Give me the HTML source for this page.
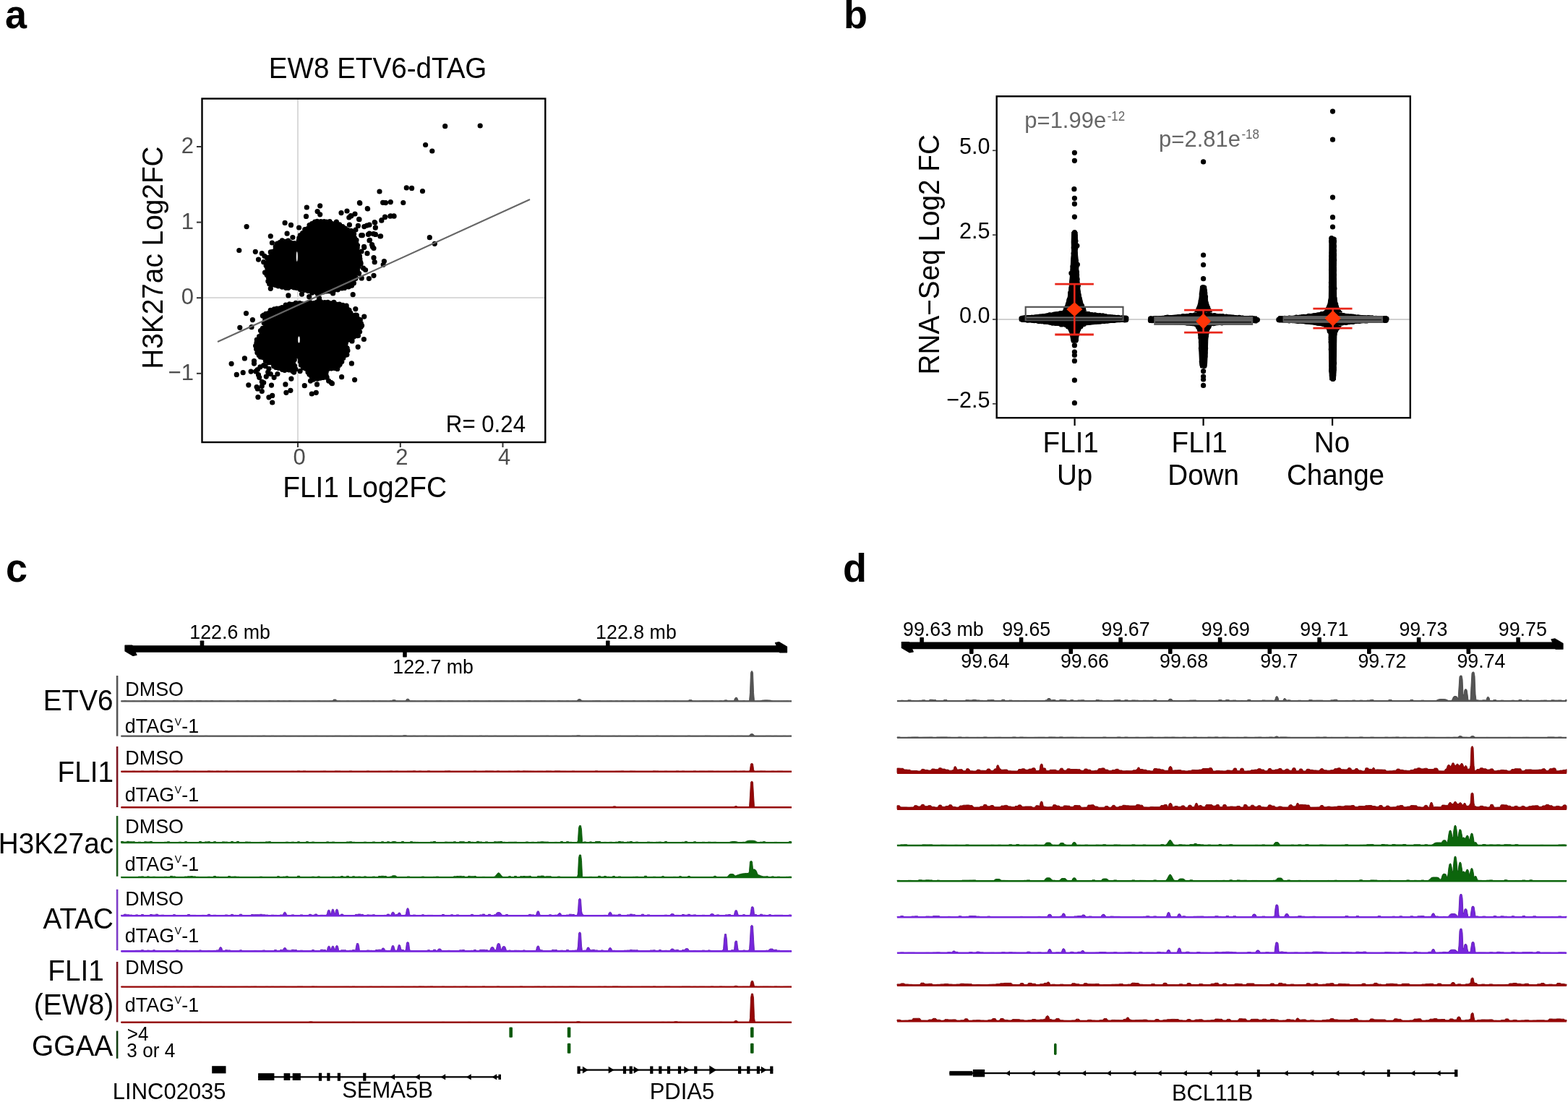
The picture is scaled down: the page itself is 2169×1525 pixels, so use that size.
<!DOCTYPE html>
<html><head><meta charset="utf-8"><title>Figure</title>
<style>
html,body{margin:0;padding:0;background:#fff;}
svg{display:block;font-family:'Liberation Sans', Arial, Helvetica, sans-serif;}
</style></head>
<body>
<svg width="2169" height="1525" viewBox="0 0 2169 1525">
<rect x="0" y="0" width="2169" height="1525" fill="#fff"/>
<text transform="translate(7,39) scale(1,1.04)" font-size="54" fill="#000" text-anchor="start" font-weight="bold" >a</text>
<text transform="translate(522.6,108) scale(1,1.04)" font-size="38.6" fill="#000" text-anchor="middle" >EW8 ETV6-dTAG</text>
<line x1="412" y1="137.5" x2="412" y2="611" stroke="#dadada" stroke-width="2" />
<line x1="280.5" y1="412.1" x2="753.3" y2="412.1" stroke="#dadada" stroke-width="2" />
<polygon points="369.5,371.1 370.7,390.3 377.9,392.7 393.5,397.5 407.9,396.3 419.9,401.1 437.9,404.7 455.8,402.3 473.8,397.5 487,393.9 489.4,387.9 491.8,379.5 494.2,373.5 497.8,363.9 495.4,351.9 494.2,342.3 491.8,330.3 489.4,323.2 479.8,318.4 472.6,314.8 465.4,310.6 453.4,308.2 443.9,305.8 435.5,308.2 427.1,313.6 418.7,322 413.9,329.1 412.7,337.5 410.3,339.9 405.5,336.3 395.9,333.9 388.7,333.9 383.9,338.7 381.5,344.7 376.7,351.9 371.9,359.1 369.5,363.9" fill="#000" stroke="#000" stroke-width="3" stroke-linejoin="round"/>
<path d="M366.2,371.1a3.6,3.6 0 1,0 7.2,0a3.6,3.6 0 1,0 -7.2,0M366.1,375.7a3.6,3.6 0 1,0 7.2,0a3.6,3.6 0 1,0 -7.2,0M365.6,380.5a3.6,3.6 0 1,0 7.2,0a3.6,3.6 0 1,0 -7.2,0M367.7,383.7a3.6,3.6 0 1,0 7.2,0a3.6,3.6 0 1,0 -7.2,0M367.3,389.2a3.6,3.6 0 1,0 7.2,0a3.6,3.6 0 1,0 -7.2,0M369.1,393a3.6,3.6 0 1,0 7.2,0a3.6,3.6 0 1,0 -7.2,0M373.4,394a3.6,3.6 0 1,0 7.2,0a3.6,3.6 0 1,0 -7.2,0M377.9,394.7a3.6,3.6 0 1,0 7.2,0a3.6,3.6 0 1,0 -7.2,0M381.3,395.8a3.6,3.6 0 1,0 7.2,0a3.6,3.6 0 1,0 -7.2,0M386.6,397.1a3.6,3.6 0 1,0 7.2,0a3.6,3.6 0 1,0 -7.2,0M391.9,398.3a3.6,3.6 0 1,0 7.2,0a3.6,3.6 0 1,0 -7.2,0M395.2,398.3a3.6,3.6 0 1,0 7.2,0a3.6,3.6 0 1,0 -7.2,0M399.8,396.6a3.6,3.6 0 1,0 7.2,0a3.6,3.6 0 1,0 -7.2,0M403.2,398a3.6,3.6 0 1,0 7.2,0a3.6,3.6 0 1,0 -7.2,0M406.8,398.5a3.6,3.6 0 1,0 7.2,0a3.6,3.6 0 1,0 -7.2,0M411.9,400.6a3.6,3.6 0 1,0 7.2,0a3.6,3.6 0 1,0 -7.2,0M417.6,401.5a3.6,3.6 0 1,0 7.2,0a3.6,3.6 0 1,0 -7.2,0M422.8,402.7a3.6,3.6 0 1,0 7.2,0a3.6,3.6 0 1,0 -7.2,0M428.1,405.1a3.6,3.6 0 1,0 7.2,0a3.6,3.6 0 1,0 -7.2,0M431.9,403.6a3.6,3.6 0 1,0 7.2,0a3.6,3.6 0 1,0 -7.2,0M435.7,406.4a3.6,3.6 0 1,0 7.2,0a3.6,3.6 0 1,0 -7.2,0M439.9,404.8a3.6,3.6 0 1,0 7.2,0a3.6,3.6 0 1,0 -7.2,0M443.8,403.9a3.6,3.6 0 1,0 7.2,0a3.6,3.6 0 1,0 -7.2,0M447.8,402.9a3.6,3.6 0 1,0 7.2,0a3.6,3.6 0 1,0 -7.2,0M452.7,402.9a3.6,3.6 0 1,0 7.2,0a3.6,3.6 0 1,0 -7.2,0M458.2,401.8a3.6,3.6 0 1,0 7.2,0a3.6,3.6 0 1,0 -7.2,0M463.8,400.8a3.6,3.6 0 1,0 7.2,0a3.6,3.6 0 1,0 -7.2,0M469.3,398.8a3.6,3.6 0 1,0 7.2,0a3.6,3.6 0 1,0 -7.2,0M472.9,398.4a3.6,3.6 0 1,0 7.2,0a3.6,3.6 0 1,0 -7.2,0M478.5,397a3.6,3.6 0 1,0 7.2,0a3.6,3.6 0 1,0 -7.2,0M482.9,395.2a3.6,3.6 0 1,0 7.2,0a3.6,3.6 0 1,0 -7.2,0M485.8,391.8a3.6,3.6 0 1,0 7.2,0a3.6,3.6 0 1,0 -7.2,0M486,386.8a3.6,3.6 0 1,0 7.2,0a3.6,3.6 0 1,0 -7.2,0M488.5,384.1a3.6,3.6 0 1,0 7.2,0a3.6,3.6 0 1,0 -7.2,0M488.1,377.8a3.6,3.6 0 1,0 7.2,0a3.6,3.6 0 1,0 -7.2,0M490.9,373.3a3.6,3.6 0 1,0 7.2,0a3.6,3.6 0 1,0 -7.2,0M491.9,369.8a3.6,3.6 0 1,0 7.2,0a3.6,3.6 0 1,0 -7.2,0M495.3,365.5a3.6,3.6 0 1,0 7.2,0a3.6,3.6 0 1,0 -7.2,0M494.6,361.6a3.6,3.6 0 1,0 7.2,0a3.6,3.6 0 1,0 -7.2,0M494.3,358.4a3.6,3.6 0 1,0 7.2,0a3.6,3.6 0 1,0 -7.2,0M493.9,354.3a3.6,3.6 0 1,0 7.2,0a3.6,3.6 0 1,0 -7.2,0M491.9,348.8a3.6,3.6 0 1,0 7.2,0a3.6,3.6 0 1,0 -7.2,0M490.6,343.1a3.6,3.6 0 1,0 7.2,0a3.6,3.6 0 1,0 -7.2,0M490.9,339.6a3.6,3.6 0 1,0 7.2,0a3.6,3.6 0 1,0 -7.2,0M489.1,336.7a3.6,3.6 0 1,0 7.2,0a3.6,3.6 0 1,0 -7.2,0M489.4,332.3a3.6,3.6 0 1,0 7.2,0a3.6,3.6 0 1,0 -7.2,0M486.9,329.3a3.6,3.6 0 1,0 7.2,0a3.6,3.6 0 1,0 -7.2,0M486,323.8a3.6,3.6 0 1,0 7.2,0a3.6,3.6 0 1,0 -7.2,0M482,319.4a3.6,3.6 0 1,0 7.2,0a3.6,3.6 0 1,0 -7.2,0M477.7,318.7a3.6,3.6 0 1,0 7.2,0a3.6,3.6 0 1,0 -7.2,0M473.9,316.2a3.6,3.6 0 1,0 7.2,0a3.6,3.6 0 1,0 -7.2,0M469.5,314.3a3.6,3.6 0 1,0 7.2,0a3.6,3.6 0 1,0 -7.2,0M466,310.9a3.6,3.6 0 1,0 7.2,0a3.6,3.6 0 1,0 -7.2,0M461.1,310.1a3.6,3.6 0 1,0 7.2,0a3.6,3.6 0 1,0 -7.2,0M456,309.7a3.6,3.6 0 1,0 7.2,0a3.6,3.6 0 1,0 -7.2,0M452.5,306.7a3.6,3.6 0 1,0 7.2,0a3.6,3.6 0 1,0 -7.2,0M447.9,307a3.6,3.6 0 1,0 7.2,0a3.6,3.6 0 1,0 -7.2,0M444.7,306.6a3.6,3.6 0 1,0 7.2,0a3.6,3.6 0 1,0 -7.2,0M440.3,306.7a3.6,3.6 0 1,0 7.2,0a3.6,3.6 0 1,0 -7.2,0M435.2,306.3a3.6,3.6 0 1,0 7.2,0a3.6,3.6 0 1,0 -7.2,0M432,307.2a3.6,3.6 0 1,0 7.2,0a3.6,3.6 0 1,0 -7.2,0M427.9,309.5a3.6,3.6 0 1,0 7.2,0a3.6,3.6 0 1,0 -7.2,0M424.4,311.6a3.6,3.6 0 1,0 7.2,0a3.6,3.6 0 1,0 -7.2,0M421.8,316.5a3.6,3.6 0 1,0 7.2,0a3.6,3.6 0 1,0 -7.2,0M418.1,317.5a3.6,3.6 0 1,0 7.2,0a3.6,3.6 0 1,0 -7.2,0M415,322.5a3.6,3.6 0 1,0 7.2,0a3.6,3.6 0 1,0 -7.2,0M411.7,325.6a3.6,3.6 0 1,0 7.2,0a3.6,3.6 0 1,0 -7.2,0M410.2,329.4a3.6,3.6 0 1,0 7.2,0a3.6,3.6 0 1,0 -7.2,0M409.6,333.3a3.6,3.6 0 1,0 7.2,0a3.6,3.6 0 1,0 -7.2,0M408.8,338a3.6,3.6 0 1,0 7.2,0a3.6,3.6 0 1,0 -7.2,0M406.4,338.1a3.6,3.6 0 1,0 7.2,0a3.6,3.6 0 1,0 -7.2,0M403.5,336.7a3.6,3.6 0 1,0 7.2,0a3.6,3.6 0 1,0 -7.2,0M398.3,335.5a3.6,3.6 0 1,0 7.2,0a3.6,3.6 0 1,0 -7.2,0M395,333.2a3.6,3.6 0 1,0 7.2,0a3.6,3.6 0 1,0 -7.2,0M391,334.4a3.6,3.6 0 1,0 7.2,0a3.6,3.6 0 1,0 -7.2,0M386.7,332.8a3.6,3.6 0 1,0 7.2,0a3.6,3.6 0 1,0 -7.2,0M383.8,335.3a3.6,3.6 0 1,0 7.2,0a3.6,3.6 0 1,0 -7.2,0M379.9,337.1a3.6,3.6 0 1,0 7.2,0a3.6,3.6 0 1,0 -7.2,0M377.6,341.4a3.6,3.6 0 1,0 7.2,0a3.6,3.6 0 1,0 -7.2,0M377.6,345.2a3.6,3.6 0 1,0 7.2,0a3.6,3.6 0 1,0 -7.2,0M373.5,348.4a3.6,3.6 0 1,0 7.2,0a3.6,3.6 0 1,0 -7.2,0M372.7,353.2a3.6,3.6 0 1,0 7.2,0a3.6,3.6 0 1,0 -7.2,0M370,355.5a3.6,3.6 0 1,0 7.2,0a3.6,3.6 0 1,0 -7.2,0M367.3,358.1a3.6,3.6 0 1,0 7.2,0a3.6,3.6 0 1,0 -7.2,0M366.4,363.9a3.6,3.6 0 1,0 7.2,0a3.6,3.6 0 1,0 -7.2,0M364.5,367.6a3.6,3.6 0 1,0 7.2,0a3.6,3.6 0 1,0 -7.2,0" fill="#000"/>
<polygon points="364.7,436 374.3,431.2 389.9,425.2 407.9,420.4 417.5,421.6 431.9,420.4 443.9,419.2 455.8,419.2 467.8,420.4 477.4,424 483.4,431.2 487,436 494.2,438.4 501.4,450.3 496.6,456.3 494.2,464.7 487,468.3 479.8,470.7 476.2,476.7 481,483.9 479.8,491.1 471.4,495.9 470.2,505.5 465.4,510.3 454.6,510.3 449.8,515.1 448.6,522.3 441.5,524.7 431.9,523.5 427.1,517.5 423.5,511.5 417.5,503.1 416.3,494.7 411.5,491.1 405.5,497.1 405.5,504.3 407.9,512.7 401.9,512.7 393.5,510.3 383.9,507.9 376.7,503.1 369.5,499.5 364.7,495.9 357.5,488.7 355.1,477.9 357.5,468.3 362.3,459.9 367.1,450.3 365.9,443.2" fill="#000" stroke="#000" stroke-width="3" stroke-linejoin="round"/>
<path d="M361.3,436.2a3.6,3.6 0 1,0 7.2,0a3.6,3.6 0 1,0 -7.2,0M364.1,434.3a3.6,3.6 0 1,0 7.2,0a3.6,3.6 0 1,0 -7.2,0M367.7,433.5a3.6,3.6 0 1,0 7.2,0a3.6,3.6 0 1,0 -7.2,0M370.6,429.3a3.6,3.6 0 1,0 7.2,0a3.6,3.6 0 1,0 -7.2,0M375.7,427.9a3.6,3.6 0 1,0 7.2,0a3.6,3.6 0 1,0 -7.2,0M379.4,427.2a3.6,3.6 0 1,0 7.2,0a3.6,3.6 0 1,0 -7.2,0M383.5,426.8a3.6,3.6 0 1,0 7.2,0a3.6,3.6 0 1,0 -7.2,0M386.6,425.5a3.6,3.6 0 1,0 7.2,0a3.6,3.6 0 1,0 -7.2,0M391.6,422.2a3.6,3.6 0 1,0 7.2,0a3.6,3.6 0 1,0 -7.2,0M396.8,420.9a3.6,3.6 0 1,0 7.2,0a3.6,3.6 0 1,0 -7.2,0M400.7,421.4a3.6,3.6 0 1,0 7.2,0a3.6,3.6 0 1,0 -7.2,0M405.5,419.3a3.6,3.6 0 1,0 7.2,0a3.6,3.6 0 1,0 -7.2,0M411,419.6a3.6,3.6 0 1,0 7.2,0a3.6,3.6 0 1,0 -7.2,0M414.1,420.7a3.6,3.6 0 1,0 7.2,0a3.6,3.6 0 1,0 -7.2,0M419.1,420.6a3.6,3.6 0 1,0 7.2,0a3.6,3.6 0 1,0 -7.2,0M422.7,420.4a3.6,3.6 0 1,0 7.2,0a3.6,3.6 0 1,0 -7.2,0M425.9,418.8a3.6,3.6 0 1,0 7.2,0a3.6,3.6 0 1,0 -7.2,0M431.5,419.4a3.6,3.6 0 1,0 7.2,0a3.6,3.6 0 1,0 -7.2,0M435.3,417.9a3.6,3.6 0 1,0 7.2,0a3.6,3.6 0 1,0 -7.2,0M440,417.5a3.6,3.6 0 1,0 7.2,0a3.6,3.6 0 1,0 -7.2,0M445.6,418.7a3.6,3.6 0 1,0 7.2,0a3.6,3.6 0 1,0 -7.2,0M449.9,418.4a3.6,3.6 0 1,0 7.2,0a3.6,3.6 0 1,0 -7.2,0M454.1,419.9a3.6,3.6 0 1,0 7.2,0a3.6,3.6 0 1,0 -7.2,0M458.3,418.3a3.6,3.6 0 1,0 7.2,0a3.6,3.6 0 1,0 -7.2,0M461.3,421a3.6,3.6 0 1,0 7.2,0a3.6,3.6 0 1,0 -7.2,0M466,421.2a3.6,3.6 0 1,0 7.2,0a3.6,3.6 0 1,0 -7.2,0M470.5,422.3a3.6,3.6 0 1,0 7.2,0a3.6,3.6 0 1,0 -7.2,0M475.6,423a3.6,3.6 0 1,0 7.2,0a3.6,3.6 0 1,0 -7.2,0M476.6,427a3.6,3.6 0 1,0 7.2,0a3.6,3.6 0 1,0 -7.2,0M479.5,429.4a3.6,3.6 0 1,0 7.2,0a3.6,3.6 0 1,0 -7.2,0M481.3,433a3.6,3.6 0 1,0 7.2,0a3.6,3.6 0 1,0 -7.2,0M484.8,436.5a3.6,3.6 0 1,0 7.2,0a3.6,3.6 0 1,0 -7.2,0M489.8,436.3a3.6,3.6 0 1,0 7.2,0a3.6,3.6 0 1,0 -7.2,0M490.9,440.5a3.6,3.6 0 1,0 7.2,0a3.6,3.6 0 1,0 -7.2,0M494.7,442.6a3.6,3.6 0 1,0 7.2,0a3.6,3.6 0 1,0 -7.2,0M495.8,447.6a3.6,3.6 0 1,0 7.2,0a3.6,3.6 0 1,0 -7.2,0M497,450.6a3.6,3.6 0 1,0 7.2,0a3.6,3.6 0 1,0 -7.2,0M494,453.7a3.6,3.6 0 1,0 7.2,0a3.6,3.6 0 1,0 -7.2,0M494,459.1a3.6,3.6 0 1,0 7.2,0a3.6,3.6 0 1,0 -7.2,0M491.9,464.5a3.6,3.6 0 1,0 7.2,0a3.6,3.6 0 1,0 -7.2,0M485.6,466.2a3.6,3.6 0 1,0 7.2,0a3.6,3.6 0 1,0 -7.2,0M483,470.5a3.6,3.6 0 1,0 7.2,0a3.6,3.6 0 1,0 -7.2,0M477.5,470.5a3.6,3.6 0 1,0 7.2,0a3.6,3.6 0 1,0 -7.2,0M474.7,474.9a3.6,3.6 0 1,0 7.2,0a3.6,3.6 0 1,0 -7.2,0M474,479.1a3.6,3.6 0 1,0 7.2,0a3.6,3.6 0 1,0 -7.2,0M476.4,481.9a3.6,3.6 0 1,0 7.2,0a3.6,3.6 0 1,0 -7.2,0M477.3,485.2a3.6,3.6 0 1,0 7.2,0a3.6,3.6 0 1,0 -7.2,0M476.3,490.8a3.6,3.6 0 1,0 7.2,0a3.6,3.6 0 1,0 -7.2,0M473.3,491.8a3.6,3.6 0 1,0 7.2,0a3.6,3.6 0 1,0 -7.2,0M471.2,495.5a3.6,3.6 0 1,0 7.2,0a3.6,3.6 0 1,0 -7.2,0M467.6,496.9a3.6,3.6 0 1,0 7.2,0a3.6,3.6 0 1,0 -7.2,0M469.2,500.5a3.6,3.6 0 1,0 7.2,0a3.6,3.6 0 1,0 -7.2,0M466.4,504.5a3.6,3.6 0 1,0 7.2,0a3.6,3.6 0 1,0 -7.2,0M464.4,506.6a3.6,3.6 0 1,0 7.2,0a3.6,3.6 0 1,0 -7.2,0M463.1,510.4a3.6,3.6 0 1,0 7.2,0a3.6,3.6 0 1,0 -7.2,0M459.1,509.4a3.6,3.6 0 1,0 7.2,0a3.6,3.6 0 1,0 -7.2,0M454.6,510a3.6,3.6 0 1,0 7.2,0a3.6,3.6 0 1,0 -7.2,0M449,511.4a3.6,3.6 0 1,0 7.2,0a3.6,3.6 0 1,0 -7.2,0M447.5,515.3a3.6,3.6 0 1,0 7.2,0a3.6,3.6 0 1,0 -7.2,0M447.5,519.6a3.6,3.6 0 1,0 7.2,0a3.6,3.6 0 1,0 -7.2,0M443.6,522.5a3.6,3.6 0 1,0 7.2,0a3.6,3.6 0 1,0 -7.2,0M439.4,523.2a3.6,3.6 0 1,0 7.2,0a3.6,3.6 0 1,0 -7.2,0M435.5,524.1a3.6,3.6 0 1,0 7.2,0a3.6,3.6 0 1,0 -7.2,0M429.8,525.2a3.6,3.6 0 1,0 7.2,0a3.6,3.6 0 1,0 -7.2,0M427.2,520.7a3.6,3.6 0 1,0 7.2,0a3.6,3.6 0 1,0 -7.2,0M424.3,518.1a3.6,3.6 0 1,0 7.2,0a3.6,3.6 0 1,0 -7.2,0M422.4,515a3.6,3.6 0 1,0 7.2,0a3.6,3.6 0 1,0 -7.2,0M419.7,510.2a3.6,3.6 0 1,0 7.2,0a3.6,3.6 0 1,0 -7.2,0M415.8,508.9a3.6,3.6 0 1,0 7.2,0a3.6,3.6 0 1,0 -7.2,0M413,505.2a3.6,3.6 0 1,0 7.2,0a3.6,3.6 0 1,0 -7.2,0M411.8,500.3a3.6,3.6 0 1,0 7.2,0a3.6,3.6 0 1,0 -7.2,0M411.4,495.4a3.6,3.6 0 1,0 7.2,0a3.6,3.6 0 1,0 -7.2,0M408.7,492.3a3.6,3.6 0 1,0 7.2,0a3.6,3.6 0 1,0 -7.2,0M406.2,492.3a3.6,3.6 0 1,0 7.2,0a3.6,3.6 0 1,0 -7.2,0M403.7,497.7a3.6,3.6 0 1,0 7.2,0a3.6,3.6 0 1,0 -7.2,0M401.9,501.9a3.6,3.6 0 1,0 7.2,0a3.6,3.6 0 1,0 -7.2,0M403.9,506.3a3.6,3.6 0 1,0 7.2,0a3.6,3.6 0 1,0 -7.2,0M405.3,511a3.6,3.6 0 1,0 7.2,0a3.6,3.6 0 1,0 -7.2,0M401.1,513.6a3.6,3.6 0 1,0 7.2,0a3.6,3.6 0 1,0 -7.2,0M396.2,511.9a3.6,3.6 0 1,0 7.2,0a3.6,3.6 0 1,0 -7.2,0M390.2,512.3a3.6,3.6 0 1,0 7.2,0a3.6,3.6 0 1,0 -7.2,0M387,511.5a3.6,3.6 0 1,0 7.2,0a3.6,3.6 0 1,0 -7.2,0M381.7,509.3a3.6,3.6 0 1,0 7.2,0a3.6,3.6 0 1,0 -7.2,0M378,508.4a3.6,3.6 0 1,0 7.2,0a3.6,3.6 0 1,0 -7.2,0M375,506.6a3.6,3.6 0 1,0 7.2,0a3.6,3.6 0 1,0 -7.2,0M372.2,501.7a3.6,3.6 0 1,0 7.2,0a3.6,3.6 0 1,0 -7.2,0M368.2,501.7a3.6,3.6 0 1,0 7.2,0a3.6,3.6 0 1,0 -7.2,0M363.8,499.5a3.6,3.6 0 1,0 7.2,0a3.6,3.6 0 1,0 -7.2,0M360.4,494.7a3.6,3.6 0 1,0 7.2,0a3.6,3.6 0 1,0 -7.2,0M356.7,494a3.6,3.6 0 1,0 7.2,0a3.6,3.6 0 1,0 -7.2,0M354.6,491.6a3.6,3.6 0 1,0 7.2,0a3.6,3.6 0 1,0 -7.2,0M352.3,488.1a3.6,3.6 0 1,0 7.2,0a3.6,3.6 0 1,0 -7.2,0M351,483a3.6,3.6 0 1,0 7.2,0a3.6,3.6 0 1,0 -7.2,0M350,478.5a3.6,3.6 0 1,0 7.2,0a3.6,3.6 0 1,0 -7.2,0M351.4,474.3a3.6,3.6 0 1,0 7.2,0a3.6,3.6 0 1,0 -7.2,0M351.7,470.2a3.6,3.6 0 1,0 7.2,0a3.6,3.6 0 1,0 -7.2,0M355,465.6a3.6,3.6 0 1,0 7.2,0a3.6,3.6 0 1,0 -7.2,0M358.4,462.3a3.6,3.6 0 1,0 7.2,0a3.6,3.6 0 1,0 -7.2,0M358.5,458.6a3.6,3.6 0 1,0 7.2,0a3.6,3.6 0 1,0 -7.2,0M359.8,454.3a3.6,3.6 0 1,0 7.2,0a3.6,3.6 0 1,0 -7.2,0M363.9,451a3.6,3.6 0 1,0 7.2,0a3.6,3.6 0 1,0 -7.2,0M361.6,446.9a3.6,3.6 0 1,0 7.2,0a3.6,3.6 0 1,0 -7.2,0M363.1,442a3.6,3.6 0 1,0 7.2,0a3.6,3.6 0 1,0 -7.2,0M359.8,437.1a3.6,3.6 0 1,0 7.2,0a3.6,3.6 0 1,0 -7.2,0" fill="#000"/>
<path d="M337.5,313.6a3.6,3.6 0 1,0 7.2,0a3.6,3.6 0 1,0 -7.2,0M327.2,346.5a3.6,3.6 0 1,0 7.2,0a3.6,3.6 0 1,0 -7.2,0M349.7,348.3a3.6,3.6 0 1,0 7.2,0a3.6,3.6 0 1,0 -7.2,0M370.7,326.8a3.6,3.6 0 1,0 7.2,0a3.6,3.6 0 1,0 -7.2,0M372.8,336a3.6,3.6 0 1,0 7.2,0a3.6,3.6 0 1,0 -7.2,0M390.5,308.4a3.6,3.6 0 1,0 7.2,0a3.6,3.6 0 1,0 -7.2,0M398.9,311.4a3.6,3.6 0 1,0 7.2,0a3.6,3.6 0 1,0 -7.2,0M410,315a3.6,3.6 0 1,0 7.2,0a3.6,3.6 0 1,0 -7.2,0M420.7,287a3.6,3.6 0 1,0 7.2,0a3.6,3.6 0 1,0 -7.2,0M439.1,284.8a3.6,3.6 0 1,0 7.2,0a3.6,3.6 0 1,0 -7.2,0M419.9,299.4a3.6,3.6 0 1,0 7.2,0a3.6,3.6 0 1,0 -7.2,0M435.5,292.6a3.6,3.6 0 1,0 7.2,0a3.6,3.6 0 1,0 -7.2,0M439.1,296.8a3.6,3.6 0 1,0 7.2,0a3.6,3.6 0 1,0 -7.2,0M468.4,294.6a3.6,3.6 0 1,0 7.2,0a3.6,3.6 0 1,0 -7.2,0M481.6,298.6a3.6,3.6 0 1,0 7.2,0a3.6,3.6 0 1,0 -7.2,0M479.2,301a3.6,3.6 0 1,0 7.2,0a3.6,3.6 0 1,0 -7.2,0M493,303.4a3.6,3.6 0 1,0 7.2,0a3.6,3.6 0 1,0 -7.2,0M505,289a3.6,3.6 0 1,0 7.2,0a3.6,3.6 0 1,0 -7.2,0M494.2,281.2a3.6,3.6 0 1,0 7.2,0a3.6,3.6 0 1,0 -7.2,0M393.5,323.2a3.6,3.6 0 1,0 7.2,0a3.6,3.6 0 1,0 -7.2,0M401.3,328.5a3.6,3.6 0 1,0 7.2,0a3.6,3.6 0 1,0 -7.2,0M358.7,350.7a3.6,3.6 0 1,0 7.2,0a3.6,3.6 0 1,0 -7.2,0M362.3,354.3a3.6,3.6 0 1,0 7.2,0a3.6,3.6 0 1,0 -7.2,0M353.9,359.1a3.6,3.6 0 1,0 7.2,0a3.6,3.6 0 1,0 -7.2,0M361.1,362.7a3.6,3.6 0 1,0 7.2,0a3.6,3.6 0 1,0 -7.2,0M370.7,348.9a3.6,3.6 0 1,0 7.2,0a3.6,3.6 0 1,0 -7.2,0M362.9,377.1a3.6,3.6 0 1,0 7.2,0a3.6,3.6 0 1,0 -7.2,0M370.7,399.3a3.6,3.6 0 1,0 7.2,0a3.6,3.6 0 1,0 -7.2,0M395.3,408.9a3.6,3.6 0 1,0 7.2,0a3.6,3.6 0 1,0 -7.2,0M413.9,407.1a3.6,3.6 0 1,0 7.2,0a3.6,3.6 0 1,0 -7.2,0M424.1,410.7a3.6,3.6 0 1,0 7.2,0a3.6,3.6 0 1,0 -7.2,0M437.9,412.5a3.6,3.6 0 1,0 7.2,0a3.6,3.6 0 1,0 -7.2,0M457,405.9a3.6,3.6 0 1,0 7.2,0a3.6,3.6 0 1,0 -7.2,0M484.6,407.7a3.6,3.6 0 1,0 7.2,0a3.6,3.6 0 1,0 -7.2,0M496.6,384.9a3.6,3.6 0 1,0 7.2,0a3.6,3.6 0 1,0 -7.2,0M506.8,385.5a3.6,3.6 0 1,0 7.2,0a3.6,3.6 0 1,0 -7.2,0M513.4,381.3a3.6,3.6 0 1,0 7.2,0a3.6,3.6 0 1,0 -7.2,0M527.8,361.5a3.6,3.6 0 1,0 7.2,0a3.6,3.6 0 1,0 -7.2,0M526.6,366.3a3.6,3.6 0 1,0 7.2,0a3.6,3.6 0 1,0 -7.2,0M514.6,362.7a3.6,3.6 0 1,0 7.2,0a3.6,3.6 0 1,0 -7.2,0M513.4,356.7a3.6,3.6 0 1,0 7.2,0a3.6,3.6 0 1,0 -7.2,0M504.4,350.7a3.6,3.6 0 1,0 7.2,0a3.6,3.6 0 1,0 -7.2,0M502,373.5a3.6,3.6 0 1,0 7.2,0a3.6,3.6 0 1,0 -7.2,0M495.4,363.9a3.6,3.6 0 1,0 7.2,0a3.6,3.6 0 1,0 -7.2,0M500.2,342.3a3.6,3.6 0 1,0 7.2,0a3.6,3.6 0 1,0 -7.2,0M513.4,343.5a3.6,3.6 0 1,0 7.2,0a3.6,3.6 0 1,0 -7.2,0M511,338.7a3.6,3.6 0 1,0 7.2,0a3.6,3.6 0 1,0 -7.2,0M507.4,332.7a3.6,3.6 0 1,0 7.2,0a3.6,3.6 0 1,0 -7.2,0M523,326.8a3.6,3.6 0 1,0 7.2,0a3.6,3.6 0 1,0 -7.2,0M515.8,324.4a3.6,3.6 0 1,0 7.2,0a3.6,3.6 0 1,0 -7.2,0M507.4,323.2a3.6,3.6 0 1,0 7.2,0a3.6,3.6 0 1,0 -7.2,0M497.8,325.6a3.6,3.6 0 1,0 7.2,0a3.6,3.6 0 1,0 -7.2,0M524.2,305.2a3.6,3.6 0 1,0 7.2,0a3.6,3.6 0 1,0 -7.2,0M529,300.4a3.6,3.6 0 1,0 7.2,0a3.6,3.6 0 1,0 -7.2,0M536.2,299.2a3.6,3.6 0 1,0 7.2,0a3.6,3.6 0 1,0 -7.2,0M541.5,299.2a3.6,3.6 0 1,0 7.2,0a3.6,3.6 0 1,0 -7.2,0M514.6,307.6a3.6,3.6 0 1,0 7.2,0a3.6,3.6 0 1,0 -7.2,0M515.8,314.8a3.6,3.6 0 1,0 7.2,0a3.6,3.6 0 1,0 -7.2,0M507.4,311.2a3.6,3.6 0 1,0 7.2,0a3.6,3.6 0 1,0 -7.2,0M500.2,313.6a3.6,3.6 0 1,0 7.2,0a3.6,3.6 0 1,0 -7.2,0M491.8,312.4a3.6,3.6 0 1,0 7.2,0a3.6,3.6 0 1,0 -7.2,0M479.8,311.2a3.6,3.6 0 1,0 7.2,0a3.6,3.6 0 1,0 -7.2,0M461.8,307a3.6,3.6 0 1,0 7.2,0a3.6,3.6 0 1,0 -7.2,0M470.2,313.6a3.6,3.6 0 1,0 7.2,0a3.6,3.6 0 1,0 -7.2,0M476.2,395.1a3.6,3.6 0 1,0 7.2,0a3.6,3.6 0 1,0 -7.2,0M481,391.5a3.6,3.6 0 1,0 7.2,0a3.6,3.6 0 1,0 -7.2,0M368.3,363.9a3.6,3.6 0 1,0 7.2,0a3.6,3.6 0 1,0 -7.2,0M373.1,371.1a3.6,3.6 0 1,0 7.2,0a3.6,3.6 0 1,0 -7.2,0M365.9,356.7a3.6,3.6 0 1,0 7.2,0a3.6,3.6 0 1,0 -7.2,0M488.2,385.5a3.6,3.6 0 1,0 7.2,0a3.6,3.6 0 1,0 -7.2,0M493,378.3a3.6,3.6 0 1,0 7.2,0a3.6,3.6 0 1,0 -7.2,0M499,371.1a3.6,3.6 0 1,0 7.2,0a3.6,3.6 0 1,0 -7.2,0M336.9,433.6a3.6,3.6 0 1,0 7.2,0a3.6,3.6 0 1,0 -7.2,0M345.8,442.6a3.6,3.6 0 1,0 7.2,0a3.6,3.6 0 1,0 -7.2,0M328.2,453.3a3.6,3.6 0 1,0 7.2,0a3.6,3.6 0 1,0 -7.2,0M344.4,452.7a3.6,3.6 0 1,0 7.2,0a3.6,3.6 0 1,0 -7.2,0M356.9,457.5a3.6,3.6 0 1,0 7.2,0a3.6,3.6 0 1,0 -7.2,0M355.7,467.1a3.6,3.6 0 1,0 7.2,0a3.6,3.6 0 1,0 -7.2,0M351.5,476.7a3.6,3.6 0 1,0 7.2,0a3.6,3.6 0 1,0 -7.2,0M355.1,488.7a3.6,3.6 0 1,0 7.2,0a3.6,3.6 0 1,0 -7.2,0M334.8,495.9a3.6,3.6 0 1,0 7.2,0a3.6,3.6 0 1,0 -7.2,0M347.9,499.5a3.6,3.6 0 1,0 7.2,0a3.6,3.6 0 1,0 -7.2,0M347.9,503.1a3.6,3.6 0 1,0 7.2,0a3.6,3.6 0 1,0 -7.2,0M316.5,503.3a3.6,3.6 0 1,0 7.2,0a3.6,3.6 0 1,0 -7.2,0M323.7,518.4a3.6,3.6 0 1,0 7.2,0a3.6,3.6 0 1,0 -7.2,0M332.6,515.7a3.6,3.6 0 1,0 7.2,0a3.6,3.6 0 1,0 -7.2,0M343.5,514.1a3.6,3.6 0 1,0 7.2,0a3.6,3.6 0 1,0 -7.2,0M352.7,511.5a3.6,3.6 0 1,0 7.2,0a3.6,3.6 0 1,0 -7.2,0M363.5,506.7a3.6,3.6 0 1,0 7.2,0a3.6,3.6 0 1,0 -7.2,0M368.3,510.3a3.6,3.6 0 1,0 7.2,0a3.6,3.6 0 1,0 -7.2,0M355.1,522.3a3.6,3.6 0 1,0 7.2,0a3.6,3.6 0 1,0 -7.2,0M361.1,529.5a3.6,3.6 0 1,0 7.2,0a3.6,3.6 0 1,0 -7.2,0M358.7,528.3a3.6,3.6 0 1,0 7.2,0a3.6,3.6 0 1,0 -7.2,0M364.7,521.1a3.6,3.6 0 1,0 7.2,0a3.6,3.6 0 1,0 -7.2,0M370.7,517.5a3.6,3.6 0 1,0 7.2,0a3.6,3.6 0 1,0 -7.2,0M380.3,517.5a3.6,3.6 0 1,0 7.2,0a3.6,3.6 0 1,0 -7.2,0M375.5,522.3a3.6,3.6 0 1,0 7.2,0a3.6,3.6 0 1,0 -7.2,0M340.2,532.8a3.6,3.6 0 1,0 7.2,0a3.6,3.6 0 1,0 -7.2,0M351.5,535.5a3.6,3.6 0 1,0 7.2,0a3.6,3.6 0 1,0 -7.2,0M352.7,537.9a3.6,3.6 0 1,0 7.2,0a3.6,3.6 0 1,0 -7.2,0M358.7,541.5a3.6,3.6 0 1,0 7.2,0a3.6,3.6 0 1,0 -7.2,0M353.3,549.6a3.6,3.6 0 1,0 7.2,0a3.6,3.6 0 1,0 -7.2,0M368.3,549.8a3.6,3.6 0 1,0 7.2,0a3.6,3.6 0 1,0 -7.2,0M373.1,547.4a3.6,3.6 0 1,0 7.2,0a3.6,3.6 0 1,0 -7.2,0M373.1,557a3.6,3.6 0 1,0 7.2,0a3.6,3.6 0 1,0 -7.2,0M371.9,533.1a3.6,3.6 0 1,0 7.2,0a3.6,3.6 0 1,0 -7.2,0M391.3,531.9a3.6,3.6 0 1,0 7.2,0a3.6,3.6 0 1,0 -7.2,0M392.3,543.3a3.6,3.6 0 1,0 7.2,0a3.6,3.6 0 1,0 -7.2,0M398.3,540.3a3.6,3.6 0 1,0 7.2,0a3.6,3.6 0 1,0 -7.2,0M399.3,524.1a3.6,3.6 0 1,0 7.2,0a3.6,3.6 0 1,0 -7.2,0M403.1,515.1a3.6,3.6 0 1,0 7.2,0a3.6,3.6 0 1,0 -7.2,0M411.5,513.6a3.6,3.6 0 1,0 7.2,0a3.6,3.6 0 1,0 -7.2,0M417.7,533.7a3.6,3.6 0 1,0 7.2,0a3.6,3.6 0 1,0 -7.2,0M434.9,531.9a3.6,3.6 0 1,0 7.2,0a3.6,3.6 0 1,0 -7.2,0M427.7,545a3.6,3.6 0 1,0 7.2,0a3.6,3.6 0 1,0 -7.2,0M433.7,543.3a3.6,3.6 0 1,0 7.2,0a3.6,3.6 0 1,0 -7.2,0M455.8,530.7a3.6,3.6 0 1,0 7.2,0a3.6,3.6 0 1,0 -7.2,0M451,527.1a3.6,3.6 0 1,0 7.2,0a3.6,3.6 0 1,0 -7.2,0M448.6,522.3a3.6,3.6 0 1,0 7.2,0a3.6,3.6 0 1,0 -7.2,0M469,521.7a3.6,3.6 0 1,0 7.2,0a3.6,3.6 0 1,0 -7.2,0M487,525.6a3.6,3.6 0 1,0 7.2,0a3.6,3.6 0 1,0 -7.2,0M482.8,502.9a3.6,3.6 0 1,0 7.2,0a3.6,3.6 0 1,0 -7.2,0M491.6,480.1a3.6,3.6 0 1,0 7.2,0a3.6,3.6 0 1,0 -7.2,0M499.8,469.5a3.6,3.6 0 1,0 7.2,0a3.6,3.6 0 1,0 -7.2,0M500.2,438.1a3.6,3.6 0 1,0 7.2,0a3.6,3.6 0 1,0 -7.2,0M488.2,427.6a3.6,3.6 0 1,0 7.2,0a3.6,3.6 0 1,0 -7.2,0M495.4,452.7a3.6,3.6 0 1,0 7.2,0a3.6,3.6 0 1,0 -7.2,0M490.6,464.7a3.6,3.6 0 1,0 7.2,0a3.6,3.6 0 1,0 -7.2,0M356.3,507.9a3.6,3.6 0 1,0 7.2,0a3.6,3.6 0 1,0 -7.2,0M361.1,505.5a3.6,3.6 0 1,0 7.2,0a3.6,3.6 0 1,0 -7.2,0M350.3,513.9a3.6,3.6 0 1,0 7.2,0a3.6,3.6 0 1,0 -7.2,0M353.9,518.7a3.6,3.6 0 1,0 7.2,0a3.6,3.6 0 1,0 -7.2,0M367.1,515.1a3.6,3.6 0 1,0 7.2,0a3.6,3.6 0 1,0 -7.2,0M358.7,534.3a3.6,3.6 0 1,0 7.2,0a3.6,3.6 0 1,0 -7.2,0M425.9,527.1a3.6,3.6 0 1,0 7.2,0a3.6,3.6 0 1,0 -7.2,0M440.3,519.9a3.6,3.6 0 1,0 7.2,0a3.6,3.6 0 1,0 -7.2,0M454.6,529.5a3.6,3.6 0 1,0 7.2,0a3.6,3.6 0 1,0 -7.2,0M461.8,507.9a3.6,3.6 0 1,0 7.2,0a3.6,3.6 0 1,0 -7.2,0M466.6,503.1a3.6,3.6 0 1,0 7.2,0a3.6,3.6 0 1,0 -7.2,0M473.8,488.7a3.6,3.6 0 1,0 7.2,0a3.6,3.6 0 1,0 -7.2,0M476.2,481.5a3.6,3.6 0 1,0 7.2,0a3.6,3.6 0 1,0 -7.2,0M483.4,471.9a3.6,3.6 0 1,0 7.2,0a3.6,3.6 0 1,0 -7.2,0M488.2,436a3.6,3.6 0 1,0 7.2,0a3.6,3.6 0 1,0 -7.2,0M494.2,443.2a3.6,3.6 0 1,0 7.2,0a3.6,3.6 0 1,0 -7.2,0M612.1,174.7a3.6,3.6 0 1,0 7.2,0a3.6,3.6 0 1,0 -7.2,0M660.6,174a3.6,3.6 0 1,0 7.2,0a3.6,3.6 0 1,0 -7.2,0M585,200.5a3.6,3.6 0 1,0 7.2,0a3.6,3.6 0 1,0 -7.2,0M594.2,209a3.6,3.6 0 1,0 7.2,0a3.6,3.6 0 1,0 -7.2,0M521.4,265a3.6,3.6 0 1,0 7.2,0a3.6,3.6 0 1,0 -7.2,0M558.7,259.9a3.6,3.6 0 1,0 7.2,0a3.6,3.6 0 1,0 -7.2,0M566,260.4a3.6,3.6 0 1,0 7.2,0a3.6,3.6 0 1,0 -7.2,0M580.9,264.5a3.6,3.6 0 1,0 7.2,0a3.6,3.6 0 1,0 -7.2,0M493.8,280.7a3.6,3.6 0 1,0 7.2,0a3.6,3.6 0 1,0 -7.2,0M504.7,288.7a3.6,3.6 0 1,0 7.2,0a3.6,3.6 0 1,0 -7.2,0M526,280.3a3.6,3.6 0 1,0 7.2,0a3.6,3.6 0 1,0 -7.2,0M529.9,280.6a3.6,3.6 0 1,0 7.2,0a3.6,3.6 0 1,0 -7.2,0M536.7,279.6a3.6,3.6 0 1,0 7.2,0a3.6,3.6 0 1,0 -7.2,0M554.2,280.5a3.6,3.6 0 1,0 7.2,0a3.6,3.6 0 1,0 -7.2,0M590.7,328.7a3.6,3.6 0 1,0 7.2,0a3.6,3.6 0 1,0 -7.2,0M597.7,337.3a3.6,3.6 0 1,0 7.2,0a3.6,3.6 0 1,0 -7.2,0M482.3,298.8a3.6,3.6 0 1,0 7.2,0a3.6,3.6 0 1,0 -7.2,0M493.4,303.7a3.6,3.6 0 1,0 7.2,0a3.6,3.6 0 1,0 -7.2,0M524.3,304.7a3.6,3.6 0 1,0 7.2,0a3.6,3.6 0 1,0 -7.2,0M528.9,300.1a3.6,3.6 0 1,0 7.2,0a3.6,3.6 0 1,0 -7.2,0M536.7,298.8a3.6,3.6 0 1,0 7.2,0a3.6,3.6 0 1,0 -7.2,0M541.3,298.8a3.6,3.6 0 1,0 7.2,0a3.6,3.6 0 1,0 -7.2,0M515.1,308a3.6,3.6 0 1,0 7.2,0a3.6,3.6 0 1,0 -7.2,0M515.7,315.2a3.6,3.6 0 1,0 7.2,0a3.6,3.6 0 1,0 -7.2,0M503.9,312a3.6,3.6 0 1,0 7.2,0a3.6,3.6 0 1,0 -7.2,0M496.1,325.7a3.6,3.6 0 1,0 7.2,0a3.6,3.6 0 1,0 -7.2,0M505.9,324.4a3.6,3.6 0 1,0 7.2,0a3.6,3.6 0 1,0 -7.2,0M513.1,323.7a3.6,3.6 0 1,0 7.2,0a3.6,3.6 0 1,0 -7.2,0M522.3,327a3.6,3.6 0 1,0 7.2,0a3.6,3.6 0 1,0 -7.2,0M507.9,332.3a3.6,3.6 0 1,0 7.2,0a3.6,3.6 0 1,0 -7.2,0M511.8,341.4a3.6,3.6 0 1,0 7.2,0a3.6,3.6 0 1,0 -7.2,0M500,341.4a3.6,3.6 0 1,0 7.2,0a3.6,3.6 0 1,0 -7.2,0M488.4,318a3.6,3.6 0 1,0 7.2,0a3.6,3.6 0 1,0 -7.2,0M485.4,333a3.6,3.6 0 1,0 7.2,0a3.6,3.6 0 1,0 -7.2,0M496.4,348a3.6,3.6 0 1,0 7.2,0a3.6,3.6 0 1,0 -7.2,0M487.4,296a3.6,3.6 0 1,0 7.2,0a3.6,3.6 0 1,0 -7.2,0M476.4,292a3.6,3.6 0 1,0 7.2,0a3.6,3.6 0 1,0 -7.2,0" fill="#000"/>
<ellipse cx="410.8" cy="355" rx="1.0" ry="7" fill="#fff"/>
<ellipse cx="413.5" cy="470" rx="1.3" ry="4.5" fill="#fff"/>
<line x1="301" y1="473" x2="733" y2="276" stroke="#666" stroke-width="2.2" />
<rect x="279.5" y="136.5" width="474.8" height="475.5" fill="none" stroke="#000" stroke-width="2.4"/>
<line x1="272" y1="203" x2="278.5" y2="203" stroke="#333" stroke-width="2" />
<text transform="translate(268,212) scale(1,1.04)" font-size="31" fill="#4d4d4d" text-anchor="end" >2</text>
<line x1="272" y1="307.6" x2="278.5" y2="307.6" stroke="#333" stroke-width="2" />
<text transform="translate(268,316.6) scale(1,1.04)" font-size="31" fill="#4d4d4d" text-anchor="end" >1</text>
<line x1="272" y1="412.2" x2="278.5" y2="412.2" stroke="#333" stroke-width="2" />
<text transform="translate(268,421.2) scale(1,1.04)" font-size="31" fill="#4d4d4d" text-anchor="end" >0</text>
<line x1="272" y1="516.8" x2="278.5" y2="516.8" stroke="#333" stroke-width="2" />
<text transform="translate(268,525.8) scale(1,1.04)" font-size="31" fill="#4d4d4d" text-anchor="end" >−1</text>
<line x1="412" y1="613" x2="412" y2="619" stroke="#333" stroke-width="2" />
<text transform="translate(414,643.2) scale(1,1.04)" font-size="31" fill="#4d4d4d" text-anchor="middle" >0</text>
<line x1="553.8" y1="613" x2="553.8" y2="619" stroke="#333" stroke-width="2" />
<text transform="translate(555.8,643.2) scale(1,1.04)" font-size="31" fill="#4d4d4d" text-anchor="middle" >2</text>
<line x1="695.5" y1="613" x2="695.5" y2="619" stroke="#333" stroke-width="2" />
<text transform="translate(697.5,643.2) scale(1,1.04)" font-size="31" fill="#4d4d4d" text-anchor="middle" >4</text>
<text transform="translate(504.6,687.6) scale(1,1.04)" font-size="38.9" fill="#000" text-anchor="middle" >FLI1 Log2FC</text>
<text transform="translate(224.5,356.6) rotate(-90) scale(1,1.04)" font-size="38.8" fill="#000" text-anchor="middle" >H3K27ac Log2FC</text>
<text transform="translate(727,598.2) scale(1,1.04)" font-size="31.2" fill="#000" text-anchor="end" >R= 0.24</text>
<text transform="translate(1167,39) scale(1,1.04)" font-size="54" fill="#000" text-anchor="start" font-weight="bold" >b</text>
<line x1="1379.7" y1="442" x2="1949.8" y2="442" stroke="#d0d0d0" stroke-width="2" />
<polygon points="1482.7,321 1482.2,335 1482.6,349 1481.8,357 1481,372 1479.8,389 1478.8,401 1477.2,411 1474.4,421 1470.4,430 1502.4,430 1498.4,421 1495.6,411 1494,401 1493,389 1491.8,372 1491,357 1490.2,349 1490.6,335 1490.1,321" fill="#000" stroke="#000" stroke-width="1" stroke-linejoin="round"/>
<path d="M1482.9,321.7a3.6,3.6 0 1,0 7.2,0a3.6,3.6 0 1,0 -7.2,0M1482.8,325.9a3.6,3.6 0 1,0 7.2,0a3.6,3.6 0 1,0 -7.2,0M1482.3,329.1a3.6,3.6 0 1,0 7.2,0a3.6,3.6 0 1,0 -7.2,0M1482,331.6a3.6,3.6 0 1,0 7.2,0a3.6,3.6 0 1,0 -7.2,0M1482,335.1a3.6,3.6 0 1,0 7.2,0a3.6,3.6 0 1,0 -7.2,0M1482.6,338.6a3.6,3.6 0 1,0 7.2,0a3.6,3.6 0 1,0 -7.2,0M1481.7,342.9a3.6,3.6 0 1,0 7.2,0a3.6,3.6 0 1,0 -7.2,0M1482.6,345.8a3.6,3.6 0 1,0 7.2,0a3.6,3.6 0 1,0 -7.2,0M1481.5,350.5a3.6,3.6 0 1,0 7.2,0a3.6,3.6 0 1,0 -7.2,0M1481.9,354.4a3.6,3.6 0 1,0 7.2,0a3.6,3.6 0 1,0 -7.2,0M1482,359.2a3.6,3.6 0 1,0 7.2,0a3.6,3.6 0 1,0 -7.2,0M1481.5,362.7a3.6,3.6 0 1,0 7.2,0a3.6,3.6 0 1,0 -7.2,0M1481.6,364.8a3.6,3.6 0 1,0 7.2,0a3.6,3.6 0 1,0 -7.2,0M1480.4,368.9a3.6,3.6 0 1,0 7.2,0a3.6,3.6 0 1,0 -7.2,0M1480.6,372.4a3.6,3.6 0 1,0 7.2,0a3.6,3.6 0 1,0 -7.2,0M1480.5,376.7a3.6,3.6 0 1,0 7.2,0a3.6,3.6 0 1,0 -7.2,0M1480.8,379.9a3.6,3.6 0 1,0 7.2,0a3.6,3.6 0 1,0 -7.2,0M1480.4,382.3a3.6,3.6 0 1,0 7.2,0a3.6,3.6 0 1,0 -7.2,0M1479.7,387a3.6,3.6 0 1,0 7.2,0a3.6,3.6 0 1,0 -7.2,0M1479.3,389.8a3.6,3.6 0 1,0 7.2,0a3.6,3.6 0 1,0 -7.2,0M1479.4,394.1a3.6,3.6 0 1,0 7.2,0a3.6,3.6 0 1,0 -7.2,0M1478.4,398.9a3.6,3.6 0 1,0 7.2,0a3.6,3.6 0 1,0 -7.2,0M1478.3,401.5a3.6,3.6 0 1,0 7.2,0a3.6,3.6 0 1,0 -7.2,0M1477.3,405.4a3.6,3.6 0 1,0 7.2,0a3.6,3.6 0 1,0 -7.2,0M1477.5,409.1a3.6,3.6 0 1,0 7.2,0a3.6,3.6 0 1,0 -7.2,0M1476.9,413a3.6,3.6 0 1,0 7.2,0a3.6,3.6 0 1,0 -7.2,0M1475.4,415.2a3.6,3.6 0 1,0 7.2,0a3.6,3.6 0 1,0 -7.2,0M1475,418a3.6,3.6 0 1,0 7.2,0a3.6,3.6 0 1,0 -7.2,0M1473.8,421.1a3.6,3.6 0 1,0 7.2,0a3.6,3.6 0 1,0 -7.2,0M1471.1,427.6a3.6,3.6 0 1,0 7.2,0a3.6,3.6 0 1,0 -7.2,0M1483,322.8a3.6,3.6 0 1,0 7.2,0a3.6,3.6 0 1,0 -7.2,0M1483.5,326a3.6,3.6 0 1,0 7.2,0a3.6,3.6 0 1,0 -7.2,0M1483.4,329.2a3.6,3.6 0 1,0 7.2,0a3.6,3.6 0 1,0 -7.2,0M1484.3,333.3a3.6,3.6 0 1,0 7.2,0a3.6,3.6 0 1,0 -7.2,0M1483.9,336a3.6,3.6 0 1,0 7.2,0a3.6,3.6 0 1,0 -7.2,0M1483.9,338.6a3.6,3.6 0 1,0 7.2,0a3.6,3.6 0 1,0 -7.2,0M1484.2,343.4a3.6,3.6 0 1,0 7.2,0a3.6,3.6 0 1,0 -7.2,0M1483,347.2a3.6,3.6 0 1,0 7.2,0a3.6,3.6 0 1,0 -7.2,0M1483.6,349.9a3.6,3.6 0 1,0 7.2,0a3.6,3.6 0 1,0 -7.2,0M1483.7,353.1a3.6,3.6 0 1,0 7.2,0a3.6,3.6 0 1,0 -7.2,0M1483.6,357.4a3.6,3.6 0 1,0 7.2,0a3.6,3.6 0 1,0 -7.2,0M1484.7,360.9a3.6,3.6 0 1,0 7.2,0a3.6,3.6 0 1,0 -7.2,0M1484.2,364.8a3.6,3.6 0 1,0 7.2,0a3.6,3.6 0 1,0 -7.2,0M1485.3,369.1a3.6,3.6 0 1,0 7.2,0a3.6,3.6 0 1,0 -7.2,0M1484.8,372.2a3.6,3.6 0 1,0 7.2,0a3.6,3.6 0 1,0 -7.2,0M1485.8,376.5a3.6,3.6 0 1,0 7.2,0a3.6,3.6 0 1,0 -7.2,0M1486,380.5a3.6,3.6 0 1,0 7.2,0a3.6,3.6 0 1,0 -7.2,0M1485.5,382.8a3.6,3.6 0 1,0 7.2,0a3.6,3.6 0 1,0 -7.2,0M1486.4,386.3a3.6,3.6 0 1,0 7.2,0a3.6,3.6 0 1,0 -7.2,0M1485.8,391.3a3.6,3.6 0 1,0 7.2,0a3.6,3.6 0 1,0 -7.2,0M1486.1,393.4a3.6,3.6 0 1,0 7.2,0a3.6,3.6 0 1,0 -7.2,0M1486.8,397.6a3.6,3.6 0 1,0 7.2,0a3.6,3.6 0 1,0 -7.2,0M1487,402.2a3.6,3.6 0 1,0 7.2,0a3.6,3.6 0 1,0 -7.2,0M1487.5,404.3a3.6,3.6 0 1,0 7.2,0a3.6,3.6 0 1,0 -7.2,0M1488.4,408.4a3.6,3.6 0 1,0 7.2,0a3.6,3.6 0 1,0 -7.2,0M1489.5,412.9a3.6,3.6 0 1,0 7.2,0a3.6,3.6 0 1,0 -7.2,0M1490.1,415.4a3.6,3.6 0 1,0 7.2,0a3.6,3.6 0 1,0 -7.2,0M1490.3,419a3.6,3.6 0 1,0 7.2,0a3.6,3.6 0 1,0 -7.2,0M1493,423.4a3.6,3.6 0 1,0 7.2,0a3.6,3.6 0 1,0 -7.2,0M1495,427.9a3.6,3.6 0 1,0 7.2,0a3.6,3.6 0 1,0 -7.2,0M1482.8,324.4a3.6,3.6 0 1,0 7.2,0a3.6,3.6 0 1,0 -7.2,0M1482.8,426.6a3.6,3.6 0 1,0 7.2,0a3.6,3.6 0 1,0 -7.2,0" fill="#000"/>
<path d="M1478.3,378a3.6,3.6 0 1,0 7.2,0a3.6,3.6 0 1,0 -7.2,0M1486.8,366a3.6,3.6 0 1,0 7.2,0a3.6,3.6 0 1,0 -7.2,0M1487.8,395a3.6,3.6 0 1,0 7.2,0a3.6,3.6 0 1,0 -7.2,0M1477.3,405a3.6,3.6 0 1,0 7.2,0a3.6,3.6 0 1,0 -7.2,0M1486.3,340a3.6,3.6 0 1,0 7.2,0a3.6,3.6 0 1,0 -7.2,0" fill="#000"/>
<polygon points="1470.4,448 1477.4,455 1480,461 1481.6,470 1482.6,474 1490.2,474 1491.2,470 1492.8,461 1495.4,455 1502.4,448" fill="#000" stroke="#000" stroke-width="1" stroke-linejoin="round"/>
<path d="M1469.9,448.5a3.6,3.6 0 1,0 7.2,0a3.6,3.6 0 1,0 -7.2,0M1473.6,451.8a3.6,3.6 0 1,0 7.2,0a3.6,3.6 0 1,0 -7.2,0M1477.6,455.3a3.6,3.6 0 1,0 7.2,0a3.6,3.6 0 1,0 -7.2,0M1480.6,463.7a3.6,3.6 0 1,0 7.2,0a3.6,3.6 0 1,0 -7.2,0M1480.9,467.2a3.6,3.6 0 1,0 7.2,0a3.6,3.6 0 1,0 -7.2,0M1481.6,471.1a3.6,3.6 0 1,0 7.2,0a3.6,3.6 0 1,0 -7.2,0M1495.6,448.4a3.6,3.6 0 1,0 7.2,0a3.6,3.6 0 1,0 -7.2,0M1491.4,451.7a3.6,3.6 0 1,0 7.2,0a3.6,3.6 0 1,0 -7.2,0M1488.1,455.1a3.6,3.6 0 1,0 7.2,0a3.6,3.6 0 1,0 -7.2,0M1486.3,462.1a3.6,3.6 0 1,0 7.2,0a3.6,3.6 0 1,0 -7.2,0M1484.4,466.5a3.6,3.6 0 1,0 7.2,0a3.6,3.6 0 1,0 -7.2,0M1484.8,470.6a3.6,3.6 0 1,0 7.2,0a3.6,3.6 0 1,0 -7.2,0M1482.8,451.4a3.6,3.6 0 1,0 7.2,0a3.6,3.6 0 1,0 -7.2,0M1482.8,470.6a3.6,3.6 0 1,0 7.2,0a3.6,3.6 0 1,0 -7.2,0" fill="#000"/>
<path d="M1482.8,211.3a3.6,3.6 0 1,0 7.2,0a3.6,3.6 0 1,0 -7.2,0M1482.8,222.3a3.6,3.6 0 1,0 7.2,0a3.6,3.6 0 1,0 -7.2,0M1482.3,261.7a3.6,3.6 0 1,0 7.2,0a3.6,3.6 0 1,0 -7.2,0M1482.8,274.3a3.6,3.6 0 1,0 7.2,0a3.6,3.6 0 1,0 -7.2,0M1482.8,282.2a3.6,3.6 0 1,0 7.2,0a3.6,3.6 0 1,0 -7.2,0M1482.8,300.1a3.6,3.6 0 1,0 7.2,0a3.6,3.6 0 1,0 -7.2,0M1482.8,477.9a3.6,3.6 0 1,0 7.2,0a3.6,3.6 0 1,0 -7.2,0M1482.8,487a3.6,3.6 0 1,0 7.2,0a3.6,3.6 0 1,0 -7.2,0M1482.8,491.5a3.6,3.6 0 1,0 7.2,0a3.6,3.6 0 1,0 -7.2,0M1482.8,499.4a3.6,3.6 0 1,0 7.2,0a3.6,3.6 0 1,0 -7.2,0M1482.8,526.2a3.6,3.6 0 1,0 7.2,0a3.6,3.6 0 1,0 -7.2,0M1482.8,557.7a3.6,3.6 0 1,0 7.2,0a3.6,3.6 0 1,0 -7.2,0" fill="#000"/>
<polygon points="1413.3,437.3 1415.7,437.2 1418.1,437.1 1420.6,437 1423,436.8 1425.4,436.6 1427.8,436.4 1430.2,436.2 1432.7,435.9 1435.1,435.7 1437.5,435.4 1439.9,435.1 1442.3,434.8 1444.8,434.5 1447.2,434.1 1449.6,433.8 1452,433.4 1454.4,433.1 1456.9,432.7 1459.3,432.3 1461.7,431.9 1464.1,431.5 1466.5,431.1 1469,430.7 1471.4,430.2 1473.8,429.8 1476.2,429.3 1478.6,428.8 1481.1,428.4 1483.5,427.9 1485.9,427.4 1488.3,429.1 1490.7,429.6 1493.2,430 1495.6,430.4 1498,430.8 1500.4,431.2 1502.8,431.5 1505.3,431.9 1507.7,432.3 1510.1,432.6 1512.5,433 1514.9,433.3 1517.4,433.6 1519.8,434 1522.2,434.3 1524.6,434.6 1527,434.9 1529.5,435.1 1531.9,435.4 1534.3,435.6 1536.7,435.9 1539.1,436.1 1541.6,436.3 1544,436.5 1546.4,436.7 1548.8,436.9 1551.2,437 1553.7,437.2 1556.1,437.2 1558.5,437.3 1558.5,445.3 1556.1,445.3 1553.7,445.4 1551.2,445.5 1548.8,445.6 1546.4,445.7 1544,445.9 1541.6,446 1539.1,446.2 1536.7,446.4 1534.3,446.6 1531.9,446.8 1529.5,447 1527,447.2 1524.6,447.4 1522.2,447.6 1519.8,447.9 1517.4,448.1 1514.9,448.4 1512.5,448.6 1510.1,448.9 1507.7,449.1 1505.3,449.4 1502.8,449.7 1500.4,450 1498,450.3 1495.6,450.6 1493.2,450.9 1490.7,451.2 1488.3,451.5 1485.9,454.2 1483.5,453.8 1481.1,453.3 1478.6,452.9 1476.2,452.5 1473.8,452.1 1471.4,451.7 1469,451.3 1466.5,450.9 1464.1,450.5 1461.7,450.1 1459.3,449.8 1456.9,449.4 1454.4,449.1 1452,448.8 1449.6,448.4 1447.2,448.1 1444.8,447.8 1442.3,447.6 1439.9,447.3 1437.5,447 1435.1,446.8 1432.7,446.5 1430.2,446.3 1427.8,446.1 1425.4,445.9 1423,445.7 1420.6,445.6 1418.1,445.5 1415.7,445.4 1413.3,445.3" fill="#000" stroke="#000" stroke-width="1.2" stroke-linejoin="round"/>
<path d="M1409.4,440.7a3.6,3.6 0 1,0 7.2,0a3.6,3.6 0 1,0 -7.2,0M1414.5,439.6a3.6,3.6 0 1,0 7.2,0a3.6,3.6 0 1,0 -7.2,0M1417.1,439.8a3.6,3.6 0 1,0 7.2,0a3.6,3.6 0 1,0 -7.2,0M1419.1,439.5a3.6,3.6 0 1,0 7.2,0a3.6,3.6 0 1,0 -7.2,0M1422.3,440a3.6,3.6 0 1,0 7.2,0a3.6,3.6 0 1,0 -7.2,0M1423.4,439.4a3.6,3.6 0 1,0 7.2,0a3.6,3.6 0 1,0 -7.2,0M1429.6,439a3.6,3.6 0 1,0 7.2,0a3.6,3.6 0 1,0 -7.2,0M1430.7,438.9a3.6,3.6 0 1,0 7.2,0a3.6,3.6 0 1,0 -7.2,0M1434.4,438.4a3.6,3.6 0 1,0 7.2,0a3.6,3.6 0 1,0 -7.2,0M1435.9,438.4a3.6,3.6 0 1,0 7.2,0a3.6,3.6 0 1,0 -7.2,0M1439.4,438.1a3.6,3.6 0 1,0 7.2,0a3.6,3.6 0 1,0 -7.2,0M1445.8,436.8a3.6,3.6 0 1,0 7.2,0a3.6,3.6 0 1,0 -7.2,0M1448.3,435.9a3.6,3.6 0 1,0 7.2,0a3.6,3.6 0 1,0 -7.2,0M1451,436.5a3.6,3.6 0 1,0 7.2,0a3.6,3.6 0 1,0 -7.2,0M1454.1,436a3.6,3.6 0 1,0 7.2,0a3.6,3.6 0 1,0 -7.2,0M1454.8,435.2a3.6,3.6 0 1,0 7.2,0a3.6,3.6 0 1,0 -7.2,0M1457.3,434.9a3.6,3.6 0 1,0 7.2,0a3.6,3.6 0 1,0 -7.2,0M1462.7,433.9a3.6,3.6 0 1,0 7.2,0a3.6,3.6 0 1,0 -7.2,0M1465.5,434a3.6,3.6 0 1,0 7.2,0a3.6,3.6 0 1,0 -7.2,0M1468.7,433.7a3.6,3.6 0 1,0 7.2,0a3.6,3.6 0 1,0 -7.2,0M1470.4,433.2a3.6,3.6 0 1,0 7.2,0a3.6,3.6 0 1,0 -7.2,0M1473.6,431.6a3.6,3.6 0 1,0 7.2,0a3.6,3.6 0 1,0 -7.2,0M1475.5,431.2a3.6,3.6 0 1,0 7.2,0a3.6,3.6 0 1,0 -7.2,0M1477.7,431.9a3.6,3.6 0 1,0 7.2,0a3.6,3.6 0 1,0 -7.2,0M1480.2,430.7a3.6,3.6 0 1,0 7.2,0a3.6,3.6 0 1,0 -7.2,0M1481.5,430.6a3.6,3.6 0 1,0 7.2,0a3.6,3.6 0 1,0 -7.2,0M1487,432.6a3.6,3.6 0 1,0 7.2,0a3.6,3.6 0 1,0 -7.2,0M1491,432.9a3.6,3.6 0 1,0 7.2,0a3.6,3.6 0 1,0 -7.2,0M1494.3,434.1a3.6,3.6 0 1,0 7.2,0a3.6,3.6 0 1,0 -7.2,0M1496.5,434.6a3.6,3.6 0 1,0 7.2,0a3.6,3.6 0 1,0 -7.2,0M1498.4,434.1a3.6,3.6 0 1,0 7.2,0a3.6,3.6 0 1,0 -7.2,0M1502.2,434.5a3.6,3.6 0 1,0 7.2,0a3.6,3.6 0 1,0 -7.2,0M1504.5,435.5a3.6,3.6 0 1,0 7.2,0a3.6,3.6 0 1,0 -7.2,0M1506.4,435.9a3.6,3.6 0 1,0 7.2,0a3.6,3.6 0 1,0 -7.2,0M1511.1,435.8a3.6,3.6 0 1,0 7.2,0a3.6,3.6 0 1,0 -7.2,0M1514.1,437a3.6,3.6 0 1,0 7.2,0a3.6,3.6 0 1,0 -7.2,0M1517.7,436.6a3.6,3.6 0 1,0 7.2,0a3.6,3.6 0 1,0 -7.2,0M1521.9,436.9a3.6,3.6 0 1,0 7.2,0a3.6,3.6 0 1,0 -7.2,0M1522.5,438.4a3.6,3.6 0 1,0 7.2,0a3.6,3.6 0 1,0 -7.2,0M1525.6,437.9a3.6,3.6 0 1,0 7.2,0a3.6,3.6 0 1,0 -7.2,0M1530,438.5a3.6,3.6 0 1,0 7.2,0a3.6,3.6 0 1,0 -7.2,0M1532.3,438.8a3.6,3.6 0 1,0 7.2,0a3.6,3.6 0 1,0 -7.2,0M1534.7,439.1a3.6,3.6 0 1,0 7.2,0a3.6,3.6 0 1,0 -7.2,0M1538.5,439.4a3.6,3.6 0 1,0 7.2,0a3.6,3.6 0 1,0 -7.2,0M1543.2,439.3a3.6,3.6 0 1,0 7.2,0a3.6,3.6 0 1,0 -7.2,0M1546.8,440.6a3.6,3.6 0 1,0 7.2,0a3.6,3.6 0 1,0 -7.2,0M1549.4,439.9a3.6,3.6 0 1,0 7.2,0a3.6,3.6 0 1,0 -7.2,0M1553,440.6a3.6,3.6 0 1,0 7.2,0a3.6,3.6 0 1,0 -7.2,0M1554.3,440.3a3.6,3.6 0 1,0 7.2,0a3.6,3.6 0 1,0 -7.2,0M1409.5,441.9a3.6,3.6 0 1,0 7.2,0a3.6,3.6 0 1,0 -7.2,0M1413,442.5a3.6,3.6 0 1,0 7.2,0a3.6,3.6 0 1,0 -7.2,0M1417.9,443.1a3.6,3.6 0 1,0 7.2,0a3.6,3.6 0 1,0 -7.2,0M1419.4,442.8a3.6,3.6 0 1,0 7.2,0a3.6,3.6 0 1,0 -7.2,0M1424.5,443.2a3.6,3.6 0 1,0 7.2,0a3.6,3.6 0 1,0 -7.2,0M1427.1,443.6a3.6,3.6 0 1,0 7.2,0a3.6,3.6 0 1,0 -7.2,0M1429.5,443.5a3.6,3.6 0 1,0 7.2,0a3.6,3.6 0 1,0 -7.2,0M1431.8,443.2a3.6,3.6 0 1,0 7.2,0a3.6,3.6 0 1,0 -7.2,0M1433.6,444.6a3.6,3.6 0 1,0 7.2,0a3.6,3.6 0 1,0 -7.2,0M1437,444.6a3.6,3.6 0 1,0 7.2,0a3.6,3.6 0 1,0 -7.2,0M1439.5,444a3.6,3.6 0 1,0 7.2,0a3.6,3.6 0 1,0 -7.2,0M1441.4,445.1a3.6,3.6 0 1,0 7.2,0a3.6,3.6 0 1,0 -7.2,0M1442.7,444.8a3.6,3.6 0 1,0 7.2,0a3.6,3.6 0 1,0 -7.2,0M1445.4,444.9a3.6,3.6 0 1,0 7.2,0a3.6,3.6 0 1,0 -7.2,0M1448.4,445.9a3.6,3.6 0 1,0 7.2,0a3.6,3.6 0 1,0 -7.2,0M1451.4,445.9a3.6,3.6 0 1,0 7.2,0a3.6,3.6 0 1,0 -7.2,0M1452.3,447.1a3.6,3.6 0 1,0 7.2,0a3.6,3.6 0 1,0 -7.2,0M1456.6,447.5a3.6,3.6 0 1,0 7.2,0a3.6,3.6 0 1,0 -7.2,0M1460.2,447.2a3.6,3.6 0 1,0 7.2,0a3.6,3.6 0 1,0 -7.2,0M1462.3,447.6a3.6,3.6 0 1,0 7.2,0a3.6,3.6 0 1,0 -7.2,0M1464.6,448.9a3.6,3.6 0 1,0 7.2,0a3.6,3.6 0 1,0 -7.2,0M1470.7,449.1a3.6,3.6 0 1,0 7.2,0a3.6,3.6 0 1,0 -7.2,0M1472.4,449.7a3.6,3.6 0 1,0 7.2,0a3.6,3.6 0 1,0 -7.2,0M1474.6,450a3.6,3.6 0 1,0 7.2,0a3.6,3.6 0 1,0 -7.2,0M1477.3,451a3.6,3.6 0 1,0 7.2,0a3.6,3.6 0 1,0 -7.2,0M1479.1,451.2a3.6,3.6 0 1,0 7.2,0a3.6,3.6 0 1,0 -7.2,0M1481.8,451.7a3.6,3.6 0 1,0 7.2,0a3.6,3.6 0 1,0 -7.2,0M1484.2,448a3.6,3.6 0 1,0 7.2,0a3.6,3.6 0 1,0 -7.2,0M1486.7,448.7a3.6,3.6 0 1,0 7.2,0a3.6,3.6 0 1,0 -7.2,0M1492.8,448.2a3.6,3.6 0 1,0 7.2,0a3.6,3.6 0 1,0 -7.2,0M1501.3,446.1a3.6,3.6 0 1,0 7.2,0a3.6,3.6 0 1,0 -7.2,0M1504.1,446a3.6,3.6 0 1,0 7.2,0a3.6,3.6 0 1,0 -7.2,0M1508.3,445.4a3.6,3.6 0 1,0 7.2,0a3.6,3.6 0 1,0 -7.2,0M1511.6,445.5a3.6,3.6 0 1,0 7.2,0a3.6,3.6 0 1,0 -7.2,0M1513.1,445a3.6,3.6 0 1,0 7.2,0a3.6,3.6 0 1,0 -7.2,0M1515.5,445a3.6,3.6 0 1,0 7.2,0a3.6,3.6 0 1,0 -7.2,0M1519,444.9a3.6,3.6 0 1,0 7.2,0a3.6,3.6 0 1,0 -7.2,0M1521.3,444.2a3.6,3.6 0 1,0 7.2,0a3.6,3.6 0 1,0 -7.2,0M1523.7,444.6a3.6,3.6 0 1,0 7.2,0a3.6,3.6 0 1,0 -7.2,0M1527.7,443.9a3.6,3.6 0 1,0 7.2,0a3.6,3.6 0 1,0 -7.2,0M1529.7,443.7a3.6,3.6 0 1,0 7.2,0a3.6,3.6 0 1,0 -7.2,0M1533.9,443.2a3.6,3.6 0 1,0 7.2,0a3.6,3.6 0 1,0 -7.2,0M1537.2,443.4a3.6,3.6 0 1,0 7.2,0a3.6,3.6 0 1,0 -7.2,0M1540.4,442.4a3.6,3.6 0 1,0 7.2,0a3.6,3.6 0 1,0 -7.2,0M1543.6,442.2a3.6,3.6 0 1,0 7.2,0a3.6,3.6 0 1,0 -7.2,0M1544.5,442.1a3.6,3.6 0 1,0 7.2,0a3.6,3.6 0 1,0 -7.2,0M1552.3,442.9a3.6,3.6 0 1,0 7.2,0a3.6,3.6 0 1,0 -7.2,0M1554.2,442.6a3.6,3.6 0 1,0 7.2,0a3.6,3.6 0 1,0 -7.2,0M1412.2,441.3a3.6,3.6 0 1,0 7.2,0a3.6,3.6 0 1,0 -7.2,0M1552.4,441.3a3.6,3.6 0 1,0 7.2,0a3.6,3.6 0 1,0 -7.2,0" fill="#000"/>
<path d="M1410.8,441.3a4,4 0 1,0 8,0a4,4 0 1,0 -8,0M1553,441.3a4,4 0 1,0 8,0a4,4 0 1,0 -8,0" fill="#000"/>
<rect x="1418.7" y="424.8" width="134.8" height="18.4" fill="none" stroke="#555" stroke-width="2.2"/>
<line x1="1420" y1="439.6" x2="1552" y2="439.6" stroke="#666" stroke-width="2.5" />
<line x1="1420" y1="443.2" x2="1552" y2="443.2" stroke="#444" stroke-width="1.5" />
<polygon points="1660.6,396 1659.6,405 1658.6,416 1656.1,425 1652.6,432 1676.6,432 1673.1,425 1670.6,416 1669.6,405 1668.6,396" fill="#000" stroke="#000" stroke-width="1" stroke-linejoin="round"/>
<path d="M1660.2,397.5a3.6,3.6 0 1,0 7.2,0a3.6,3.6 0 1,0 -7.2,0M1660,402.1a3.6,3.6 0 1,0 7.2,0a3.6,3.6 0 1,0 -7.2,0M1658.7,406.8a3.6,3.6 0 1,0 7.2,0a3.6,3.6 0 1,0 -7.2,0M1659.3,410.1a3.6,3.6 0 1,0 7.2,0a3.6,3.6 0 1,0 -7.2,0M1658.8,413.5a3.6,3.6 0 1,0 7.2,0a3.6,3.6 0 1,0 -7.2,0M1657.5,416.7a3.6,3.6 0 1,0 7.2,0a3.6,3.6 0 1,0 -7.2,0M1656.9,423.2a3.6,3.6 0 1,0 7.2,0a3.6,3.6 0 1,0 -7.2,0M1654.8,426.8a3.6,3.6 0 1,0 7.2,0a3.6,3.6 0 1,0 -7.2,0M1654,429.3a3.6,3.6 0 1,0 7.2,0a3.6,3.6 0 1,0 -7.2,0M1661.8,397.8a3.6,3.6 0 1,0 7.2,0a3.6,3.6 0 1,0 -7.2,0M1662.6,402.4a3.6,3.6 0 1,0 7.2,0a3.6,3.6 0 1,0 -7.2,0M1663.1,405.3a3.6,3.6 0 1,0 7.2,0a3.6,3.6 0 1,0 -7.2,0M1663.9,410.8a3.6,3.6 0 1,0 7.2,0a3.6,3.6 0 1,0 -7.2,0M1662.9,413.7a3.6,3.6 0 1,0 7.2,0a3.6,3.6 0 1,0 -7.2,0M1663.2,416a3.6,3.6 0 1,0 7.2,0a3.6,3.6 0 1,0 -7.2,0M1665.4,423a3.6,3.6 0 1,0 7.2,0a3.6,3.6 0 1,0 -7.2,0M1667.1,425.8a3.6,3.6 0 1,0 7.2,0a3.6,3.6 0 1,0 -7.2,0M1668.3,429.2a3.6,3.6 0 1,0 7.2,0a3.6,3.6 0 1,0 -7.2,0M1661,399.4a3.6,3.6 0 1,0 7.2,0a3.6,3.6 0 1,0 -7.2,0M1661,428.6a3.6,3.6 0 1,0 7.2,0a3.6,3.6 0 1,0 -7.2,0" fill="#000"/>
<polygon points="1653.6,451 1657.1,458 1658.4,470 1659,490 1659.6,503 1660.8,509 1668.4,509 1669.6,503 1670.2,490 1670.8,470 1672.1,458 1675.6,451" fill="#000" stroke="#000" stroke-width="1" stroke-linejoin="round"/>
<path d="M1653.7,451.9a3.6,3.6 0 1,0 7.2,0a3.6,3.6 0 1,0 -7.2,0M1656.1,456.4a3.6,3.6 0 1,0 7.2,0a3.6,3.6 0 1,0 -7.2,0M1656.8,459.2a3.6,3.6 0 1,0 7.2,0a3.6,3.6 0 1,0 -7.2,0M1657.3,462.4a3.6,3.6 0 1,0 7.2,0a3.6,3.6 0 1,0 -7.2,0M1657.4,467.5a3.6,3.6 0 1,0 7.2,0a3.6,3.6 0 1,0 -7.2,0M1658.4,470.2a3.6,3.6 0 1,0 7.2,0a3.6,3.6 0 1,0 -7.2,0M1657.8,473.5a3.6,3.6 0 1,0 7.2,0a3.6,3.6 0 1,0 -7.2,0M1659,478.1a3.6,3.6 0 1,0 7.2,0a3.6,3.6 0 1,0 -7.2,0M1657.8,482a3.6,3.6 0 1,0 7.2,0a3.6,3.6 0 1,0 -7.2,0M1658.4,484.6a3.6,3.6 0 1,0 7.2,0a3.6,3.6 0 1,0 -7.2,0M1659.3,487a3.6,3.6 0 1,0 7.2,0a3.6,3.6 0 1,0 -7.2,0M1659.4,491a3.6,3.6 0 1,0 7.2,0a3.6,3.6 0 1,0 -7.2,0M1659.2,493.6a3.6,3.6 0 1,0 7.2,0a3.6,3.6 0 1,0 -7.2,0M1659.1,496.6a3.6,3.6 0 1,0 7.2,0a3.6,3.6 0 1,0 -7.2,0M1658.7,500.6a3.6,3.6 0 1,0 7.2,0a3.6,3.6 0 1,0 -7.2,0M1659.5,504.9a3.6,3.6 0 1,0 7.2,0a3.6,3.6 0 1,0 -7.2,0M1668.4,452a3.6,3.6 0 1,0 7.2,0a3.6,3.6 0 1,0 -7.2,0M1666.2,455.5a3.6,3.6 0 1,0 7.2,0a3.6,3.6 0 1,0 -7.2,0M1665.6,460.4a3.6,3.6 0 1,0 7.2,0a3.6,3.6 0 1,0 -7.2,0M1664.8,464a3.6,3.6 0 1,0 7.2,0a3.6,3.6 0 1,0 -7.2,0M1663.9,466.8a3.6,3.6 0 1,0 7.2,0a3.6,3.6 0 1,0 -7.2,0M1663.3,470.6a3.6,3.6 0 1,0 7.2,0a3.6,3.6 0 1,0 -7.2,0M1663.6,474.9a3.6,3.6 0 1,0 7.2,0a3.6,3.6 0 1,0 -7.2,0M1663.5,478.4a3.6,3.6 0 1,0 7.2,0a3.6,3.6 0 1,0 -7.2,0M1664,481.9a3.6,3.6 0 1,0 7.2,0a3.6,3.6 0 1,0 -7.2,0M1663.1,483.3a3.6,3.6 0 1,0 7.2,0a3.6,3.6 0 1,0 -7.2,0M1663.3,488.5a3.6,3.6 0 1,0 7.2,0a3.6,3.6 0 1,0 -7.2,0M1663.1,491.9a3.6,3.6 0 1,0 7.2,0a3.6,3.6 0 1,0 -7.2,0M1663.3,493.4a3.6,3.6 0 1,0 7.2,0a3.6,3.6 0 1,0 -7.2,0M1662.6,498a3.6,3.6 0 1,0 7.2,0a3.6,3.6 0 1,0 -7.2,0M1662.6,499.9a3.6,3.6 0 1,0 7.2,0a3.6,3.6 0 1,0 -7.2,0M1662.4,506.5a3.6,3.6 0 1,0 7.2,0a3.6,3.6 0 1,0 -7.2,0M1661,454.4a3.6,3.6 0 1,0 7.2,0a3.6,3.6 0 1,0 -7.2,0M1661,505.6a3.6,3.6 0 1,0 7.2,0a3.6,3.6 0 1,0 -7.2,0" fill="#000"/>
<path d="M1661,223.9a3.6,3.6 0 1,0 7.2,0a3.6,3.6 0 1,0 -7.2,0M1661,385.6a3.6,3.6 0 1,0 7.2,0a3.6,3.6 0 1,0 -7.2,0M1661,353a3.6,3.6 0 1,0 7.2,0a3.6,3.6 0 1,0 -7.2,0M1661,366.5a3.6,3.6 0 1,0 7.2,0a3.6,3.6 0 1,0 -7.2,0M1661,513.7a3.6,3.6 0 1,0 7.2,0a3.6,3.6 0 1,0 -7.2,0M1661,521a3.6,3.6 0 1,0 7.2,0a3.6,3.6 0 1,0 -7.2,0M1661,525a3.6,3.6 0 1,0 7.2,0a3.6,3.6 0 1,0 -7.2,0M1661,533.4a3.6,3.6 0 1,0 7.2,0a3.6,3.6 0 1,0 -7.2,0" fill="#000"/>
<polygon points="1591.3,438.2 1593.8,438.1 1596.2,438.1 1598.7,438 1601.1,437.8 1603.6,437.7 1606,437.6 1608.5,437.4 1610.9,437.3 1613.4,437.1 1615.8,436.9 1618.3,436.7 1620.7,436.5 1623.2,436.3 1625.6,436.1 1628.1,435.9 1630.6,435.7 1633,435.5 1635.5,435.2 1637.9,435 1640.4,434.8 1642.8,434.5 1645.3,434.3 1647.7,434 1650.2,433.8 1652.6,433.5 1655.1,433.3 1657.5,433 1660,432.7 1662.4,432.4 1664.9,432.7 1667.4,433 1669.8,433.2 1672.3,433.5 1674.7,433.7 1677.2,434 1679.6,434.2 1682.1,434.4 1684.5,434.7 1687,434.9 1689.4,435.1 1691.9,435.3 1694.3,435.5 1696.8,435.7 1699.2,435.9 1701.7,436.1 1704.2,436.3 1706.6,436.5 1709.1,436.7 1711.5,436.9 1714,437 1716.4,437.2 1718.9,437.3 1721.3,437.5 1723.8,437.6 1726.2,437.8 1728.7,437.9 1731.1,438 1733.6,438.1 1736,438.2 1738.5,438.2 1738.5,446.2 1736,446.2 1733.6,446.3 1731.1,446.4 1728.7,446.5 1726.2,446.6 1723.8,446.8 1721.3,446.9 1718.9,447.1 1716.4,447.2 1714,447.4 1711.5,447.5 1709.1,447.7 1706.6,447.9 1704.2,448.1 1701.7,448.3 1699.2,448.5 1696.8,448.7 1694.3,448.9 1691.9,449.1 1689.4,449.3 1687,449.5 1684.5,449.7 1682.1,450 1679.6,450.2 1677.2,450.4 1674.7,450.7 1672.3,450.9 1669.8,451.2 1667.4,451.4 1664.9,451.7 1662.4,452 1660,451.7 1657.5,451.4 1655.1,451.1 1652.6,450.9 1650.2,450.6 1647.7,450.4 1645.3,450.1 1642.8,449.9 1640.4,449.6 1637.9,449.4 1635.5,449.2 1633,448.9 1630.6,448.7 1628.1,448.5 1625.6,448.3 1623.2,448.1 1620.7,447.9 1618.3,447.7 1615.8,447.5 1613.4,447.3 1610.9,447.1 1608.5,447 1606,446.8 1603.6,446.7 1601.1,446.6 1598.7,446.4 1596.2,446.3 1593.8,446.3 1591.3,446.2" fill="#000" stroke="#000" stroke-width="1.2" stroke-linejoin="round"/>
<path d="M1588,440.9a3.6,3.6 0 1,0 7.2,0a3.6,3.6 0 1,0 -7.2,0M1589.2,441.3a3.6,3.6 0 1,0 7.2,0a3.6,3.6 0 1,0 -7.2,0M1593.2,440.8a3.6,3.6 0 1,0 7.2,0a3.6,3.6 0 1,0 -7.2,0M1595.2,440.7a3.6,3.6 0 1,0 7.2,0a3.6,3.6 0 1,0 -7.2,0M1597.4,441.2a3.6,3.6 0 1,0 7.2,0a3.6,3.6 0 1,0 -7.2,0M1603.1,441.1a3.6,3.6 0 1,0 7.2,0a3.6,3.6 0 1,0 -7.2,0M1604.5,440.5a3.6,3.6 0 1,0 7.2,0a3.6,3.6 0 1,0 -7.2,0M1608.9,439.5a3.6,3.6 0 1,0 7.2,0a3.6,3.6 0 1,0 -7.2,0M1611.4,439.2a3.6,3.6 0 1,0 7.2,0a3.6,3.6 0 1,0 -7.2,0M1617,440a3.6,3.6 0 1,0 7.2,0a3.6,3.6 0 1,0 -7.2,0M1619.8,439.7a3.6,3.6 0 1,0 7.2,0a3.6,3.6 0 1,0 -7.2,0M1621.1,439.5a3.6,3.6 0 1,0 7.2,0a3.6,3.6 0 1,0 -7.2,0M1626.8,438.5a3.6,3.6 0 1,0 7.2,0a3.6,3.6 0 1,0 -7.2,0M1629.2,439a3.6,3.6 0 1,0 7.2,0a3.6,3.6 0 1,0 -7.2,0M1632.8,437.6a3.6,3.6 0 1,0 7.2,0a3.6,3.6 0 1,0 -7.2,0M1634,438.1a3.6,3.6 0 1,0 7.2,0a3.6,3.6 0 1,0 -7.2,0M1637.1,438.2a3.6,3.6 0 1,0 7.2,0a3.6,3.6 0 1,0 -7.2,0M1638.9,437.5a3.6,3.6 0 1,0 7.2,0a3.6,3.6 0 1,0 -7.2,0M1643.2,436.6a3.6,3.6 0 1,0 7.2,0a3.6,3.6 0 1,0 -7.2,0M1646.6,437.1a3.6,3.6 0 1,0 7.2,0a3.6,3.6 0 1,0 -7.2,0M1648.8,436.1a3.6,3.6 0 1,0 7.2,0a3.6,3.6 0 1,0 -7.2,0M1651.6,436.6a3.6,3.6 0 1,0 7.2,0a3.6,3.6 0 1,0 -7.2,0M1653,436.2a3.6,3.6 0 1,0 7.2,0a3.6,3.6 0 1,0 -7.2,0M1656.7,436.3a3.6,3.6 0 1,0 7.2,0a3.6,3.6 0 1,0 -7.2,0M1658.3,435.7a3.6,3.6 0 1,0 7.2,0a3.6,3.6 0 1,0 -7.2,0M1662.2,435.7a3.6,3.6 0 1,0 7.2,0a3.6,3.6 0 1,0 -7.2,0M1667.1,436.4a3.6,3.6 0 1,0 7.2,0a3.6,3.6 0 1,0 -7.2,0M1669.2,435.9a3.6,3.6 0 1,0 7.2,0a3.6,3.6 0 1,0 -7.2,0M1670.6,436.3a3.6,3.6 0 1,0 7.2,0a3.6,3.6 0 1,0 -7.2,0M1673,437.6a3.6,3.6 0 1,0 7.2,0a3.6,3.6 0 1,0 -7.2,0M1676.3,436.5a3.6,3.6 0 1,0 7.2,0a3.6,3.6 0 1,0 -7.2,0M1680,437.8a3.6,3.6 0 1,0 7.2,0a3.6,3.6 0 1,0 -7.2,0M1684,437.6a3.6,3.6 0 1,0 7.2,0a3.6,3.6 0 1,0 -7.2,0M1685.9,438.1a3.6,3.6 0 1,0 7.2,0a3.6,3.6 0 1,0 -7.2,0M1687.8,437.7a3.6,3.6 0 1,0 7.2,0a3.6,3.6 0 1,0 -7.2,0M1692.8,438.2a3.6,3.6 0 1,0 7.2,0a3.6,3.6 0 1,0 -7.2,0M1696.5,438.9a3.6,3.6 0 1,0 7.2,0a3.6,3.6 0 1,0 -7.2,0M1698.5,439.4a3.6,3.6 0 1,0 7.2,0a3.6,3.6 0 1,0 -7.2,0M1700.1,439a3.6,3.6 0 1,0 7.2,0a3.6,3.6 0 1,0 -7.2,0M1702.3,439a3.6,3.6 0 1,0 7.2,0a3.6,3.6 0 1,0 -7.2,0M1704.9,439.7a3.6,3.6 0 1,0 7.2,0a3.6,3.6 0 1,0 -7.2,0M1710.6,439.4a3.6,3.6 0 1,0 7.2,0a3.6,3.6 0 1,0 -7.2,0M1715.1,440.2a3.6,3.6 0 1,0 7.2,0a3.6,3.6 0 1,0 -7.2,0M1720.3,440.8a3.6,3.6 0 1,0 7.2,0a3.6,3.6 0 1,0 -7.2,0M1723.1,440.6a3.6,3.6 0 1,0 7.2,0a3.6,3.6 0 1,0 -7.2,0M1725.5,440.3a3.6,3.6 0 1,0 7.2,0a3.6,3.6 0 1,0 -7.2,0M1728.3,440.4a3.6,3.6 0 1,0 7.2,0a3.6,3.6 0 1,0 -7.2,0M1730.6,441.2a3.6,3.6 0 1,0 7.2,0a3.6,3.6 0 1,0 -7.2,0M1732.2,441.3a3.6,3.6 0 1,0 7.2,0a3.6,3.6 0 1,0 -7.2,0M1587.8,443.4a3.6,3.6 0 1,0 7.2,0a3.6,3.6 0 1,0 -7.2,0M1590.2,443.6a3.6,3.6 0 1,0 7.2,0a3.6,3.6 0 1,0 -7.2,0M1592.1,443.3a3.6,3.6 0 1,0 7.2,0a3.6,3.6 0 1,0 -7.2,0M1595.4,443a3.6,3.6 0 1,0 7.2,0a3.6,3.6 0 1,0 -7.2,0M1597.1,443.9a3.6,3.6 0 1,0 7.2,0a3.6,3.6 0 1,0 -7.2,0M1600.3,444.3a3.6,3.6 0 1,0 7.2,0a3.6,3.6 0 1,0 -7.2,0M1601.5,443.9a3.6,3.6 0 1,0 7.2,0a3.6,3.6 0 1,0 -7.2,0M1604.2,444.3a3.6,3.6 0 1,0 7.2,0a3.6,3.6 0 1,0 -7.2,0M1606.8,444a3.6,3.6 0 1,0 7.2,0a3.6,3.6 0 1,0 -7.2,0M1612,444.3a3.6,3.6 0 1,0 7.2,0a3.6,3.6 0 1,0 -7.2,0M1614.6,444.4a3.6,3.6 0 1,0 7.2,0a3.6,3.6 0 1,0 -7.2,0M1620,444.7a3.6,3.6 0 1,0 7.2,0a3.6,3.6 0 1,0 -7.2,0M1622.3,445.8a3.6,3.6 0 1,0 7.2,0a3.6,3.6 0 1,0 -7.2,0M1624.4,446a3.6,3.6 0 1,0 7.2,0a3.6,3.6 0 1,0 -7.2,0M1629.5,446.3a3.6,3.6 0 1,0 7.2,0a3.6,3.6 0 1,0 -7.2,0M1632.2,446.4a3.6,3.6 0 1,0 7.2,0a3.6,3.6 0 1,0 -7.2,0M1637.1,446.5a3.6,3.6 0 1,0 7.2,0a3.6,3.6 0 1,0 -7.2,0M1638.9,446.9a3.6,3.6 0 1,0 7.2,0a3.6,3.6 0 1,0 -7.2,0M1641.3,446.7a3.6,3.6 0 1,0 7.2,0a3.6,3.6 0 1,0 -7.2,0M1644.2,447.1a3.6,3.6 0 1,0 7.2,0a3.6,3.6 0 1,0 -7.2,0M1647.2,447.4a3.6,3.6 0 1,0 7.2,0a3.6,3.6 0 1,0 -7.2,0M1651.3,448.7a3.6,3.6 0 1,0 7.2,0a3.6,3.6 0 1,0 -7.2,0M1655.6,448.9a3.6,3.6 0 1,0 7.2,0a3.6,3.6 0 1,0 -7.2,0M1661.9,448.6a3.6,3.6 0 1,0 7.2,0a3.6,3.6 0 1,0 -7.2,0M1663.3,448.3a3.6,3.6 0 1,0 7.2,0a3.6,3.6 0 1,0 -7.2,0M1666,448.1a3.6,3.6 0 1,0 7.2,0a3.6,3.6 0 1,0 -7.2,0M1670.5,447.4a3.6,3.6 0 1,0 7.2,0a3.6,3.6 0 1,0 -7.2,0M1675.1,447.7a3.6,3.6 0 1,0 7.2,0a3.6,3.6 0 1,0 -7.2,0M1683.8,446.3a3.6,3.6 0 1,0 7.2,0a3.6,3.6 0 1,0 -7.2,0M1686.6,446.8a3.6,3.6 0 1,0 7.2,0a3.6,3.6 0 1,0 -7.2,0M1689,445.5a3.6,3.6 0 1,0 7.2,0a3.6,3.6 0 1,0 -7.2,0M1689.8,445.5a3.6,3.6 0 1,0 7.2,0a3.6,3.6 0 1,0 -7.2,0M1693.6,445.5a3.6,3.6 0 1,0 7.2,0a3.6,3.6 0 1,0 -7.2,0M1695,445.3a3.6,3.6 0 1,0 7.2,0a3.6,3.6 0 1,0 -7.2,0M1699.8,445.4a3.6,3.6 0 1,0 7.2,0a3.6,3.6 0 1,0 -7.2,0M1702.9,445a3.6,3.6 0 1,0 7.2,0a3.6,3.6 0 1,0 -7.2,0M1706.1,444.8a3.6,3.6 0 1,0 7.2,0a3.6,3.6 0 1,0 -7.2,0M1707.8,444.8a3.6,3.6 0 1,0 7.2,0a3.6,3.6 0 1,0 -7.2,0M1710.2,444.4a3.6,3.6 0 1,0 7.2,0a3.6,3.6 0 1,0 -7.2,0M1712.4,444.8a3.6,3.6 0 1,0 7.2,0a3.6,3.6 0 1,0 -7.2,0M1716,444.4a3.6,3.6 0 1,0 7.2,0a3.6,3.6 0 1,0 -7.2,0M1720,443.7a3.6,3.6 0 1,0 7.2,0a3.6,3.6 0 1,0 -7.2,0M1723.1,444.1a3.6,3.6 0 1,0 7.2,0a3.6,3.6 0 1,0 -7.2,0M1724.2,443.1a3.6,3.6 0 1,0 7.2,0a3.6,3.6 0 1,0 -7.2,0M1726.7,442.8a3.6,3.6 0 1,0 7.2,0a3.6,3.6 0 1,0 -7.2,0M1729.2,443.6a3.6,3.6 0 1,0 7.2,0a3.6,3.6 0 1,0 -7.2,0M1733.4,443.9a3.6,3.6 0 1,0 7.2,0a3.6,3.6 0 1,0 -7.2,0M1735.8,442.6a3.6,3.6 0 1,0 7.2,0a3.6,3.6 0 1,0 -7.2,0M1590.2,442.2a3.6,3.6 0 1,0 7.2,0a3.6,3.6 0 1,0 -7.2,0M1732.4,442.2a3.6,3.6 0 1,0 7.2,0a3.6,3.6 0 1,0 -7.2,0" fill="#000"/>
<path d="M1588.8,442.2a4,4 0 1,0 8,0a4,4 0 1,0 -8,0M1733,442.2a4,4 0 1,0 8,0a4,4 0 1,0 -8,0" fill="#000"/>
<rect x="1597" y="438.6" width="135.5" height="10.6" fill="#606060" stroke="#5a5a5a" stroke-width="1.5"/>
<line x1="1598" y1="445.8" x2="1731" y2="445.8" stroke="#111" stroke-width="1.6" />
<polygon points="1838.9,329 1838.7,380 1838.3,412 1837,420 1834.5,427 1830.5,432 1856.5,432 1852.5,427 1850,420 1848.7,412 1848.3,380 1848.1,329" fill="#000" stroke="#000" stroke-width="1" stroke-linejoin="round"/>
<path d="M1838.3,329.5a3.6,3.6 0 1,0 7.2,0a3.6,3.6 0 1,0 -7.2,0M1838.1,333.8a3.6,3.6 0 1,0 7.2,0a3.6,3.6 0 1,0 -7.2,0M1838.9,336.2a3.6,3.6 0 1,0 7.2,0a3.6,3.6 0 1,0 -7.2,0M1838.9,339.5a3.6,3.6 0 1,0 7.2,0a3.6,3.6 0 1,0 -7.2,0M1839.1,344.1a3.6,3.6 0 1,0 7.2,0a3.6,3.6 0 1,0 -7.2,0M1838.9,347.1a3.6,3.6 0 1,0 7.2,0a3.6,3.6 0 1,0 -7.2,0M1838.6,350a3.6,3.6 0 1,0 7.2,0a3.6,3.6 0 1,0 -7.2,0M1838.3,354.5a3.6,3.6 0 1,0 7.2,0a3.6,3.6 0 1,0 -7.2,0M1838.8,356.2a3.6,3.6 0 1,0 7.2,0a3.6,3.6 0 1,0 -7.2,0M1838,359.9a3.6,3.6 0 1,0 7.2,0a3.6,3.6 0 1,0 -7.2,0M1838,364.7a3.6,3.6 0 1,0 7.2,0a3.6,3.6 0 1,0 -7.2,0M1838.1,368.1a3.6,3.6 0 1,0 7.2,0a3.6,3.6 0 1,0 -7.2,0M1838,371.7a3.6,3.6 0 1,0 7.2,0a3.6,3.6 0 1,0 -7.2,0M1837.9,373.7a3.6,3.6 0 1,0 7.2,0a3.6,3.6 0 1,0 -7.2,0M1838.1,377.6a3.6,3.6 0 1,0 7.2,0a3.6,3.6 0 1,0 -7.2,0M1838.5,381.1a3.6,3.6 0 1,0 7.2,0a3.6,3.6 0 1,0 -7.2,0M1838.4,383.9a3.6,3.6 0 1,0 7.2,0a3.6,3.6 0 1,0 -7.2,0M1838.8,387a3.6,3.6 0 1,0 7.2,0a3.6,3.6 0 1,0 -7.2,0M1837.8,391.2a3.6,3.6 0 1,0 7.2,0a3.6,3.6 0 1,0 -7.2,0M1837.9,394.7a3.6,3.6 0 1,0 7.2,0a3.6,3.6 0 1,0 -7.2,0M1837.8,397.1a3.6,3.6 0 1,0 7.2,0a3.6,3.6 0 1,0 -7.2,0M1837.9,399.5a3.6,3.6 0 1,0 7.2,0a3.6,3.6 0 1,0 -7.2,0M1838.6,403.3a3.6,3.6 0 1,0 7.2,0a3.6,3.6 0 1,0 -7.2,0M1838,406a3.6,3.6 0 1,0 7.2,0a3.6,3.6 0 1,0 -7.2,0M1838.1,409.3a3.6,3.6 0 1,0 7.2,0a3.6,3.6 0 1,0 -7.2,0M1837.9,413.5a3.6,3.6 0 1,0 7.2,0a3.6,3.6 0 1,0 -7.2,0M1837.3,416.3a3.6,3.6 0 1,0 7.2,0a3.6,3.6 0 1,0 -7.2,0M1836.9,420.5a3.6,3.6 0 1,0 7.2,0a3.6,3.6 0 1,0 -7.2,0M1835.5,423.9a3.6,3.6 0 1,0 7.2,0a3.6,3.6 0 1,0 -7.2,0M1833.8,427.2a3.6,3.6 0 1,0 7.2,0a3.6,3.6 0 1,0 -7.2,0M1841.1,330.9a3.6,3.6 0 1,0 7.2,0a3.6,3.6 0 1,0 -7.2,0M1841.8,333.9a3.6,3.6 0 1,0 7.2,0a3.6,3.6 0 1,0 -7.2,0M1840.7,335.9a3.6,3.6 0 1,0 7.2,0a3.6,3.6 0 1,0 -7.2,0M1841.7,340.8a3.6,3.6 0 1,0 7.2,0a3.6,3.6 0 1,0 -7.2,0M1840.8,343.9a3.6,3.6 0 1,0 7.2,0a3.6,3.6 0 1,0 -7.2,0M1841.8,346.8a3.6,3.6 0 1,0 7.2,0a3.6,3.6 0 1,0 -7.2,0M1841.7,351.2a3.6,3.6 0 1,0 7.2,0a3.6,3.6 0 1,0 -7.2,0M1841.8,353.2a3.6,3.6 0 1,0 7.2,0a3.6,3.6 0 1,0 -7.2,0M1841.6,357a3.6,3.6 0 1,0 7.2,0a3.6,3.6 0 1,0 -7.2,0M1842,359.9a3.6,3.6 0 1,0 7.2,0a3.6,3.6 0 1,0 -7.2,0M1841.6,364.2a3.6,3.6 0 1,0 7.2,0a3.6,3.6 0 1,0 -7.2,0M1841.5,366.8a3.6,3.6 0 1,0 7.2,0a3.6,3.6 0 1,0 -7.2,0M1841.5,371a3.6,3.6 0 1,0 7.2,0a3.6,3.6 0 1,0 -7.2,0M1841.7,373.9a3.6,3.6 0 1,0 7.2,0a3.6,3.6 0 1,0 -7.2,0M1841.1,377.3a3.6,3.6 0 1,0 7.2,0a3.6,3.6 0 1,0 -7.2,0M1841.7,380.3a3.6,3.6 0 1,0 7.2,0a3.6,3.6 0 1,0 -7.2,0M1841.1,383.4a3.6,3.6 0 1,0 7.2,0a3.6,3.6 0 1,0 -7.2,0M1841.7,386.5a3.6,3.6 0 1,0 7.2,0a3.6,3.6 0 1,0 -7.2,0M1841.6,390.7a3.6,3.6 0 1,0 7.2,0a3.6,3.6 0 1,0 -7.2,0M1841.5,392.9a3.6,3.6 0 1,0 7.2,0a3.6,3.6 0 1,0 -7.2,0M1841,396.7a3.6,3.6 0 1,0 7.2,0a3.6,3.6 0 1,0 -7.2,0M1842.3,399.2a3.6,3.6 0 1,0 7.2,0a3.6,3.6 0 1,0 -7.2,0M1841.4,402.6a3.6,3.6 0 1,0 7.2,0a3.6,3.6 0 1,0 -7.2,0M1841.9,406.1a3.6,3.6 0 1,0 7.2,0a3.6,3.6 0 1,0 -7.2,0M1841.7,408.9a3.6,3.6 0 1,0 7.2,0a3.6,3.6 0 1,0 -7.2,0M1842.4,412.9a3.6,3.6 0 1,0 7.2,0a3.6,3.6 0 1,0 -7.2,0M1842.2,416a3.6,3.6 0 1,0 7.2,0a3.6,3.6 0 1,0 -7.2,0M1844.1,421a3.6,3.6 0 1,0 7.2,0a3.6,3.6 0 1,0 -7.2,0M1844.7,424.6a3.6,3.6 0 1,0 7.2,0a3.6,3.6 0 1,0 -7.2,0M1846.9,429a3.6,3.6 0 1,0 7.2,0a3.6,3.6 0 1,0 -7.2,0M1839.9,332.4a3.6,3.6 0 1,0 7.2,0a3.6,3.6 0 1,0 -7.2,0M1839.9,428.6a3.6,3.6 0 1,0 7.2,0a3.6,3.6 0 1,0 -7.2,0" fill="#000"/>
<polygon points="1831.5,451 1835.5,456 1838.1,462 1838.5,490 1838.9,515 1839.7,526 1847.3,526 1848.1,515 1848.5,490 1848.9,462 1851.5,456 1855.5,451" fill="#000" stroke="#000" stroke-width="1" stroke-linejoin="round"/>
<path d="M1831.2,451.3a3.6,3.6 0 1,0 7.2,0a3.6,3.6 0 1,0 -7.2,0M1835.6,458.3a3.6,3.6 0 1,0 7.2,0a3.6,3.6 0 1,0 -7.2,0M1838.2,462.6a3.6,3.6 0 1,0 7.2,0a3.6,3.6 0 1,0 -7.2,0M1837.7,467a3.6,3.6 0 1,0 7.2,0a3.6,3.6 0 1,0 -7.2,0M1837.7,469.6a3.6,3.6 0 1,0 7.2,0a3.6,3.6 0 1,0 -7.2,0M1837.6,473.3a3.6,3.6 0 1,0 7.2,0a3.6,3.6 0 1,0 -7.2,0M1838.4,476.2a3.6,3.6 0 1,0 7.2,0a3.6,3.6 0 1,0 -7.2,0M1838.3,481.4a3.6,3.6 0 1,0 7.2,0a3.6,3.6 0 1,0 -7.2,0M1837.7,483.5a3.6,3.6 0 1,0 7.2,0a3.6,3.6 0 1,0 -7.2,0M1838.7,487.8a3.6,3.6 0 1,0 7.2,0a3.6,3.6 0 1,0 -7.2,0M1838,491.2a3.6,3.6 0 1,0 7.2,0a3.6,3.6 0 1,0 -7.2,0M1838.1,493.9a3.6,3.6 0 1,0 7.2,0a3.6,3.6 0 1,0 -7.2,0M1838.5,497.4a3.6,3.6 0 1,0 7.2,0a3.6,3.6 0 1,0 -7.2,0M1838.8,500.9a3.6,3.6 0 1,0 7.2,0a3.6,3.6 0 1,0 -7.2,0M1838.6,506.4a3.6,3.6 0 1,0 7.2,0a3.6,3.6 0 1,0 -7.2,0M1838.6,510a3.6,3.6 0 1,0 7.2,0a3.6,3.6 0 1,0 -7.2,0M1838,512.7a3.6,3.6 0 1,0 7.2,0a3.6,3.6 0 1,0 -7.2,0M1839.3,516.5a3.6,3.6 0 1,0 7.2,0a3.6,3.6 0 1,0 -7.2,0M1838.8,520a3.6,3.6 0 1,0 7.2,0a3.6,3.6 0 1,0 -7.2,0M1839.7,522.7a3.6,3.6 0 1,0 7.2,0a3.6,3.6 0 1,0 -7.2,0M1846.5,453.6a3.6,3.6 0 1,0 7.2,0a3.6,3.6 0 1,0 -7.2,0M1844.2,456.7a3.6,3.6 0 1,0 7.2,0a3.6,3.6 0 1,0 -7.2,0M1842.4,462.5a3.6,3.6 0 1,0 7.2,0a3.6,3.6 0 1,0 -7.2,0M1841.4,466.6a3.6,3.6 0 1,0 7.2,0a3.6,3.6 0 1,0 -7.2,0M1841.3,470.7a3.6,3.6 0 1,0 7.2,0a3.6,3.6 0 1,0 -7.2,0M1841.2,473.1a3.6,3.6 0 1,0 7.2,0a3.6,3.6 0 1,0 -7.2,0M1841.2,477.6a3.6,3.6 0 1,0 7.2,0a3.6,3.6 0 1,0 -7.2,0M1841.2,480.6a3.6,3.6 0 1,0 7.2,0a3.6,3.6 0 1,0 -7.2,0M1841.9,484a3.6,3.6 0 1,0 7.2,0a3.6,3.6 0 1,0 -7.2,0M1841.6,487.6a3.6,3.6 0 1,0 7.2,0a3.6,3.6 0 1,0 -7.2,0M1841.5,491a3.6,3.6 0 1,0 7.2,0a3.6,3.6 0 1,0 -7.2,0M1841,494.8a3.6,3.6 0 1,0 7.2,0a3.6,3.6 0 1,0 -7.2,0M1841.1,498.2a3.6,3.6 0 1,0 7.2,0a3.6,3.6 0 1,0 -7.2,0M1842,502.6a3.6,3.6 0 1,0 7.2,0a3.6,3.6 0 1,0 -7.2,0M1840.9,504.4a3.6,3.6 0 1,0 7.2,0a3.6,3.6 0 1,0 -7.2,0M1841.4,509.4a3.6,3.6 0 1,0 7.2,0a3.6,3.6 0 1,0 -7.2,0M1841.5,511.5a3.6,3.6 0 1,0 7.2,0a3.6,3.6 0 1,0 -7.2,0M1840.9,517.1a3.6,3.6 0 1,0 7.2,0a3.6,3.6 0 1,0 -7.2,0M1841,519.4a3.6,3.6 0 1,0 7.2,0a3.6,3.6 0 1,0 -7.2,0M1840.2,524.4a3.6,3.6 0 1,0 7.2,0a3.6,3.6 0 1,0 -7.2,0M1839.9,454.4a3.6,3.6 0 1,0 7.2,0a3.6,3.6 0 1,0 -7.2,0M1839.9,522.6a3.6,3.6 0 1,0 7.2,0a3.6,3.6 0 1,0 -7.2,0" fill="#000"/>
<path d="M1839.9,154.1a3.6,3.6 0 1,0 7.2,0a3.6,3.6 0 1,0 -7.2,0M1839.9,193.2a3.6,3.6 0 1,0 7.2,0a3.6,3.6 0 1,0 -7.2,0M1839.9,273.1a3.6,3.6 0 1,0 7.2,0a3.6,3.6 0 1,0 -7.2,0M1839.9,300.7a3.6,3.6 0 1,0 7.2,0a3.6,3.6 0 1,0 -7.2,0M1839.9,314a3.6,3.6 0 1,0 7.2,0a3.6,3.6 0 1,0 -7.2,0M1839.9,522.5a3.6,3.6 0 1,0 7.2,0a3.6,3.6 0 1,0 -7.2,0" fill="#000"/>
<polygon points="1768.8,437.8 1771.3,437.8 1773.8,437.8 1776.3,437.7 1778.8,437.6 1781.3,437.5 1783.8,437.4 1786.2,437.3 1788.7,437.2 1791.2,437 1793.7,436.8 1796.2,436.6 1798.7,436.4 1801.2,436.1 1803.7,435.8 1806.2,435.5 1808.7,435.2 1811.2,434.9 1813.6,434.6 1816.1,434.2 1818.6,433.8 1821.1,433.4 1823.6,433 1826.1,432.5 1828.6,432 1831.1,431.5 1833.6,431 1836.1,430.5 1838.6,429.9 1841.1,429.4 1843.5,431.8 1846,432.2 1848.5,432.6 1851,432.9 1853.5,433.3 1856,433.6 1858.5,434 1861,434.3 1863.5,434.6 1866,434.9 1868.5,435.1 1871,435.4 1873.5,435.6 1875.9,435.9 1878.4,436.1 1880.9,436.3 1883.4,436.5 1885.9,436.7 1888.4,436.8 1890.9,437 1893.4,437.1 1895.9,437.3 1898.4,437.4 1900.9,437.5 1903.3,437.6 1905.8,437.6 1908.3,437.7 1910.8,437.7 1913.3,437.8 1915.8,437.8 1918.3,437.8 1918.3,445.8 1915.8,445.8 1913.3,445.8 1910.8,445.8 1908.3,445.9 1905.8,445.9 1903.3,446 1900.9,446.1 1898.4,446.2 1895.9,446.2 1893.4,446.4 1890.9,446.5 1888.4,446.6 1885.9,446.7 1883.4,446.9 1880.9,447 1878.4,447.2 1875.9,447.4 1873.5,447.6 1871,447.8 1868.5,448 1866,448.2 1863.5,448.5 1861,448.7 1858.5,449 1856,449.3 1853.5,449.6 1851,449.8 1848.5,450.1 1846,450.5 1843.5,450.8 1841.1,453.3 1838.6,452.8 1836.1,452.3 1833.6,451.8 1831.1,451.4 1828.6,450.9 1826.1,450.5 1823.6,450.1 1821.1,449.7 1818.6,449.4 1816.1,449 1813.6,448.7 1811.2,448.4 1808.7,448.1 1806.2,447.8 1803.7,447.5 1801.2,447.3 1798.7,447.1 1796.2,446.9 1793.7,446.7 1791.2,446.5 1788.7,446.4 1786.2,446.2 1783.8,446.1 1781.3,446 1778.8,445.9 1776.3,445.9 1773.8,445.8 1771.3,445.8 1768.8,445.8" fill="#000" stroke="#000" stroke-width="1.2" stroke-linejoin="round"/>
<path d="M1768.2,441.2a3.6,3.6 0 1,0 7.2,0a3.6,3.6 0 1,0 -7.2,0M1773.4,440.4a3.6,3.6 0 1,0 7.2,0a3.6,3.6 0 1,0 -7.2,0M1779.8,440.1a3.6,3.6 0 1,0 7.2,0a3.6,3.6 0 1,0 -7.2,0M1782.2,440.6a3.6,3.6 0 1,0 7.2,0a3.6,3.6 0 1,0 -7.2,0M1789.6,439.2a3.6,3.6 0 1,0 7.2,0a3.6,3.6 0 1,0 -7.2,0M1792.1,439.6a3.6,3.6 0 1,0 7.2,0a3.6,3.6 0 1,0 -7.2,0M1794.3,439.2a3.6,3.6 0 1,0 7.2,0a3.6,3.6 0 1,0 -7.2,0M1797.7,438.5a3.6,3.6 0 1,0 7.2,0a3.6,3.6 0 1,0 -7.2,0M1799.9,438.3a3.6,3.6 0 1,0 7.2,0a3.6,3.6 0 1,0 -7.2,0M1806,438.8a3.6,3.6 0 1,0 7.2,0a3.6,3.6 0 1,0 -7.2,0M1806.9,437.3a3.6,3.6 0 1,0 7.2,0a3.6,3.6 0 1,0 -7.2,0M1810.5,437.8a3.6,3.6 0 1,0 7.2,0a3.6,3.6 0 1,0 -7.2,0M1813.3,437.7a3.6,3.6 0 1,0 7.2,0a3.6,3.6 0 1,0 -7.2,0M1814.1,436.8a3.6,3.6 0 1,0 7.2,0a3.6,3.6 0 1,0 -7.2,0M1819.8,435.9a3.6,3.6 0 1,0 7.2,0a3.6,3.6 0 1,0 -7.2,0M1823.4,435.6a3.6,3.6 0 1,0 7.2,0a3.6,3.6 0 1,0 -7.2,0M1824.6,434.6a3.6,3.6 0 1,0 7.2,0a3.6,3.6 0 1,0 -7.2,0M1828.3,434.7a3.6,3.6 0 1,0 7.2,0a3.6,3.6 0 1,0 -7.2,0M1829.1,433.5a3.6,3.6 0 1,0 7.2,0a3.6,3.6 0 1,0 -7.2,0M1832.4,434a3.6,3.6 0 1,0 7.2,0a3.6,3.6 0 1,0 -7.2,0M1834.7,432.5a3.6,3.6 0 1,0 7.2,0a3.6,3.6 0 1,0 -7.2,0M1839.5,435.4a3.6,3.6 0 1,0 7.2,0a3.6,3.6 0 1,0 -7.2,0M1847.4,435.9a3.6,3.6 0 1,0 7.2,0a3.6,3.6 0 1,0 -7.2,0M1851.5,436.1a3.6,3.6 0 1,0 7.2,0a3.6,3.6 0 1,0 -7.2,0M1854.8,436.6a3.6,3.6 0 1,0 7.2,0a3.6,3.6 0 1,0 -7.2,0M1857.8,437.5a3.6,3.6 0 1,0 7.2,0a3.6,3.6 0 1,0 -7.2,0M1858.9,437.7a3.6,3.6 0 1,0 7.2,0a3.6,3.6 0 1,0 -7.2,0M1862.1,438a3.6,3.6 0 1,0 7.2,0a3.6,3.6 0 1,0 -7.2,0M1865.3,438a3.6,3.6 0 1,0 7.2,0a3.6,3.6 0 1,0 -7.2,0M1868,438a3.6,3.6 0 1,0 7.2,0a3.6,3.6 0 1,0 -7.2,0M1875.2,439.2a3.6,3.6 0 1,0 7.2,0a3.6,3.6 0 1,0 -7.2,0M1877.4,439.7a3.6,3.6 0 1,0 7.2,0a3.6,3.6 0 1,0 -7.2,0M1880.8,439.7a3.6,3.6 0 1,0 7.2,0a3.6,3.6 0 1,0 -7.2,0M1884.4,440a3.6,3.6 0 1,0 7.2,0a3.6,3.6 0 1,0 -7.2,0M1887.7,440.2a3.6,3.6 0 1,0 7.2,0a3.6,3.6 0 1,0 -7.2,0M1889.1,439.6a3.6,3.6 0 1,0 7.2,0a3.6,3.6 0 1,0 -7.2,0M1891.5,439.8a3.6,3.6 0 1,0 7.2,0a3.6,3.6 0 1,0 -7.2,0M1894.4,439.8a3.6,3.6 0 1,0 7.2,0a3.6,3.6 0 1,0 -7.2,0M1896.5,440.6a3.6,3.6 0 1,0 7.2,0a3.6,3.6 0 1,0 -7.2,0M1899.8,440.5a3.6,3.6 0 1,0 7.2,0a3.6,3.6 0 1,0 -7.2,0M1905.3,441.3a3.6,3.6 0 1,0 7.2,0a3.6,3.6 0 1,0 -7.2,0M1906.5,440.5a3.6,3.6 0 1,0 7.2,0a3.6,3.6 0 1,0 -7.2,0M1912.4,440.7a3.6,3.6 0 1,0 7.2,0a3.6,3.6 0 1,0 -7.2,0M1914.4,441.1a3.6,3.6 0 1,0 7.2,0a3.6,3.6 0 1,0 -7.2,0M1765.2,442.4a3.6,3.6 0 1,0 7.2,0a3.6,3.6 0 1,0 -7.2,0M1767.6,442.4a3.6,3.6 0 1,0 7.2,0a3.6,3.6 0 1,0 -7.2,0M1770.7,442.7a3.6,3.6 0 1,0 7.2,0a3.6,3.6 0 1,0 -7.2,0M1777.5,442.8a3.6,3.6 0 1,0 7.2,0a3.6,3.6 0 1,0 -7.2,0M1779.7,443.8a3.6,3.6 0 1,0 7.2,0a3.6,3.6 0 1,0 -7.2,0M1783.5,443.5a3.6,3.6 0 1,0 7.2,0a3.6,3.6 0 1,0 -7.2,0M1784.3,443.6a3.6,3.6 0 1,0 7.2,0a3.6,3.6 0 1,0 -7.2,0M1788,444a3.6,3.6 0 1,0 7.2,0a3.6,3.6 0 1,0 -7.2,0M1790.2,444.2a3.6,3.6 0 1,0 7.2,0a3.6,3.6 0 1,0 -7.2,0M1791.9,444.4a3.6,3.6 0 1,0 7.2,0a3.6,3.6 0 1,0 -7.2,0M1794.9,444a3.6,3.6 0 1,0 7.2,0a3.6,3.6 0 1,0 -7.2,0M1800.2,444.6a3.6,3.6 0 1,0 7.2,0a3.6,3.6 0 1,0 -7.2,0M1802.5,444.8a3.6,3.6 0 1,0 7.2,0a3.6,3.6 0 1,0 -7.2,0M1804.9,445a3.6,3.6 0 1,0 7.2,0a3.6,3.6 0 1,0 -7.2,0M1813.4,445.4a3.6,3.6 0 1,0 7.2,0a3.6,3.6 0 1,0 -7.2,0M1815.8,446a3.6,3.6 0 1,0 7.2,0a3.6,3.6 0 1,0 -7.2,0M1818.5,446.9a3.6,3.6 0 1,0 7.2,0a3.6,3.6 0 1,0 -7.2,0M1819.1,447.1a3.6,3.6 0 1,0 7.2,0a3.6,3.6 0 1,0 -7.2,0M1823.1,447.4a3.6,3.6 0 1,0 7.2,0a3.6,3.6 0 1,0 -7.2,0M1827.8,448.7a3.6,3.6 0 1,0 7.2,0a3.6,3.6 0 1,0 -7.2,0M1830.9,448.8a3.6,3.6 0 1,0 7.2,0a3.6,3.6 0 1,0 -7.2,0M1833.4,449.4a3.6,3.6 0 1,0 7.2,0a3.6,3.6 0 1,0 -7.2,0M1834.4,449.5a3.6,3.6 0 1,0 7.2,0a3.6,3.6 0 1,0 -7.2,0M1837.5,450.5a3.6,3.6 0 1,0 7.2,0a3.6,3.6 0 1,0 -7.2,0M1840.3,447.6a3.6,3.6 0 1,0 7.2,0a3.6,3.6 0 1,0 -7.2,0M1844.3,447.7a3.6,3.6 0 1,0 7.2,0a3.6,3.6 0 1,0 -7.2,0M1850.7,446.8a3.6,3.6 0 1,0 7.2,0a3.6,3.6 0 1,0 -7.2,0M1852.6,446.9a3.6,3.6 0 1,0 7.2,0a3.6,3.6 0 1,0 -7.2,0M1855.2,445.7a3.6,3.6 0 1,0 7.2,0a3.6,3.6 0 1,0 -7.2,0M1858.3,446.4a3.6,3.6 0 1,0 7.2,0a3.6,3.6 0 1,0 -7.2,0M1860.5,445.4a3.6,3.6 0 1,0 7.2,0a3.6,3.6 0 1,0 -7.2,0M1862.6,445.7a3.6,3.6 0 1,0 7.2,0a3.6,3.6 0 1,0 -7.2,0M1864.8,445.2a3.6,3.6 0 1,0 7.2,0a3.6,3.6 0 1,0 -7.2,0M1868,445.3a3.6,3.6 0 1,0 7.2,0a3.6,3.6 0 1,0 -7.2,0M1869.5,444.5a3.6,3.6 0 1,0 7.2,0a3.6,3.6 0 1,0 -7.2,0M1875.2,443.7a3.6,3.6 0 1,0 7.2,0a3.6,3.6 0 1,0 -7.2,0M1876.8,444.3a3.6,3.6 0 1,0 7.2,0a3.6,3.6 0 1,0 -7.2,0M1880.1,443.4a3.6,3.6 0 1,0 7.2,0a3.6,3.6 0 1,0 -7.2,0M1882.7,443.5a3.6,3.6 0 1,0 7.2,0a3.6,3.6 0 1,0 -7.2,0M1884.3,443.6a3.6,3.6 0 1,0 7.2,0a3.6,3.6 0 1,0 -7.2,0M1886.8,443.9a3.6,3.6 0 1,0 7.2,0a3.6,3.6 0 1,0 -7.2,0M1892.3,443.5a3.6,3.6 0 1,0 7.2,0a3.6,3.6 0 1,0 -7.2,0M1897.3,443.5a3.6,3.6 0 1,0 7.2,0a3.6,3.6 0 1,0 -7.2,0M1900.2,443.2a3.6,3.6 0 1,0 7.2,0a3.6,3.6 0 1,0 -7.2,0M1905.3,442.6a3.6,3.6 0 1,0 7.2,0a3.6,3.6 0 1,0 -7.2,0M1907,442.9a3.6,3.6 0 1,0 7.2,0a3.6,3.6 0 1,0 -7.2,0M1909.9,442.6a3.6,3.6 0 1,0 7.2,0a3.6,3.6 0 1,0 -7.2,0M1912.5,443.4a3.6,3.6 0 1,0 7.2,0a3.6,3.6 0 1,0 -7.2,0M1913.7,443.3a3.6,3.6 0 1,0 7.2,0a3.6,3.6 0 1,0 -7.2,0M1767.7,441.8a3.6,3.6 0 1,0 7.2,0a3.6,3.6 0 1,0 -7.2,0M1912.2,441.8a3.6,3.6 0 1,0 7.2,0a3.6,3.6 0 1,0 -7.2,0" fill="#000"/>
<path d="M1766.3,441.8a4,4 0 1,0 8,0a4,4 0 1,0 -8,0M1912.8,441.8a4,4 0 1,0 8,0a4,4 0 1,0 -8,0" fill="#000"/>
<rect x="1775.3" y="437.8" width="137" height="8.4" fill="#606060" stroke="#5a5a5a" stroke-width="1.5"/>
<line x1="1776" y1="442.5" x2="1911" y2="442.5" stroke="#222" stroke-width="1.4" />
<line x1="1486.3" y1="393.2" x2="1486.3" y2="463" stroke="#e8261a" stroke-width="2.6" />
<line x1="1459.3" y1="393.2" x2="1512.9" y2="393.2" stroke="#e8261a" stroke-width="2.8" />
<line x1="1459.3" y1="463" x2="1512.9" y2="463" stroke="#e8261a" stroke-width="2.8" />
<polygon points="1486.3,418.1 1497.3,428.1 1486.3,438.1 1475.3,428.1" fill="#ff3508" />
<line x1="1664.6" y1="429.2" x2="1664.6" y2="460.2" stroke="#e8261a" stroke-width="2.6" />
<line x1="1638.1" y1="429.2" x2="1691.3" y2="429.2" stroke="#e8261a" stroke-width="2.8" />
<line x1="1638.1" y1="460.2" x2="1691.3" y2="460.2" stroke="#e8261a" stroke-width="2.8" />
<polygon points="1664.6,433.5 1675.1,444.5 1664.6,455.5 1654.1,444.5" fill="#ff3508" />
<line x1="1843.7" y1="427.1" x2="1843.7" y2="454.2" stroke="#e8261a" stroke-width="2.6" />
<line x1="1816.4" y1="427.1" x2="1870.5" y2="427.1" stroke="#e8261a" stroke-width="2.8" />
<line x1="1816.4" y1="454.2" x2="1870.5" y2="454.2" stroke="#e8261a" stroke-width="2.8" />
<polygon points="1843.7,429.5 1854.9,440.5 1843.7,451.5 1832.5,440.5" fill="#ff3508" />
<rect x="1378.7" y="133.3" width="572.1" height="444.9" fill="none" stroke="#000" stroke-width="2.4"/>
<line x1="1373" y1="208.3" x2="1377.7" y2="208.3" stroke="#333" stroke-width="1.6" />
<text transform="translate(1369.6,213.3) scale(1,1.04)" font-size="30.6" fill="#000" text-anchor="end" >5.0</text>
<line x1="1373" y1="325.1" x2="1377.7" y2="325.1" stroke="#333" stroke-width="1.6" />
<text transform="translate(1369.6,330.1) scale(1,1.04)" font-size="30.6" fill="#000" text-anchor="end" >2.5</text>
<line x1="1373" y1="442" x2="1377.7" y2="442" stroke="#333" stroke-width="1.6" />
<text transform="translate(1369.6,447) scale(1,1.04)" font-size="30.6" fill="#000" text-anchor="end" >0.0</text>
<line x1="1373" y1="558.8" x2="1377.7" y2="558.8" stroke="#333" stroke-width="1.6" />
<text transform="translate(1369.6,563.8) scale(1,1.04)" font-size="30.6" fill="#000" text-anchor="end" >−2.5</text>
<line x1="1486.6" y1="579.2" x2="1486.6" y2="589" stroke="#000" stroke-width="2.2" />
<text transform="translate(1481.2,625.6) scale(1,1.04)" font-size="38.6" fill="#000" text-anchor="middle" >FLI1</text>
<text transform="translate(1486.6,671.3) scale(1,1.04)" font-size="38.6" fill="#000" text-anchor="middle" >Up</text>
<line x1="1664.6" y1="579.2" x2="1664.6" y2="589" stroke="#000" stroke-width="2.2" />
<text transform="translate(1659.2,625.6) scale(1,1.04)" font-size="38.6" fill="#000" text-anchor="middle" >FLI1</text>
<text transform="translate(1664.6,671.3) scale(1,1.04)" font-size="38.6" fill="#000" text-anchor="middle" >Down</text>
<line x1="1843.1" y1="579.2" x2="1843.1" y2="589" stroke="#000" stroke-width="2.2" />
<text transform="translate(1842.5,625.6) scale(1,1.04)" font-size="38.6" fill="#000" text-anchor="middle" >No</text>
<text transform="translate(1847.5,671.3) scale(1,1.04)" font-size="38.6" fill="#000" text-anchor="middle" >Change</text>
<text transform="translate(1298.7,352.3) rotate(-90) scale(1,1.04)" font-size="38.7" fill="#000" text-anchor="middle" >RNA−Seq Log2 FC</text>
<text transform="translate(1417.3,176.9) scale(1,1.04)" font-size="31" fill="#666666">p=1.99e<tspan font-size="17" dx="1.5" dy="-9.8">-12</tspan></text>
<text transform="translate(1603.1,203.4) scale(1,1.04)" font-size="31" fill="#666666">p=2.81e<tspan font-size="17" dx="1.5" dy="-10.7">-18</tspan></text>
<text transform="translate(8,804.5) scale(1,1.04)" font-size="54" fill="#000" text-anchor="start" font-weight="bold" >c</text>
<text transform="translate(1166,805) scale(1,1.04)" font-size="54" fill="#000" text-anchor="start" font-weight="bold" >d</text>
<rect x="175" y="893.2" width="911.5" height="9.6" fill="#000" rx="3"/>
<polygon points="173,893.2 183,893.2 189,906.5 184,907.5 173,901" fill="#000" stroke="#000" stroke-width="1.2" stroke-linejoin="round"/>
<polygon points="1088.5,902.8 1078.5,902.8 1072.5,889.5 1077.5,888.5 1088.5,895" fill="#000" stroke="#000" stroke-width="1.2" stroke-linejoin="round"/>
<rect x="276.7" y="886.5" width="5.6" height="8" fill="#000" rx="0.8"/>
<rect x="838" y="886.5" width="5.6" height="8" fill="#000" rx="0.8"/>
<rect x="557.2" y="901.5" width="5.6" height="8" fill="#000" rx="0.8"/>
<text transform="translate(262.3,884.1) scale(1,1.04)" font-size="26.8" fill="#000" text-anchor="start" >122.6 mb</text>
<text transform="translate(824.1,884.1) scale(1,1.04)" font-size="26.8" fill="#000" text-anchor="start" >122.8 mb</text>
<text transform="translate(543.3,932.3) scale(1,1.04)" font-size="26.8" fill="#000" text-anchor="start" >122.7 mb</text>
<rect x="1249.3" y="888.6" width="910.7" height="9.6" fill="#000" rx="3"/>
<polygon points="1247.3,888.6 1257.3,888.6 1263.3,901.9 1258.3,902.9 1247.3,896.4" fill="#000" stroke="#000" stroke-width="1.2" stroke-linejoin="round"/>
<polygon points="2162,898.2 2152,898.2 2146,884.9 2151,883.9 2162,890.4" fill="#000" stroke="#000" stroke-width="1.2" stroke-linejoin="round"/>
<rect x="1272.3" y="881.9" width="5.6" height="8" fill="#000" rx="0.8"/>
<rect x="1409.8" y="881.9" width="5.6" height="8" fill="#000" rx="0.8"/>
<rect x="1547.3" y="881.9" width="5.6" height="8" fill="#000" rx="0.8"/>
<rect x="1684.8" y="881.9" width="5.6" height="8" fill="#000" rx="0.8"/>
<rect x="1822.3" y="881.9" width="5.6" height="8" fill="#000" rx="0.8"/>
<rect x="1959.8" y="881.9" width="5.6" height="8" fill="#000" rx="0.8"/>
<rect x="2097.3" y="881.9" width="5.6" height="8" fill="#000" rx="0.8"/>
<rect x="1341" y="896.9" width="5.6" height="8" fill="#000" rx="0.8"/>
<rect x="1478.5" y="896.9" width="5.6" height="8" fill="#000" rx="0.8"/>
<rect x="1616" y="896.9" width="5.6" height="8" fill="#000" rx="0.8"/>
<rect x="1753.5" y="896.9" width="5.6" height="8" fill="#000" rx="0.8"/>
<rect x="1891" y="896.9" width="5.6" height="8" fill="#000" rx="0.8"/>
<rect x="2028.5" y="896.9" width="5.6" height="8" fill="#000" rx="0.8"/>
<text transform="translate(1249,880.1) scale(1,1.04)" font-size="26.8" fill="#000" text-anchor="start" >99.63 mb</text>
<text transform="translate(1386.2,880.1) scale(1,1.04)" font-size="26.8" fill="#000" text-anchor="start" >99.65</text>
<text transform="translate(1523.6,880.1) scale(1,1.04)" font-size="26.8" fill="#000" text-anchor="start" >99.67</text>
<text transform="translate(1661.8,880.1) scale(1,1.04)" font-size="26.8" fill="#000" text-anchor="start" >99.69</text>
<text transform="translate(1798.3,880.1) scale(1,1.04)" font-size="26.8" fill="#000" text-anchor="start" >99.71</text>
<text transform="translate(1935.4,880.1) scale(1,1.04)" font-size="26.8" fill="#000" text-anchor="start" >99.73</text>
<text transform="translate(2072.8,880.1) scale(1,1.04)" font-size="26.8" fill="#000" text-anchor="start" >99.75</text>
<text transform="translate(1329.3,923.8) scale(1,1.04)" font-size="26.8" fill="#000" text-anchor="start" >99.64</text>
<text transform="translate(1466.9,923.8) scale(1,1.04)" font-size="26.8" fill="#000" text-anchor="start" >99.66</text>
<text transform="translate(1604,923.8) scale(1,1.04)" font-size="26.8" fill="#000" text-anchor="start" >99.68</text>
<text transform="translate(1743.3,923.8) scale(1,1.04)" font-size="26.8" fill="#000" text-anchor="start" >99.7</text>
<text transform="translate(1878.4,923.8) scale(1,1.04)" font-size="26.8" fill="#000" text-anchor="start" >99.72</text>
<text transform="translate(2015.4,923.8) scale(1,1.04)" font-size="26.8" fill="#000" text-anchor="start" >99.74</text>
<line x1="162.1" y1="935" x2="162.1" y2="1018.7" stroke="#555555" stroke-width="2.6" />
<line x1="162.1" y1="1033" x2="162.1" y2="1117" stroke="#7c1620" stroke-width="2.6" />
<line x1="162.1" y1="1129.1" x2="162.1" y2="1212.8" stroke="#1d5a1d" stroke-width="2.6" />
<line x1="162.1" y1="1230.8" x2="162.1" y2="1315.2" stroke="#7d3cc8" stroke-width="2.6" />
<line x1="162.1" y1="1331" x2="162.1" y2="1414.4" stroke="#7c1620" stroke-width="2.6" />
<line x1="162.1" y1="1426.6" x2="162.1" y2="1464.8" stroke="#103c10" stroke-width="2.6" />
<text transform="translate(156.5,982.6) scale(1,1.04)" font-size="38.7" fill="#000" text-anchor="end" >ETV6</text>
<text transform="translate(157,1082) scale(1,1.04)" font-size="38.7" fill="#000" text-anchor="end" >FLI1</text>
<text transform="translate(157,1181.4) scale(1,1.04)" font-size="38.7" fill="#000" text-anchor="end" >H3K27ac</text>
<text transform="translate(157,1284.5) scale(1,1.04)" font-size="38.7" fill="#000" text-anchor="end" >ATAC</text>
<text transform="translate(105,1357.1) scale(1,1.04)" font-size="38.7" fill="#000" text-anchor="middle" >FLI1</text>
<text transform="translate(102,1403.5) scale(1,1.04)" font-size="39" fill="#000" text-anchor="middle" >(EW8)</text>
<text transform="translate(156.3,1461.3) scale(1,1.04)" font-size="38.9" fill="#000" text-anchor="end" >GGAA</text>
<text transform="translate(173.3,962.6) scale(1,1.04)" font-size="26.9" fill="#000" text-anchor="start" >DMSO</text>
<text transform="translate(173.3,1057.5) scale(1,1.04)" font-size="26.9" fill="#000" text-anchor="start" >DMSO</text>
<text transform="translate(173.3,1153.4) scale(1,1.04)" font-size="26.9" fill="#000" text-anchor="start" >DMSO</text>
<text transform="translate(173.3,1252.5) scale(1,1.04)" font-size="26.9" fill="#000" text-anchor="start" >DMSO</text>
<text transform="translate(173.3,1348.4) scale(1,1.04)" font-size="26.9" fill="#000" text-anchor="start" >DMSO</text>
<text transform="translate(172.8,1014.1) scale(1,1.04)" font-size="26.9">dTAG<tspan font-size="14" dx="0.8" dy="-9.8">V</tspan><tspan dy="9.8">-1</tspan></text>
<text transform="translate(172.8,1108.6) scale(1,1.04)" font-size="26.9">dTAG<tspan font-size="14" dx="0.8" dy="-9.8">V</tspan><tspan dy="9.8">-1</tspan></text>
<text transform="translate(172.8,1204.5) scale(1,1.04)" font-size="26.9">dTAG<tspan font-size="14" dx="0.8" dy="-9.8">V</tspan><tspan dy="9.8">-1</tspan></text>
<text transform="translate(172.8,1303.6) scale(1,1.04)" font-size="26.9">dTAG<tspan font-size="14" dx="0.8" dy="-9.8">V</tspan><tspan dy="9.8">-1</tspan></text>
<text transform="translate(172.8,1399.5) scale(1,1.04)" font-size="26.9">dTAG<tspan font-size="14" dx="0.8" dy="-9.8">V</tspan><tspan dy="9.8">-1</tspan></text>
<text transform="translate(175.8,1440.2) scale(1,1.04)" font-size="26" fill="#000" text-anchor="start" >&gt;4</text>
<text transform="translate(175.3,1463.4) scale(1,1.04)" font-size="26.2" fill="#000" text-anchor="start" >3 or 4</text>
<path d="M167.5,970.3L167.5,970.2L170.5,970.2L171.5,969.8L174.5,969.8L175.5,970.2L178.5,970.2L179.5,970.3L182.5,970.3L183.5,970.1L186.5,970.1L187.5,970.3L194.5,970.3L195.5,970L198.5,970L199.5,969.7L202.5,969.7L203.5,970.1L206.5,970.1L207.5,970.3L210.5,970.3L211.5,970.2L214.5,970.2L215.5,970.3L222.5,970.3L223.5,970.2L238.5,970.2L239.5,969.7L242.5,969.7L243.5,969.9L246.5,969.9L247.5,970.3L254.5,970.3L255.5,970L258.5,970L259.5,969.9L262.5,969.9L263.5,969.8L266.5,969.8L267.5,970.3L270.5,970.3L271.5,969.8L274.5,969.8L275.5,969.7L278.5,969.7L279.5,970.3L282.5,970.3L283.5,970L286.5,970L287.5,970.3L290.5,970.3L291.5,969.7L294.5,969.7L295.5,970.3L302.5,970.3L303.5,969.9L306.5,969.9L307.5,970.1L310.5,970.1L311.5,970.3L326.5,970.3L327.5,969.7L330.5,969.7L331.5,970.3L338.5,970.3L339.5,969.9L342.5,969.9L343.5,970.3L350.5,970.3L351.5,970L354.5,970L355.5,970.3L370.5,970.2L371.5,969.8L374.5,969.8L375.5,970.1L378.5,970.1L379.5,970.3L382.5,970.3L383.5,969.8L386.5,969.8L387.5,970.3L390.5,970.3L391.5,970L394.5,970L395.5,970.3L398.5,970.3L399.5,969.8L402.5,969.8L403.5,970.2L406.5,970.2L407.5,970.3L418.5,970.3L419.5,970.1L422.5,970.1L423.5,970.3L430.5,970.3L431.5,970.1L438.5,970.1L439.5,969.8L442.5,969.8L443.5,970.3L446.5,970.3L447.5,970.2L450.5,970.2L451.5,970.3L454.5,970.3L455.5,970.1L458.5,970.1L459.5,969.9L460.5,968.9L461.5,968.1L462.5,968L463.5,968L464.5,968.1L465.5,968.9L466.5,969.7L467.5,970L470.5,970L471.5,970.3L478.5,970.3L479.5,970L482.5,970L483.5,970.3L486.5,970.3L487.5,970.2L490.5,970.2L491.5,970.3L498.5,970.3L499.5,970L506.5,970L507.5,969.9L510.5,969.9L511.5,970.2L514.5,970.2L515.5,969.8L518.5,969.8L519.5,970.2L522.5,970.2L523.5,969.9L526.5,969.9L527.5,970.1L534.5,970.1L535.5,970.3L538.5,970.3L539.5,969.7L541.5,969.7L542.5,969.2L543.5,968.6L544.5,968.5L545.5,968.5L546.5,968.6L547.5,969.2L548.5,970L550.5,970L551.5,970.2L554.5,970.2L555.5,970.3L559.5,970.3L560.5,970.2L561.5,969.2L562.5,967.6L563.5,967.2L564.5,967.2L565.5,967.6L566.5,969.2L567.5,970L570.5,970L571.5,970.1L574.5,970.1L575.5,970.3L586.5,970.3L587.5,969.8L590.5,969.8L591.5,970.2L599.5,970.3L602.5,970.3L603.5,969.9L606.5,969.9L607.5,969.8L610.5,969.8L611.5,970.1L614.5,970.1L615.5,970.3L618.5,970.3L619.5,969.9L622.5,969.9L623.5,970L626.5,970L627.5,970.3L630.5,970.3L631.5,970.2L634.5,970.2L635.5,970.3L638.5,970.3L639.5,970.1L642.5,970.1L643.5,970.3L646.5,970.3L647.5,969.7L650.5,969.7L651.5,970.3L654.5,970.3L655.5,969.9L658.5,969.9L659.5,970L662.5,970L663.5,970.3L670.5,970.3L671.5,970.2L674.5,970.2L675.5,969.9L678.5,969.9L679.5,970.3L682.5,970.3L683.5,970.1L690.5,970.1L691.5,969.9L694.5,969.9L695.5,970L698.5,970L699.5,970.2L702.5,970.2L703.5,970.3L706.5,970.3L707.5,970L710.5,970L711.5,970.3L714.5,970.3L715.5,970L718.5,970L719.5,970.1L722.5,970.1L723.5,970.2L726.5,970.2L727.5,969.8L734.5,969.8L735.5,970.3L738.5,970.3L739.5,970.1L742.5,970.1L743.5,970.2L746.5,970.2L747.5,969.8L750.5,969.8L751.5,969.8L754.5,969.8L755.5,970.1L758.5,970.1L759.5,970L762.5,970L763.5,970.1L766.5,970.1L767.5,970.3L770.5,970.3L771.5,969.7L774.5,969.7L775.5,970.1L778.5,970.1L779.5,970.3L782.5,970.3L783.5,969.9L786.5,969.9L787.5,970.3L790.5,970.3L791.5,970.1L797.5,970.2L798.5,969.3L799.5,968.1L800.5,967.6L802.5,967.6L803.5,968.1L804.5,969.3L805.5,969.9L806.5,969.9L807.5,970.2L814.5,970.3L815.5,970.2L818.5,970.2L819.5,969.9L822.5,969.9L823.5,969.8L830.5,969.8L831.5,970.3L838.5,970.3L839.5,970.1L842.5,970.1L843.5,969.9L846.5,969.9L847.5,970.3L850.5,970.3L851.5,969.9L854.5,969.9L855.5,970.3L858.5,970.3L859.5,969.7L862.5,969.7L863.5,970.1L874.5,970.1L875.5,969.7L878.5,969.7L879.5,970.2L882.5,970.2L883.5,970.1L886.5,970.1L887.5,970L890.5,970L891.5,970.1L894.5,970.1L895.5,969.8L898.5,969.8L899.5,970.3L906.5,970.3L907.5,969.9L910.5,969.9L911.5,970.2L914.5,970.2L915.5,970.3L918.5,970.3L919.5,969.8L922.5,969.8L923.5,970L926.5,970L927.5,970.3L930.5,970.3L931.5,970L934.5,970L935.5,970.2L938.5,970.2L939.5,970.3L950.5,970.3L951.5,970L952.5,969.2L953.5,968.6L954.5,968.5L955.5,968.5L956.5,968.6L957.5,969.2L958.5,970L959.5,970.2L962.5,970.2L963.5,970.3L966.5,970.3L967.5,970.1L970.5,970.1L971.5,969.9L978.5,969.9L979.5,970L982.5,970L983.5,969.8L986.5,969.8L987.5,970.3L994.5,970.3L995.5,969.8L998.5,969.8L999.5,970.3L1000.5,970.1L1001.5,969.4L1002.5,968.9L1003.5,968.8L1004.5,968.8L1005.5,968.9L1006.5,969.4L1007.5,969.9L1014.5,969.9L1015.5,969.2L1016.5,966.4L1017.5,965.3L1018.5,965.2L1019.5,965.5L1020.5,967.5L1021.5,970L1022.5,970.3L1023.5,970L1026.5,970L1027.5,969.7L1030.5,969.7L1031.5,970.2L1036.5,970.2L1037.5,958.7L1038.5,931.1L1039.5,928.7L1040.5,928.7L1041.5,931.1L1042.5,958.7L1043.5,970.3L1046.5,970.3L1047.5,970.1L1050.5,970.1L1051.5,969.9L1052.5,969.6L1053.5,969.3L1054.5,969.1L1055.5,968.9L1056.5,968.9L1058.5,968.8L1063.5,968.9L1064.5,968.9L1065.5,969.1L1066.5,969.3L1067.5,969.6L1068.5,969.9L1069.5,970.1L1070.5,970.2L1074.5,970.2L1075.5,970.2L1078.5,970.2L1079.5,970.2L1082.5,970.2L1083.5,970.1L1086.5,970.1L1087.5,970L1090.5,970L1091.5,970.3L1095,970.3Z" fill="#555555" stroke="#474747" stroke-width="0.9" stroke-linejoin="round"/>
<line x1="167.5" y1="970.3" x2="1095" y2="970.3" stroke="#555555" stroke-width="2.2" />
<path d="M167.5,1018.7L167.5,1018.6L170.5,1018.6L171.5,1018.5L174.5,1018.5L175.5,1018.7L182.5,1018.7L183.5,1018.5L186.5,1018.5L187.5,1018.6L190.5,1018.6L191.5,1018.7L210.5,1018.7L211.5,1018.4L214.5,1018.4L215.5,1018.7L218.5,1018.7L219.5,1018.6L222.5,1018.6L223.5,1018.3L226.5,1018.3L227.5,1018.7L234.5,1018.7L235.5,1018.6L242.5,1018.5L243.5,1018.7L250.5,1018.6L251.5,1018.6L254.5,1018.6L255.5,1018.7L258.5,1018.7L259.5,1018.5L262.5,1018.5L263.5,1018.3L266.5,1018.3L267.5,1018.7L270.5,1018.7L271.5,1018.5L274.5,1018.5L275.5,1018.7L282.5,1018.7L283.5,1018.4L286.5,1018.4L287.5,1018.7L290.5,1018.7L291.5,1018.6L303.5,1018.7L326.5,1018.7L327.5,1018.6L334.5,1018.6L335.5,1018.7L342.5,1018.7L343.5,1018.5L346.5,1018.5L347.5,1018.7L350.5,1018.7L351.5,1018.5L354.5,1018.5L355.5,1018.7L362.5,1018.7L363.5,1018.3L366.5,1018.3L367.5,1018.6L370.5,1018.6L371.5,1018.7L374.5,1018.7L375.5,1018.4L378.5,1018.4L379.5,1018.7L382.5,1018.7L383.5,1018.6L386.5,1018.6L387.5,1018.7L390.5,1018.7L391.5,1018.4L394.5,1018.4L395.5,1018.7L402.5,1018.7L403.5,1018.6L406.5,1018.6L407.5,1018.5L410.5,1018.5L411.5,1018.7L414.5,1018.7L415.5,1018.5L418.5,1018.5L419.5,1018.7L422.5,1018.7L423.5,1018.6L431.5,1018.6L434.5,1018.6L435.5,1018.4L438.5,1018.4L439.5,1018.5L442.5,1018.5L443.5,1018.6L446.5,1018.6L447.5,1018.5L450.5,1018.5L451.5,1018.7L454.5,1018.7L455.5,1018.5L458.5,1018.5L459.5,1018.7L462.5,1018.7L463.5,1018.4L470.5,1018.4L471.5,1018.6L474.5,1018.6L475.5,1018.7L482.5,1018.7L483.5,1018.4L486.5,1018.4L487.5,1018.6L490.5,1018.6L491.5,1018.7L494.5,1018.7L495.5,1018.5L498.5,1018.5L499.5,1018.7L514.5,1018.7L515.5,1018.5L518.5,1018.5L519.5,1018.4L522.5,1018.4L523.5,1018.7L526.5,1018.7L527.5,1018.6L530.5,1018.6L531.5,1018.5L534.5,1018.5L535.5,1018.7L538.5,1018.7L539.5,1018.3L542.5,1018.3L543.5,1018.7L554.5,1018.7L555.5,1018.6L556.5,1018.5L557.5,1018L558.5,1017.7L559.5,1017.6L560.5,1017.6L561.5,1017.7L562.5,1018L563.5,1018.5L566.5,1018.6L567.5,1018.7L570.5,1018.7L571.5,1018.4L574.5,1018.4L575.5,1018.7L578.5,1018.7L579.5,1018.5L582.5,1018.5L583.5,1018.5L586.5,1018.5L587.5,1018.3L590.5,1018.3L591.5,1018.5L598.5,1018.5L599.5,1018.6L602.5,1018.6L603.5,1018.7L614.5,1018.7L615.5,1018.5L618.5,1018.5L619.5,1018.4L622.5,1018.4L623.5,1018.6L626.5,1018.6L627.5,1018.4L630.5,1018.4L631.5,1018.7L634.5,1018.7L635.5,1018.4L642.5,1018.5L643.5,1018.6L646.5,1018.6L647.5,1018.6L654.5,1018.7L655.5,1018.5L658.5,1018.5L659.5,1018.7L662.5,1018.7L663.5,1018.3L666.5,1018.3L667.5,1018.7L670.5,1018.7L671.5,1018.4L674.5,1018.4L675.5,1018.7L682.5,1018.7L683.5,1018.4L686.5,1018.4L687.5,1018.7L710.5,1018.7L711.5,1018.4L714.5,1018.4L715.5,1018.7L718.5,1018.7L719.5,1018.6L726.5,1018.6L727.5,1018.5L730.5,1018.5L731.5,1018.6L738.5,1018.6L739.5,1018.6L742.5,1018.6L743.5,1018.5L746.5,1018.5L747.5,1018.4L750.5,1018.4L751.5,1018.4L754.5,1018.4L755.5,1018.3L758.5,1018.3L759.5,1018.6L762.5,1018.6L763.5,1018.6L766.5,1018.6L767.5,1018.4L770.5,1018.4L771.5,1018.7L786.5,1018.7L787.5,1018.6L790.5,1018.6L791.5,1018.3L796.5,1018.3L797.5,1018.1L798.5,1017.8L799.5,1017.7L800.5,1017.7L801.5,1017.8L802.5,1018.1L803.5,1018.5L804.5,1018.6L806.5,1018.6L807.5,1018.5L810.5,1018.5L811.5,1018.6L814.5,1018.6L815.5,1018.7L818.5,1018.7L819.5,1018.6L822.5,1018.6L823.5,1018.3L830.5,1018.4L831.5,1018.7L834.5,1018.7L835.5,1018.6L838.5,1018.6L839.5,1018.7L842.5,1018.7L843.5,1018.6L846.5,1018.6L847.5,1018.4L850.5,1018.4L851.5,1018.7L854.5,1018.7L855.5,1018.4L858.5,1018.4L859.5,1018.6L862.5,1018.6L863.5,1018.6L866.5,1018.6L867.5,1018.7L878.5,1018.7L879.5,1018.3L882.5,1018.3L883.5,1018.7L890.5,1018.7L891.5,1018.6L902.5,1018.6L903.5,1018.7L906.5,1018.7L907.5,1018.3L910.5,1018.3L911.5,1018.6L914.5,1018.6L915.5,1018.7L926.5,1018.7L927.5,1018.4L930.5,1018.4L931.5,1018.7L938.5,1018.6L939.5,1018.5L946.5,1018.5L947.5,1018.7L950.5,1018.7L951.5,1018.3L954.5,1018.3L955.5,1018.7L966.5,1018.7L967.5,1018.6L974.5,1018.6L975.5,1018.3L982.5,1018.4L983.5,1018.6L986.5,1018.6L987.5,1018.5L990.5,1018.5L991.5,1018.7L994.5,1018.7L995.5,1018.5L1006.5,1018.5L1007.5,1018.7L1010.5,1018.7L1011.5,1018.4L1014.5,1018.4L1015.5,1018.6L1018.5,1018.6L1019.5,1018.4L1026.5,1018.4L1027.5,1018.7L1035.5,1018.7L1036.5,1018.2L1037.5,1016.7L1038.5,1015.7L1039.5,1015.5L1040.5,1015.5L1041.5,1015.7L1042.5,1016.7L1043.5,1018.2L1044.5,1018.7L1050.5,1018.7L1051.5,1018.6L1054.5,1018.6L1055.5,1018.7L1058.5,1018.7L1059.5,1018.4L1062.5,1018.4L1063.5,1018.4L1066.5,1018.4L1067.5,1018.7L1070.5,1018.7L1071.5,1018.4L1074.5,1018.4L1075.5,1018.6L1078.5,1018.6L1079.5,1018.7L1082.5,1018.7L1083.5,1018.4L1086.5,1018.4L1087.5,1018.6L1090.5,1018.6L1091.5,1018.4L1094.5,1018.4L1095,1018.7Z" fill="#555555" stroke="#474747" stroke-width="0.9" stroke-linejoin="round"/>
<line x1="167.5" y1="1018.7" x2="1095" y2="1018.7" stroke="#555555" stroke-width="2.2" />
<path d="M167.5,1067.7L170.5,1067.7L171.5,1067.4L174.5,1067.4L175.5,1067.7L182.5,1067.7L183.5,1067.3L186.5,1067.3L187.5,1067.5L190.5,1067.5L191.5,1067.6L194.5,1067.6L195.5,1067.2L198.5,1067.2L199.5,1067.7L206.5,1067.7L207.5,1067.2L214.5,1067.2L215.5,1067L218.5,1067L219.5,1067.7L222.5,1067.7L223.5,1067.5L226.5,1067.5L227.5,1067.5L230.5,1067.5L231.5,1067.6L238.5,1067.6L239.5,1067.2L242.5,1067.2L243.5,1066.9L246.5,1066.9L247.5,1067.5L250.5,1067.5L251.5,1067.7L254.5,1067.7L255.5,1067.6L258.5,1067.6L259.5,1067.7L266.5,1067.7L267.5,1067.4L270.5,1067.4L271.5,1067.7L286.5,1067.7L287.5,1067L290.5,1067L291.5,1067.3L294.5,1067.3L295.5,1067.7L298.5,1067.7L299.5,1067.2L302.5,1067.2L303.5,1067.4L306.5,1067.4L307.5,1067.6L310.5,1067.6L311.5,1067.1L314.5,1067.1L315.5,1067.7L318.5,1067.7L319.5,1067.6L322.5,1067.6L323.5,1067.7L326.5,1067.7L327.5,1067.4L330.5,1067.4L331.5,1067.7L334.5,1067.7L335.5,1067.5L338.5,1067.5L339.5,1067.6L346.5,1067.6L347.5,1067.7L358.5,1067.7L359.5,1067.5L362.5,1067.5L363.5,1067.7L366.5,1067.7L367.5,1067.6L370.5,1067.6L371.5,1067.7L386.5,1067.7L387.5,1067.6L390.5,1067.6L391.5,1067.7L394.5,1067.7L395.5,1067.5L402.5,1067.5L403.5,1067.4L406.5,1067.4L407.5,1067.7L410.5,1067.7L411.5,1067L414.5,1067L415.5,1067.7L418.5,1067.7L419.5,1067.1L422.5,1067.1L423.5,1067.5L426.5,1067.5L427.5,1067.7L442.5,1067.7L443.5,1067.4L446.5,1067.4L447.5,1067.2L450.5,1067.2L451.5,1067.5L454.5,1067.5L455.5,1067.6L458.5,1067.6L459.5,1067.6L462.5,1067.6L463.5,1067.1L466.5,1067.1L467.5,1067.2L470.5,1067.2L471.5,1067.6L474.5,1067.6L475.5,1067.7L478.5,1067.7L479.5,1067.6L482.5,1067.6L483.5,1067.1L486.5,1067.1L487.5,1067.7L494.5,1067.7L495.5,1067.6L498.5,1067.6L499.5,1067.5L502.5,1067.5L503.5,1067.7L506.5,1067.7L507.5,1067.1L510.5,1067.1L511.5,1067.5L514.5,1067.5L515.5,1067.6L518.5,1067.6L519.5,1067.7L522.5,1067.7L523.5,1067.4L526.5,1067.4L527.5,1067.5L530.5,1067.5L531.5,1067.6L534.5,1067.6L535.5,1067.4L538.5,1067.4L539.5,1067.1L542.5,1067.1L543.5,1067.7L546.5,1067.7L547.5,1067.2L550.5,1067.2L551.5,1067.6L558.5,1067.6L559.5,1067.7L562.5,1067.7L563.5,1067.3L570.5,1067.3L571.5,1066.9L574.5,1066.9L575.5,1067.6L578.5,1067.6L579.5,1067.2L582.5,1067.2L583.5,1067.6L590.5,1067.7L591.5,1066.9L594.5,1066.9L595.5,1067.7L598.5,1067.7L599.5,1067.6L602.5,1067.6L603.5,1067.7L606.5,1067.7L607.5,1067.6L614.5,1067.7L615.5,1067.1L618.5,1067.1L619.5,1066.9L622.5,1066.9L623.5,1067.5L630.5,1067.6L631.5,1067.5L634.5,1067.5L635.5,1067.6L638.5,1067.6L639.5,1067.7L650.5,1067.7L651.5,1067.5L654.5,1067.5L655.5,1067.1L658.5,1067.1L659.5,1067.5L662.5,1067.5L663.5,1067.7L666.5,1067.7L667.5,1067.4L670.5,1067.4L671.5,1067L674.5,1067L675.5,1067.1L682.5,1067.2L683.5,1067.7L686.5,1067.7L687.5,1067L690.5,1067L691.5,1067.5L694.5,1067.5L695.5,1067.7L702.5,1067.7L703.5,1067.3L706.5,1067.3L707.5,1067.7L710.5,1067.7L711.5,1067.3L714.5,1067.3L715.5,1067L718.5,1067L719.5,1067.7L722.5,1067.7L723.5,1067L726.5,1067L727.5,1067.2L730.5,1067.2L731.5,1067.3L734.5,1067.3L735.5,1067.4L738.5,1067.4L739.5,1067.7L742.5,1067.7L743.5,1067.4L750.5,1067.4L751.5,1067.5L754.5,1067.5L755.5,1067.1L758.5,1067.1L759.5,1067.2L762.5,1067.2L763.5,1067.5L766.5,1067.5L767.5,1067L774.5,1067L775.5,1067.4L782.5,1067.4L783.5,1067.7L786.5,1067.7L787.5,1067.6L790.5,1067.6L791.5,1067.2L794.5,1067.2L795.5,1067.6L798.5,1067.6L799.5,1067.5L802.5,1067.5L803.5,1067.7L811.5,1067.6L822.5,1067.6L823.5,1066.9L826.5,1066.9L827.5,1067.7L846.5,1067.7L847.5,1067.5L850.5,1067.5L851.5,1067.4L858.5,1067.3L859.5,1067.1L862.5,1067.1L863.5,1067.7L866.5,1067.7L867.5,1067.5L870.5,1067.5L871.5,1067.2L874.5,1067.2L875.5,1067.3L878.5,1067.3L879.5,1067.6L882.5,1067.6L883.5,1067.7L886.5,1067.7L887.5,1067.5L890.5,1067.5L891.5,1067.7L902.5,1067.7L903.5,1067L906.5,1067L907.5,1067.2L910.5,1067.2L911.5,1067.6L914.5,1067.6L915.5,1067.6L918.5,1067.6L919.5,1067.3L922.5,1067.3L923.5,1067.6L926.5,1067.6L927.5,1067.7L930.5,1067.7L931.5,1067.6L934.5,1067.6L935.5,1067.1L938.5,1067.1L939.5,1067.7L942.5,1067.7L943.5,1067.2L946.5,1067.2L947.5,1067.6L950.5,1067.6L951.5,1067.7L958.5,1067.7L959.5,1067.1L962.5,1067.1L963.5,1067.6L966.5,1067.6L967.5,1067.3L974.5,1067.3L975.5,1067.4L978.5,1067.4L979.5,1067.2L986.5,1067.2L987.5,1067.5L990.5,1067.5L991.5,1067.4L994.5,1067.4L995.5,1067.7L998.5,1067.7L999.5,1067.6L1006.5,1067.6L1007.5,1067.6L1010.5,1067.6L1011.5,1067.4L1014.5,1067.4L1015.5,1067.2L1018.5,1067.2L1019.5,1067.5L1022.5,1067.5L1023.5,1067.3L1026.5,1067.3L1027.5,1067.1L1030.5,1067.1L1031.5,1067.5L1034.5,1067.5L1035.5,1067.7L1036.5,1067.7L1037.5,1064.6L1038.5,1057.1L1039.5,1056.5L1040.5,1056.5L1041.5,1057.1L1042.5,1064.6L1043.5,1067.7L1046.5,1067.7L1047.5,1067.3L1050.5,1067.3L1051.5,1067.1L1054.5,1067.1L1055.5,1067.2L1058.5,1067.2L1059.5,1067.5L1062.5,1067.5L1063.5,1067.6L1066.5,1067.6L1067.5,1067.3L1070.5,1067.3L1071.5,1067.6L1074.5,1067.6L1075.5,1067.3L1082.5,1067.3L1083.5,1067.6L1086.5,1067.6L1087.5,1067.7L1095,1067.7Z" fill="#960606" stroke="#7a0808" stroke-width="0.9" stroke-linejoin="round"/>
<line x1="167.5" y1="1067.7" x2="1095" y2="1067.7" stroke="#960606" stroke-width="2.4" />
<path d="M167.5,1117.3L170.5,1117.3L171.5,1117.1L174.5,1117.1L175.5,1117.3L178.5,1117.3L179.5,1117L182.5,1117L183.5,1117.3L190.5,1117.2L191.5,1117.3L194.5,1117.3L195.5,1116.8L198.5,1116.8L199.5,1117.3L202.5,1117.3L203.5,1117.1L206.5,1117.1L207.5,1117.1L210.5,1117.1L211.5,1117.3L222.5,1117.3L223.5,1116.7L230.5,1116.7L231.5,1117.1L234.5,1117.1L235.5,1117L238.5,1117L239.5,1117.1L242.5,1117.1L243.5,1117.3L246.5,1117.3L247.5,1116.9L250.5,1116.9L251.5,1117.3L258.5,1117.3L259.5,1117.2L262.5,1117.2L263.5,1116.9L266.5,1116.9L267.5,1117.3L270.5,1117.3L271.5,1117L274.5,1117L275.5,1117.2L290.5,1117.2L291.5,1117.1L294.5,1117.1L295.5,1117.2L298.5,1117.2L299.5,1116.9L302.5,1116.9L303.5,1117.3L306.5,1117.3L307.5,1117L310.5,1117L311.5,1117.3L314.5,1117.3L315.5,1116.8L318.5,1116.8L319.5,1117.2L322.5,1117.2L323.5,1116.8L326.5,1116.8L327.5,1117.3L330.5,1117.3L331.5,1117.1L334.5,1117.1L335.5,1117.3L342.5,1117.3L343.5,1116.7L346.5,1116.7L347.5,1117.3L354.5,1117.2L355.5,1117.3L362.5,1117.3L363.5,1116.9L366.5,1116.9L367.5,1117.3L370.5,1117.3L371.5,1116.8L374.5,1116.8L375.5,1117L378.5,1117L379.5,1117.1L382.5,1117.1L383.5,1116.8L386.5,1116.8L387.5,1117.2L390.5,1117.2L391.5,1117.2L394.5,1117.2L395.5,1116.8L398.5,1116.8L399.5,1117L402.5,1117L403.5,1116.8L406.5,1116.8L407.5,1117.3L410.5,1117.3L411.5,1117.2L414.5,1117.2L415.5,1117.3L426.5,1117.3L427.5,1117.2L435.5,1117.3L438.5,1117.3L439.5,1117.2L442.5,1117.2L443.5,1117.3L446.5,1117.3L447.5,1117L455.5,1117.1L458.5,1117.1L459.5,1117.2L462.5,1117.2L463.5,1117.1L466.5,1117.1L467.5,1117.3L474.5,1117.3L475.5,1116.8L478.5,1116.8L479.5,1117.3L482.5,1117.3L483.5,1116.8L486.5,1116.8L487.5,1117.3L490.5,1117.3L491.5,1117.2L494.5,1117.2L495.5,1116.9L498.5,1116.9L499.5,1116.8L502.5,1116.8L503.5,1116.9L506.5,1116.9L507.5,1117.3L510.5,1117.3L511.5,1117.1L514.5,1117.1L515.5,1117.2L522.5,1117.2L523.5,1117.3L530.5,1117.3L531.5,1117.1L534.5,1117.1L535.5,1116.7L542.5,1116.7L543.5,1116.8L546.5,1116.8L547.5,1117.2L554.5,1117.2L555.5,1117.3L558.5,1117.3L559.5,1116.8L562.5,1116.8L563.5,1117L566.5,1117L567.5,1117.2L574.5,1117.2L575.5,1117.3L578.5,1117.3L579.5,1117.1L582.5,1117.1L583.5,1117.2L586.5,1117.2L587.5,1116.7L590.5,1116.7L591.5,1117.3L594.5,1117.3L595.5,1116.9L598.5,1116.9L599.5,1117.2L602.5,1117.2L603.5,1117.3L610.5,1117.3L611.5,1116.9L614.5,1116.9L615.5,1117.3L618.5,1117.3L619.5,1117.1L622.5,1117.1L623.5,1117L630.5,1117.1L631.5,1117.2L634.5,1117.2L635.5,1117L642.5,1117L643.5,1117.2L654.5,1117.2L655.5,1117.2L658.5,1117.2L659.5,1116.9L662.5,1116.9L663.5,1117.3L674.5,1117.3L675.5,1117.1L686.5,1117.2L687.5,1117.2L690.5,1117.2L691.5,1117.3L702.5,1117.3L703.5,1117.1L706.5,1117.1L707.5,1117.3L710.5,1117.3L711.5,1117.2L714.5,1117.2L715.5,1117.2L718.5,1117.2L719.5,1116.9L722.5,1116.9L723.5,1117.2L726.5,1117.2L727.5,1116.7L730.5,1116.7L731.5,1117.3L734.5,1117.3L735.5,1116.8L738.5,1116.8L739.5,1117.3L750.5,1117.3L751.5,1117.1L754.5,1117.1L755.5,1117L762.5,1117L763.5,1117.3L766.5,1117.3L767.5,1116.9L770.5,1116.9L771.5,1117.1L778.5,1117.1L779.5,1117.2L782.5,1117.2L783.5,1117.3L786.5,1117.3L787.5,1117.1L790.5,1117.1L791.5,1117.3L806.5,1117.3L807.5,1117.2L810.5,1117.2L811.5,1117.3L814.5,1117.3L815.5,1116.7L818.5,1116.7L819.5,1116.8L822.5,1116.8L823.5,1117.3L826.5,1117.3L827.5,1116.7L830.5,1116.7L831.5,1117.1L834.5,1117.1L835.5,1117.2L838.5,1117.2L839.5,1117.3L845.5,1117.3L846.5,1117.1L847.5,1116.4L848.5,1115.9L849.5,1115.8L850.5,1115.8L851.5,1115.9L852.5,1116.4L853.5,1116.8L854.5,1116.8L855.5,1117.2L858.5,1117.2L859.5,1116.7L862.5,1116.7L863.5,1117.2L866.5,1117.2L867.5,1117.1L870.5,1117.1L871.5,1117L874.5,1117L875.5,1117.3L878.5,1117.3L879.5,1117.1L882.5,1117.1L883.5,1117.3L890.5,1117.3L891.5,1116.8L894.5,1116.8L895.5,1117.3L910.5,1117.3L911.5,1117.1L914.5,1117.1L915.5,1116.8L918.5,1116.8L919.5,1117.3L926.5,1117.3L927.5,1116.9L934.5,1116.9L935.5,1117.2L942.5,1117.2L943.5,1117.3L946.5,1117.3L947.5,1117.2L950.5,1117.2L951.5,1117.1L954.5,1117.1L955.5,1116.8L958.5,1116.8L959.5,1117.2L962.5,1117.2L963.5,1117.3L966.5,1117.3L967.5,1117.1L970.5,1117.1L971.5,1116.7L974.5,1116.7L975.5,1117.2L982.5,1117.3L983.5,1116.9L986.5,1116.9L987.5,1117.2L990.5,1117.2L991.5,1116.8L994.5,1116.8L995.5,1117.2L1006.5,1117.2L1007.5,1117L1010.5,1117L1011.5,1117.2L1014.5,1117.2L1015.5,1116.6L1016.5,1115.7L1017.5,1115.5L1018.5,1115.5L1019.5,1115.7L1020.5,1116.6L1021.5,1117.2L1022.5,1117.2L1023.5,1116.8L1026.5,1116.8L1027.5,1117L1030.5,1117L1031.5,1117.2L1034.5,1117.2L1035.5,1117.2L1036.5,1117.2L1037.5,1100.9L1038.5,1082.5L1039.5,1081.2L1040.5,1081.2L1041.5,1082.5L1042.5,1100.9L1043.5,1117.2L1044.5,1117.3L1050.5,1117.3L1051.5,1117L1054.5,1117L1055.5,1116.8L1058.5,1116.8L1059.5,1117.3L1066.5,1117.3L1067.5,1116.8L1070.5,1116.8L1071.5,1117.1L1074.5,1117.1L1075.5,1117.3L1086.5,1117.3L1087.5,1117.2L1090.5,1117.2L1091.5,1116.9L1094.5,1116.9L1095,1117.3Z" fill="#960606" stroke="#7a0808" stroke-width="0.9" stroke-linejoin="round"/>
<line x1="167.5" y1="1117.3" x2="1095" y2="1117.3" stroke="#960606" stroke-width="2.4" />
<path d="M167.5,1166.1L167.5,1164.5L170.5,1164.5L171.5,1165.1L174.5,1165.1L175.5,1164.4L178.5,1164.4L179.5,1164.8L182.5,1164.8L183.5,1164.8L186.5,1164.8L187.5,1165.8L190.5,1165.8L191.5,1165.2L194.5,1165.2L195.5,1165.8L198.5,1165.8L199.5,1164.8L202.5,1164.8L203.5,1165L206.5,1165L207.5,1164.6L210.5,1164.6L211.5,1165.8L214.5,1165.8L215.5,1165.7L218.5,1165.7L219.5,1165.5L226.5,1165.5L227.5,1165.3L230.5,1165.3L231.5,1164.8L234.5,1164.8L235.5,1165.6L238.5,1165.6L239.5,1165.9L246.5,1165.9L247.5,1165.2L250.5,1165.2L251.5,1165.8L254.5,1165.8L255.5,1164.7L258.5,1164.7L259.5,1165.9L262.5,1165.9L263.5,1165.6L266.5,1165.6L267.5,1165.5L270.5,1165.5L271.5,1165.6L274.5,1165.6L275.5,1164.6L278.5,1164.6L279.5,1165.8L282.5,1165.8L283.5,1164.9L286.5,1164.9L287.5,1164.7L290.5,1164.7L291.5,1165.7L294.5,1165.7L295.5,1164.7L298.5,1164.7L299.5,1165.6L306.5,1165.6L307.5,1164.9L310.5,1164.9L311.5,1165.1L314.5,1165.1L315.5,1165.9L318.5,1165.9L319.5,1164.6L322.5,1164.6L323.5,1165.6L326.5,1165.6L327.5,1164.5L330.5,1164.5L331.5,1165.9L334.5,1165.9L335.5,1165.5L338.5,1165.5L339.5,1165L342.5,1165L343.5,1165.2L346.5,1165.2L347.5,1165.9L350.5,1165.9L351.5,1165.8L358.5,1165.7L359.5,1165.4L366.5,1165.4L367.5,1164.9L370.5,1164.9L371.5,1164.7L374.5,1164.7L375.5,1165.9L378.5,1165.9L379.5,1165.8L382.5,1165.8L383.5,1165.5L386.5,1165.5L387.5,1165.8L390.5,1165.8L391.5,1165.8L394.5,1165.8L395.5,1165.2L398.5,1165.2L399.5,1165.8L402.5,1165.8L403.5,1165.2L406.5,1165.2L407.5,1165.9L410.5,1165.9L411.5,1164.8L414.5,1164.8L415.5,1165.9L418.5,1165.9L419.5,1165.5L422.5,1165.5L423.5,1164.7L426.5,1164.7L427.5,1165.9L430.5,1165.9L431.5,1165.1L434.5,1165.1L435.5,1165.6L438.5,1165.6L439.5,1165.7L442.5,1165.7L443.5,1165.9L450.5,1165.9L451.5,1164.9L454.5,1164.9L455.5,1165.4L458.5,1165.4L459.5,1165.1L462.5,1165.1L463.5,1165.8L466.5,1165.8L467.5,1165.5L474.5,1165.5L475.5,1165.9L478.5,1165.9L479.5,1165L482.5,1165L483.5,1164.8L486.5,1164.8L487.5,1165.3L490.5,1165.3L491.5,1165.8L498.5,1165.8L499.5,1165.9L502.5,1165.9L503.5,1165.2L506.5,1165.2L507.5,1165.9L514.5,1165.9L515.5,1165L518.5,1165L519.5,1165.5L522.5,1165.5L523.5,1165.8L526.5,1165.8L527.5,1164.8L530.5,1164.8L531.5,1165.7L534.5,1165.7L535.5,1164.8L538.5,1164.8L539.5,1165.5L540.5,1165.5L541.5,1165.3L542.5,1164.8L543.5,1164.6L546.5,1164.6L547.5,1164.8L548.5,1165.3L549.5,1165.6L554.5,1165.7L555.5,1164.6L558.5,1164.6L559.5,1165.8L562.5,1165.8L563.5,1165.9L566.5,1165.9L567.5,1164.7L570.5,1164.7L571.5,1165.3L574.5,1165.3L575.5,1165.4L578.5,1165.4L579.5,1165.9L582.5,1165.9L583.5,1165.6L586.5,1165.6L587.5,1165.7L594.5,1165.7L595.5,1165.1L598.5,1165.1L599.5,1164.5L602.5,1164.5L603.5,1165.6L606.5,1165.6L607.5,1165.5L610.5,1165.5L611.5,1165.8L614.5,1165.8L615.5,1165.1L618.5,1165.1L619.5,1165.3L626.5,1165.3L627.5,1164.8L630.5,1164.8L631.5,1165.9L634.5,1165.9L635.5,1164.7L642.5,1164.8L643.5,1165.8L646.5,1165.8L647.5,1164.6L650.5,1164.6L651.5,1165.3L654.5,1165.3L655.5,1165.9L658.5,1165.9L659.5,1164.4L662.5,1164.4L663.5,1165L666.5,1165L667.5,1165.7L670.5,1165.7L671.5,1164.9L674.5,1164.9L675.5,1165.6L678.5,1165.6L679.5,1165.7L682.5,1165.7L683.5,1164.8L686.5,1164.8L687.5,1164.9L688.5,1164.8L690.5,1164.8L691.5,1164.5L694.5,1164.5L695.5,1165.3L698.5,1165.3L699.5,1165.9L702.5,1165.9L703.5,1165.3L710.5,1165.3L711.5,1165.2L714.5,1165.2L715.5,1165.8L726.5,1165.9L727.5,1165L730.5,1165L731.5,1165.9L734.5,1165.9L735.5,1165.3L738.5,1165.3L739.5,1165.5L742.5,1165.5L743.5,1165.1L746.5,1165.1L747.5,1164.9L748.5,1164.8L751.5,1164.8L752.5,1164.9L753.5,1165L754.5,1165L755.5,1165.1L758.5,1165.1L759.5,1165.7L762.5,1165.7L763.5,1165.5L766.5,1165.5L767.5,1165.4L770.5,1165.4L771.5,1165.7L774.5,1165.7L775.5,1164.6L778.5,1164.6L779.5,1165.9L782.5,1165.9L783.5,1164.7L786.5,1164.7L787.5,1165.3L790.5,1165.3L791.5,1165.9L794.5,1165.9L795.5,1165.7L798.5,1165.7L799.5,1162.7L800.5,1145.8L801.5,1142.5L802.5,1142.5L803.5,1142.6L804.5,1148.2L805.5,1164.8L806.5,1165.7L807.5,1165L810.5,1165L811.5,1165.9L814.5,1165.9L815.5,1164.9L818.5,1164.9L819.5,1165.9L822.5,1165.9L823.5,1164.6L830.5,1164.5L831.5,1165.6L834.5,1165.6L835.5,1165.4L838.5,1165.4L839.5,1165.6L842.5,1165.6L843.5,1165.3L846.5,1165.3L847.5,1165.7L850.5,1165.7L851.5,1165.2L854.5,1165.2L855.5,1164.5L858.5,1164.5L859.5,1164.9L862.5,1164.9L863.5,1165.6L866.5,1165.6L867.5,1165L870.5,1165L871.5,1164.6L874.5,1164.6L875.5,1165.8L878.5,1165.8L879.5,1165.1L882.5,1165.1L883.5,1165.9L891.5,1165.8L894.5,1165.8L895.5,1165.1L898.5,1165.1L899.5,1165.4L902.5,1165.4L903.5,1165.7L906.5,1165.7L907.5,1165.3L910.5,1165.3L911.5,1165.1L914.5,1165.1L915.5,1165.9L918.5,1165.9L919.5,1164.6L922.5,1164.6L923.5,1165.7L926.5,1165.7L927.5,1165.9L930.5,1165.9L931.5,1165.7L934.5,1165.7L935.5,1165.6L938.5,1165.6L939.5,1165.9L942.5,1165.9L943.5,1165.3L946.5,1165.3L947.5,1164.4L950.5,1164.4L951.5,1165.7L958.5,1165.8L959.5,1164.8L962.5,1164.8L963.5,1165.5L966.5,1165.5L967.5,1165.6L970.5,1165.6L971.5,1165.3L974.5,1165.3L975.5,1165.9L978.5,1165.9L979.5,1165.2L982.5,1165.2L983.5,1165.4L986.5,1165.4L987.5,1165.3L990.5,1165.3L991.5,1165.7L994.5,1165.7L995.5,1165.8L1002.5,1165.8L1003.5,1165.9L1007.5,1165.9L1008.5,1165.7L1009.5,1165.3L1010.5,1164.9L1011.5,1164.7L1012.5,1164.5L1017.5,1164.5L1018.5,1164.7L1019.5,1164.9L1020.5,1165.3L1021.5,1165.7L1022.5,1165.7L1023.5,1165.9L1026.5,1165.9L1027.5,1165.3L1030.5,1165.3L1031.5,1164.8L1032.5,1164.2L1033.5,1163.8L1034.5,1163.5L1035.5,1163.3L1036.5,1163.2L1041.5,1163.2L1042.5,1163.3L1043.5,1163.5L1044.5,1163.8L1045.5,1164.2L1046.5,1164.8L1047.5,1165.3L1048.5,1165.5L1050.5,1165.5L1051.5,1165.2L1054.5,1165.2L1055.5,1164.7L1058.5,1164.7L1059.5,1165.9L1062.5,1165.9L1063.5,1165.8L1066.5,1165.8L1067.5,1165.7L1070.5,1165.7L1071.5,1165.4L1074.5,1165.4L1075.5,1165.9L1078.5,1165.9L1079.5,1165.7L1082.5,1165.7L1083.5,1165.6L1090.5,1165.5L1091.5,1164.6L1094.5,1164.6L1095,1166.1Z" fill="#0c660c" stroke="#075007" stroke-width="0.9" stroke-linejoin="round"/>
<line x1="167.5" y1="1166.1" x2="1095" y2="1166.1" stroke="#0c660c" stroke-width="2.4" />
<path d="M167.5,1214.1L167.5,1213.7L170.5,1213.7L171.5,1213.7L178.5,1213.7L179.5,1213.8L182.5,1213.8L183.5,1213.9L186.5,1213.9L187.5,1213.8L190.5,1213.8L191.5,1213.1L194.5,1213.1L195.5,1212.9L198.5,1212.9L199.5,1213.8L202.5,1213.8L203.5,1212.9L206.5,1212.9L207.5,1213.9L210.5,1213.9L211.5,1213.3L214.5,1213.3L215.5,1213.8L222.5,1213.8L223.5,1213.7L226.5,1213.7L227.5,1213.3L230.5,1213.3L231.5,1213.8L234.5,1213.8L235.5,1212.4L238.5,1212.4L239.5,1212.9L242.5,1212.9L243.5,1213.8L246.5,1213.8L247.5,1213.8L250.5,1213.8L251.5,1213.9L254.5,1213.9L255.5,1213.1L258.5,1213.1L259.5,1212.8L262.5,1212.8L263.5,1212.6L266.5,1212.6L267.5,1212.9L270.5,1212.9L271.5,1213.4L274.5,1213.4L275.5,1213.9L278.5,1213.9L279.5,1213.8L282.5,1213.8L283.5,1213.7L286.5,1213.7L287.5,1213.3L290.5,1213.3L291.5,1213.8L294.5,1213.8L295.5,1212.5L298.5,1212.5L299.5,1213.3L302.5,1213.3L303.5,1213.8L306.5,1213.8L307.5,1213.9L314.5,1213.9L315.5,1212.6L318.5,1212.6L319.5,1213.2L322.5,1213.2L323.5,1213L326.5,1213L327.5,1213.3L330.5,1213.3L331.5,1213.9L334.5,1213.9L335.5,1213.5L338.5,1213.5L339.5,1213.9L342.5,1213.9L343.5,1213.7L346.5,1213.7L347.5,1213.6L354.5,1213.6L355.5,1213.9L358.5,1213.9L359.5,1213.2L362.5,1213.2L363.5,1213.5L366.5,1213.5L367.5,1213.8L374.5,1213.9L375.5,1213.6L378.5,1213.6L379.5,1213.8L382.5,1213.8L383.5,1212.7L386.5,1212.7L387.5,1213.8L390.5,1213.8L391.5,1213.2L394.5,1213.2L395.5,1212.8L398.5,1212.8L399.5,1213.7L402.5,1213.7L403.5,1213.8L406.5,1213.8L407.5,1213.9L410.5,1213.9L411.5,1212.3L414.5,1212.3L415.5,1213.6L426.5,1213.5L427.5,1213.9L430.5,1213.9L431.5,1213.2L434.5,1213.2L435.5,1213.8L438.5,1213.8L439.5,1212.9L442.5,1212.9L443.5,1213.9L450.5,1213.9L451.5,1213.7L454.5,1213.7L455.5,1213.8L458.5,1213.8L459.5,1213.1L462.5,1213.1L463.5,1213.8L466.5,1213.8L467.5,1213.3L470.5,1213.3L471.5,1212.6L474.5,1212.6L475.5,1213.3L478.5,1213.3L479.5,1212.4L482.5,1212.4L483.5,1213.8L486.5,1213.8L487.5,1212.8L490.5,1212.8L491.5,1213.3L494.5,1213.3L495.5,1213.1L498.5,1213.1L499.5,1213.5L502.5,1213.5L503.5,1212.9L506.5,1212.9L507.5,1213.8L510.5,1213.8L511.5,1213.7L514.5,1213.7L515.5,1213.1L518.5,1213.1L519.5,1213.9L522.5,1213.9L523.5,1212.5L526.5,1212.5L527.5,1212.3L530.5,1212.3L531.5,1212.5L534.5,1212.5L535.5,1213.9L538.5,1213.9L539.5,1213L540.5,1213L541.5,1212.8L542.5,1212.1L543.5,1211.8L546.5,1211.8L547.5,1212.1L548.5,1212.8L549.5,1213.6L550.5,1213.9L562.5,1213.9L563.5,1213L566.5,1213L567.5,1213.7L570.5,1213.7L571.5,1213.9L574.5,1213.9L575.5,1213.7L582.5,1213.7L583.5,1213.1L586.5,1213.1L587.5,1213.9L594.5,1213.9L595.5,1213.7L598.5,1213.7L599.5,1213.4L602.5,1213.4L603.5,1213.1L606.5,1213.1L607.5,1213.9L610.5,1213.9L611.5,1213.7L614.5,1213.7L615.5,1213.7L618.5,1213.7L619.5,1213.9L626.5,1213.9L627.5,1212.8L630.5,1212.8L631.5,1212.5L634.5,1212.5L635.5,1212.4L638.5,1212.4L639.5,1212.7L642.5,1212.7L643.5,1213.4L646.5,1213.4L647.5,1212.4L650.5,1212.4L651.5,1212.8L654.5,1212.8L655.5,1212.6L658.5,1212.6L659.5,1213.5L662.5,1213.5L663.5,1213.8L666.5,1213.8L667.5,1213.4L670.5,1213.4L671.5,1213.9L674.5,1213.9L675.5,1213.8L678.5,1213.8L679.5,1213.7L682.5,1213.7L683.5,1213.2L684.5,1212.9L685.5,1212L686.5,1210.8L687.5,1209.4L688.5,1208.3L689.5,1207.8L690.5,1208L691.5,1209L692.5,1210.2L693.5,1211.5L694.5,1212.6L695.5,1213.3L696.5,1213.6L698.5,1213.6L699.5,1213.9L702.5,1213.9L703.5,1212.7L706.5,1212.7L707.5,1213.8L710.5,1213.8L711.5,1212.5L714.5,1212.5L715.5,1213.9L718.5,1213.9L719.5,1212.7L722.5,1212.7L723.5,1212.5L726.5,1212.5L727.5,1212.8L730.5,1212.8L731.5,1212.4L734.5,1212.4L735.5,1213.9L742.5,1213.9L743.5,1212.4L746.5,1212.4L747.5,1212.4L748.5,1212.1L751.5,1212.1L752.5,1212.4L753.5,1213L754.5,1213L755.5,1212.8L762.5,1212.8L763.5,1213.8L766.5,1213.8L767.5,1213.7L770.5,1213.7L771.5,1213L774.5,1213L775.5,1213.9L790.5,1213.9L791.5,1213.8L794.5,1213.8L795.5,1213.6L798.5,1213.6L799.5,1209.6L800.5,1187.3L801.5,1183L802.5,1182.9L803.5,1183.1L804.5,1190.5L805.5,1212.3L806.5,1213.8L807.5,1213.9L810.5,1213.9L811.5,1213.6L814.5,1213.6L815.5,1213.4L818.5,1213.4L819.5,1213.8L822.5,1213.8L823.5,1213.7L826.5,1213.7L827.5,1212.4L830.5,1212.4L831.5,1213.3L834.5,1213.3L835.5,1212.6L838.5,1212.6L839.5,1213.3L842.5,1213.3L843.5,1213.8L846.5,1213.8L847.5,1212.6L850.5,1212.6L851.5,1213.8L854.5,1213.8L855.5,1213L858.5,1213L859.5,1213.8L862.5,1213.8L863.5,1213.5L866.5,1213.5L867.5,1213.9L870.5,1213.9L871.5,1213.7L874.5,1213.7L875.5,1213.4L878.5,1213.4L879.5,1213.2L882.5,1213.2L883.5,1213.9L886.5,1213.9L887.5,1213.8L890.5,1213.8L891.5,1212.3L894.5,1212.3L895.5,1213.9L898.5,1213.9L899.5,1213.8L902.5,1213.8L903.5,1213.3L906.5,1213.3L907.5,1213.8L910.5,1213.8L911.5,1213.9L914.5,1213.9L915.5,1212.7L918.5,1212.7L919.5,1213.9L922.5,1213.9L923.5,1213.6L926.5,1213.6L927.5,1213.8L930.5,1213.8L931.5,1213.4L934.5,1213.4L935.5,1213.9L938.5,1213.9L939.5,1212.7L942.5,1212.7L943.5,1213.8L950.5,1213.8L951.5,1212.6L954.5,1212.6L955.5,1213.8L958.5,1213.8L959.5,1213.8L962.5,1213.8L963.5,1213.5L966.5,1213.5L967.5,1213.8L970.5,1213.8L971.5,1213.9L978.5,1213.9L979.5,1213.8L982.5,1213.8L983.5,1213.5L986.5,1213.5L987.5,1212.4L990.5,1212.4L991.5,1213.7L1005.5,1213.8L1006.5,1213L1007.5,1211.7L1008.5,1210.5L1009.5,1209.8L1010.5,1209.5L1013.5,1209.5L1014.5,1209.8L1015.5,1210.5L1016.5,1211.7L1017.5,1211.9L1018.5,1211.5L1019.5,1211.1L1020.5,1210.8L1021.5,1210.4L1022.5,1210.1L1023.5,1209.8L1024.5,1209.5L1025.5,1209.3L1026.5,1209.1L1027.5,1208.9L1028.5,1208.8L1029.5,1208.7L1030.5,1208.6L1032.5,1208.5L1035.5,1208.5L1036.5,1205.8L1037.5,1192.5L1038.5,1191.5L1039.5,1191.5L1040.5,1192.5L1041.5,1203L1043.5,1203L1044.5,1203.3L1045.5,1204.2L1046.5,1206L1047.5,1208.6L1048.5,1210.4L1049.5,1210.8L1050.5,1211.1L1051.5,1211.5L1052.5,1211.9L1053.5,1212.2L1054.5,1212.5L1055.5,1212.8L1056.5,1212.9L1058.5,1212.9L1059.5,1212.8L1062.5,1212.8L1063.5,1213.8L1066.5,1213.8L1067.5,1212.9L1070.5,1212.9L1071.5,1213.9L1074.5,1213.9L1075.5,1213.2L1078.5,1213.2L1079.5,1213.9L1082.5,1213.9L1083.5,1213.6L1086.5,1213.6L1087.5,1213.4L1090.5,1213.4L1091.5,1213.2L1094.5,1213.2L1095,1214.1Z" fill="#0c660c" stroke="#075007" stroke-width="0.9" stroke-linejoin="round"/>
<line x1="167.5" y1="1214.1" x2="1095" y2="1214.1" stroke="#0c660c" stroke-width="2.4" />
<path d="M167.5,1267.2L167.5,1266.4L170.5,1266.4L171.5,1265.2L174.5,1265.2L175.5,1265.8L178.5,1265.8L179.5,1266.1L182.5,1266.1L183.5,1266.9L186.5,1266.9L187.5,1265.9L190.5,1265.9L191.5,1266.5L194.5,1266.5L195.5,1265.6L198.5,1265.6L199.5,1266.6L202.5,1266.6L203.5,1266.9L206.5,1266.9L207.5,1265.5L210.5,1265.5L211.5,1266L214.5,1266L215.5,1265.2L218.5,1265.2L219.5,1266.4L222.5,1266.4L223.5,1266.2L226.5,1266.2L227.5,1266.9L230.5,1266.9L231.5,1266.5L234.5,1266.5L235.5,1266.9L238.5,1266.9L239.5,1265.7L242.5,1265.7L243.5,1266.9L250.5,1266.9L251.5,1266.7L258.5,1266.7L259.5,1265.5L262.5,1265.5L263.5,1266.4L266.5,1266.4L267.5,1266.4L270.5,1266.4L271.5,1266.8L274.5,1266.8L275.5,1266.8L278.5,1266.8L279.5,1266.4L282.5,1266.4L283.5,1266.9L286.5,1266.9L287.5,1265.3L290.5,1265.3L291.5,1266.7L294.5,1266.7L295.5,1266.3L298.5,1266.3L299.5,1266.9L302.5,1266.9L303.5,1266.7L306.5,1266.7L307.5,1266.8L310.5,1266.8L311.5,1266L314.5,1266L315.5,1266.9L318.5,1266.9L319.5,1265.4L322.5,1265.4L323.5,1266.4L326.5,1266.4L327.5,1266.6L330.5,1266.6L331.5,1265.2L334.5,1265.2L335.5,1266.7L338.5,1266.7L339.5,1266.8L342.5,1266.8L343.5,1266.9L346.5,1266.9L347.5,1265.6L350.5,1265.6L351.5,1265.7L358.5,1265.7L359.5,1265.3L362.5,1265.3L363.5,1265.8L366.5,1265.8L367.5,1266.1L370.5,1266.1L371.5,1266.9L374.5,1266.9L375.5,1266.2L378.5,1266.2L379.5,1266.4L382.5,1266.4L383.5,1266.9L386.5,1266.9L387.5,1266L391.5,1266L392.5,1263.1L393.5,1262.3L394.5,1262.3L395.5,1263.1L396.5,1266L397.5,1266.4L398.5,1266.4L399.5,1266.6L402.5,1266.6L403.5,1265.9L406.5,1265.9L407.5,1266.7L410.5,1266.7L411.5,1266.7L414.5,1266.7L415.5,1265.9L418.5,1265.9L419.5,1266.6L422.5,1266.6L423.5,1266.7L426.5,1266.7L427.5,1265.3L430.5,1265.3L431.5,1266.3L434.5,1266.3L435.5,1265L438.5,1265L439.5,1266.8L442.5,1266.8L443.5,1266.3L446.5,1266.3L447.5,1266.4L450.5,1266.4L451.5,1266.3L452.5,1264.3L453.5,1260L454.5,1259.2L455.5,1259.3L456.5,1261.3L457.5,1265.8L458.5,1262L459.5,1258.4L460.5,1258.2L461.5,1258.7L462.5,1263.3L463.5,1265L464.5,1259.7L465.5,1258.2L466.5,1258.2L467.5,1259.7L468.5,1265L469.5,1266.9L470.5,1266.9L471.5,1265.1L474.5,1265.1L475.5,1266.5L478.5,1266.5L479.5,1266.8L482.5,1266.8L483.5,1266.5L486.5,1266.5L487.5,1266.9L490.5,1266.9L491.5,1265.4L494.5,1265.4L495.5,1265L498.5,1265L499.5,1265.4L502.5,1265.4L503.5,1266.9L506.5,1266.9L507.5,1265.9L510.5,1265.9L511.5,1266.2L514.5,1266.2L515.5,1265.8L518.5,1265.8L519.5,1266.9L526.5,1266.9L527.5,1266.8L530.5,1266.8L531.5,1266.4L534.5,1266.4L535.5,1265.1L538.5,1265.1L539.5,1266.9L540.5,1266.7L541.5,1264.2L542.5,1262.4L543.5,1262.2L544.5,1262.3L545.5,1263.6L546.5,1266.4L547.5,1265.6L549.5,1265.6L550.5,1264.3L551.5,1263.1L552.5,1263L553.5,1263.3L554.5,1265.4L555.5,1266.7L558.5,1266.7L559.5,1266.4L560.5,1266.4L561.5,1264.6L562.5,1258.5L563.5,1256.8L564.5,1256.8L565.5,1258.5L566.5,1264.6L567.5,1266.9L570.5,1266.9L571.5,1266.1L574.5,1266.1L575.5,1266.8L582.5,1266.8L583.5,1265.8L586.5,1265.8L587.5,1266.8L590.5,1266.8L591.5,1266.4L598.5,1266.4L599.5,1266.9L606.5,1266.9L607.5,1266.7L610.5,1266.7L611.5,1265.5L614.5,1265.5L615.5,1266.6L618.5,1266.6L619.5,1266.9L622.5,1266.9L623.5,1265.8L626.5,1265.8L627.5,1266.7L630.5,1266.7L631.5,1265.9L634.5,1265.9L635.5,1266.8L642.5,1266.8L643.5,1266.9L646.5,1266.9L647.5,1266.5L650.5,1266.5L651.5,1265.4L654.5,1265.4L655.5,1266.9L662.5,1266.9L663.5,1265.9L666.5,1265.9L667.5,1265.1L670.5,1265.1L671.5,1266.8L674.5,1266.8L675.5,1265.3L678.5,1265.3L679.5,1266.9L682.5,1266.9L683.5,1265.7L685.5,1265.7L686.5,1264.1L687.5,1262.9L688.5,1262.5L690.5,1262.5L691.5,1262.7L692.5,1263.5L693.5,1265.1L694.5,1265.8L695.5,1266.8L698.5,1266.8L699.5,1265.6L702.5,1265.6L703.5,1266.8L706.5,1266.8L707.5,1266.6L710.5,1266.6L711.5,1266.8L714.5,1266.8L715.5,1266.9L722.5,1266.9L723.5,1266.5L726.5,1266.5L727.5,1266.8L730.5,1266.8L731.5,1265.4L734.5,1265.4L735.5,1265.9L738.5,1265.9L739.5,1266.8L740.5,1266.8L741.5,1266.5L742.5,1262.8L743.5,1260.9L744.5,1260.8L745.5,1261.3L746.5,1264.4L747.5,1266.8L750.5,1266.8L751.5,1266.7L754.5,1266.7L755.5,1266.8L758.5,1266.8L759.5,1265.8L762.5,1265.8L763.5,1266.5L766.5,1266.5L767.5,1266.2L770.5,1266.2L771.5,1265.5L772.5,1264.5L773.5,1263.5L774.5,1263.5L775.5,1263.9L776.5,1265.8L777.5,1266.8L778.5,1266.8L779.5,1266.5L782.5,1266.5L783.5,1266.1L786.5,1266.1L787.5,1265.2L790.5,1265.2L791.5,1265.5L794.5,1265.5L795.5,1266.5L798.5,1266.5L799.5,1260.6L800.5,1244.9L801.5,1243.5L802.5,1243.5L803.5,1244.9L804.5,1260.6L805.5,1265.2L806.5,1265.2L807.5,1266.9L810.5,1266.9L811.5,1266.8L814.5,1266.8L815.5,1266.9L818.5,1266.9L819.5,1266.6L822.5,1266.6L823.5,1266.8L830.5,1266.8L831.5,1266.7L834.5,1266.7L835.5,1266.4L838.5,1266.4L839.5,1266.9L840.5,1266.9L841.5,1265.7L842.5,1263L843.5,1262.3L844.5,1262.3L845.5,1263L846.5,1265.7L847.5,1266L850.5,1266L851.5,1266.2L854.5,1266.2L855.5,1265.2L858.5,1265.2L859.5,1266.9L862.5,1266.9L863.5,1266.5L866.5,1266.5L867.5,1265.9L870.5,1265.9L871.5,1265.1L874.5,1265.1L875.5,1265.7L878.5,1265.7L879.5,1266.5L882.5,1266.5L883.5,1266.7L886.5,1266.7L887.5,1265.2L890.5,1265.2L891.5,1266.7L894.5,1266.7L895.5,1265.9L898.5,1265.9L899.5,1266.8L902.5,1266.8L903.5,1266.9L906.5,1266.9L907.5,1266.8L910.5,1266.8L911.5,1266.9L914.5,1266.9L915.5,1266.5L918.5,1266.5L919.5,1266.2L922.5,1266.2L923.5,1266.7L926.5,1266.7L927.5,1265.5L928.5,1264.7L929.5,1264.5L930.5,1264.5L931.5,1264.7L932.5,1265.5L933.5,1266.6L934.5,1266.6L935.5,1266.4L938.5,1266.4L939.5,1266.6L942.5,1266.6L943.5,1265.5L946.5,1265.5L947.5,1266.2L950.5,1266.2L951.5,1265.3L954.5,1265.3L955.5,1266.3L958.5,1266.3L959.5,1265.9L962.5,1265.9L963.5,1266.7L966.5,1266.7L967.5,1266.9L970.5,1266.9L971.5,1266.3L974.5,1266.3L975.5,1266.8L978.5,1266.8L979.5,1266.9L980.5,1266.9L981.5,1266.8L982.5,1265.5L983.5,1264.7L984.5,1264.5L985.5,1264.5L986.5,1264.7L987.5,1265.5L988.5,1266.5L990.5,1266.5L991.5,1265.9L994.5,1265.9L995.5,1266.8L998.5,1266.8L999.5,1266.6L1002.5,1266.6L1003.5,1265.9L1006.5,1265.9L1007.5,1265.6L1010.5,1265.6L1011.5,1266.5L1014.5,1266.5L1015.5,1265.7L1016.5,1261.3L1017.5,1259.7L1018.5,1259.6L1019.5,1260.2L1020.5,1263.9L1021.5,1266.8L1026.5,1266.8L1027.5,1265.7L1030.5,1265.7L1031.5,1266.8L1034.5,1266.8L1035.5,1266.9L1037.5,1266.9L1038.5,1261.5L1039.5,1255.1L1040.5,1254.8L1041.5,1254.8L1042.5,1256.3L1043.5,1265.6L1044.5,1265.6L1046.5,1265.6L1047.5,1266.9L1050.5,1266.9L1051.5,1265.2L1054.5,1265.2L1055.5,1266.2L1058.5,1266.2L1059.5,1266.7L1062.5,1266.7L1063.5,1265.7L1066.5,1265.7L1067.5,1266.9L1070.5,1266.9L1071.5,1266.3L1078.5,1266.3L1079.5,1266.3L1082.5,1266.3L1083.5,1266.9L1090.5,1266.9L1091.5,1266L1094.5,1266L1095,1267.2Z" fill="#7626dc" stroke="#5e1cb0" stroke-width="0.9" stroke-linejoin="round"/>
<line x1="167.5" y1="1267.2" x2="1095" y2="1267.2" stroke="#7626dc" stroke-width="2.6" />
<path d="M167.5,1316.4L167.5,1316.1L170.5,1316.1L171.5,1315.9L174.5,1315.9L175.5,1315.7L182.5,1315.7L183.5,1316L186.5,1316L187.5,1315.3L194.5,1315.3L195.5,1314.7L198.5,1314.7L199.5,1316L202.5,1316L203.5,1315.1L206.5,1315.1L207.5,1316L210.5,1316L211.5,1314.7L214.5,1314.7L215.5,1316L218.5,1316L219.5,1316.1L222.5,1316.1L223.5,1316L226.5,1316L227.5,1315.6L234.5,1315.6L235.5,1315.5L238.5,1315.5L239.5,1316.1L242.5,1316.1L243.5,1314.5L246.5,1314.5L247.5,1315.3L250.5,1315.3L251.5,1316.1L254.5,1316.1L255.5,1315.3L258.5,1315.3L259.5,1315.8L262.5,1315.8L263.5,1316.1L266.5,1316.1L267.5,1315.5L270.5,1315.5L271.5,1315.9L274.5,1315.9L275.5,1314.9L278.5,1314.9L279.5,1316.1L286.5,1316.1L287.5,1315.4L290.5,1315.4L291.5,1316L294.5,1316L295.5,1315.4L298.5,1315.4L299.5,1314.9L302.5,1314.9L303.5,1312.2L304.5,1310.7L305.5,1310.7L306.5,1311.3L307.5,1314.3L308.5,1316.1L310.5,1316.1L311.5,1314.7L314.5,1314.7L315.5,1314.9L318.5,1314.9L319.5,1315.8L326.5,1315.9L327.5,1316.1L330.5,1316.1L331.5,1314.8L334.5,1314.8L335.5,1316.1L338.5,1316.1L339.5,1315.6L342.5,1315.6L343.5,1315.5L346.5,1315.5L347.5,1316.1L350.5,1316.1L351.5,1315.4L354.5,1315.4L355.5,1315.7L358.5,1315.7L359.5,1315.8L362.5,1315.8L363.5,1315L366.5,1315L367.5,1315.8L370.5,1315.8L371.5,1315.5L374.5,1315.5L375.5,1315.8L378.5,1315.8L379.5,1314.6L382.5,1314.6L383.5,1316.1L386.5,1316.1L387.5,1314.4L390.5,1314.4L391.5,1314.6L392.5,1312.1L393.5,1311.5L394.5,1311.5L395.5,1312.1L396.5,1314.6L397.5,1314.8L398.5,1314.8L399.5,1315.1L402.5,1315.1L403.5,1314.3L406.5,1314.3L407.5,1314.5L410.5,1314.5L411.5,1316.1L414.5,1316.1L415.5,1315.2L418.5,1315.2L419.5,1316.1L422.5,1316.1L423.5,1315.5L426.5,1315.5L427.5,1315.9L430.5,1315.9L431.5,1314.5L434.5,1314.5L435.5,1315.9L438.5,1315.9L439.5,1315.7L442.5,1315.7L443.5,1314.2L446.5,1314.2L447.5,1314.5L450.5,1314.5L451.5,1316.1L452.5,1314.6L453.5,1310.4L454.5,1309.2L455.5,1309.2L456.5,1310.4L457.5,1314.6L458.5,1311.9L459.5,1309.4L460.5,1309.2L461.5,1309.6L462.5,1312.8L463.5,1314.4L464.5,1309.8L465.5,1308.5L466.5,1308.5L467.5,1309.8L468.5,1314.4L469.5,1316.1L470.5,1316.1L471.5,1314.8L478.5,1314.8L479.5,1315.6L482.5,1315.6L483.5,1315.2L486.5,1315.2L487.5,1314.6L490.5,1314.6L491.5,1316.1L492.5,1310.3L493.5,1305.6L494.5,1305.5L495.5,1305.5L496.5,1308.5L497.5,1316.1L498.5,1316.1L499.5,1315.6L506.5,1315.6L507.5,1315L510.5,1315L511.5,1315.3L514.5,1315.3L515.5,1316.1L518.5,1316.1L519.5,1314.5L522.5,1314.5L523.5,1314.2L526.5,1314.2L527.5,1314.8L528.5,1312.5L529.5,1312L530.5,1312L531.5,1312.5L532.5,1314.8L533.5,1315.2L534.5,1315.2L535.5,1316L538.5,1316L539.5,1316.1L540.5,1315.7L541.5,1311.5L542.5,1308.7L543.5,1308.5L544.5,1308.7L545.5,1311.5L546.5,1315.7L547.5,1315.2L549.5,1315.2L550.5,1310.3L551.5,1307.6L552.5,1307.5L553.5,1308.1L554.5,1312.5L555.5,1314.5L558.5,1314.5L559.5,1316L560.5,1316L561.5,1312.9L562.5,1304.5L563.5,1303.8L564.5,1303.8L565.5,1304.5L566.5,1312.9L567.5,1316L570.5,1316L571.5,1315.5L574.5,1315.5L575.5,1315.7L578.5,1315.7L579.5,1316L586.5,1316L587.5,1316.1L590.5,1316.1L591.5,1314.7L594.5,1314.7L595.5,1316L598.5,1316L599.5,1314.2L602.5,1314.2L603.5,1316L604.5,1315.9L605.5,1314.3L606.5,1313.2L607.5,1313L608.5,1313L609.5,1313.2L610.5,1314.3L611.5,1315.9L612.5,1316.1L614.5,1316.1L615.5,1316L618.5,1316L619.5,1315.3L622.5,1315.3L623.5,1316L626.5,1316L627.5,1315.9L634.5,1316L635.5,1314.8L638.5,1314.8L639.5,1314.5L642.5,1314.5L643.5,1315.6L646.5,1315.6L647.5,1315.9L650.5,1315.9L651.5,1315.3L654.5,1315.3L655.5,1314.5L658.5,1314.5L659.5,1315.9L662.5,1315.9L663.5,1314.4L670.5,1314.3L671.5,1314.6L674.5,1314.6L675.5,1316.1L676.5,1316.1L677.5,1315.5L678.5,1312.8L679.5,1310.9L680.5,1310.5L681.5,1310.5L682.5,1310.9L683.5,1312.8L684.5,1314.5L685.5,1314.5L686.5,1313.4L687.5,1308.2L688.5,1305.8L689.5,1305.5L690.5,1305.6L691.5,1306.8L692.5,1311.3L693.5,1315.3L694.5,1312.1L695.5,1309.9L696.5,1309.5L697.5,1309.5L698.5,1309.9L699.5,1312.1L700.5,1315.3L701.5,1316.1L702.5,1316.1L703.5,1315L706.5,1315L707.5,1316.1L710.5,1316.1L711.5,1315.2L714.5,1315.2L715.5,1315.3L718.5,1315.3L719.5,1315.5L722.5,1315.5L723.5,1314.9L726.5,1314.9L727.5,1316L734.5,1316L735.5,1315.8L738.5,1315.8L739.5,1315.6L740.5,1315.6L741.5,1315.2L742.5,1311L743.5,1309.1L744.5,1309L745.5,1309.4L746.5,1312.7L747.5,1314.8L750.5,1314.8L751.5,1316L758.5,1316.1L759.5,1316L762.5,1316L763.5,1314.4L766.5,1314.4L767.5,1314.5L770.5,1314.5L771.5,1316L774.5,1316L775.5,1315.2L778.5,1315.2L779.5,1316L782.5,1316L783.5,1314.4L786.5,1314.4L787.5,1315.6L790.5,1315.6L791.5,1315.3L794.5,1315.3L795.5,1315L798.5,1315L799.5,1309L800.5,1291.5L801.5,1290L802.5,1290L803.5,1291.5L804.5,1309L805.5,1316.1L806.5,1316.1L807.5,1315.2L810.5,1315.2L811.5,1313.7L812.5,1311.3L813.5,1311L814.5,1311.1L815.5,1312.5L816.5,1314.7L818.5,1314.7L819.5,1314.3L822.5,1314.3L823.5,1314.9L826.5,1314.9L827.5,1315.5L830.5,1315.5L831.5,1314.9L834.5,1314.9L835.5,1316L838.5,1316L839.5,1315.5L840.5,1315.5L841.5,1314.9L842.5,1312.2L843.5,1311.5L844.5,1311.5L845.5,1312.2L846.5,1314.9L847.5,1315.3L850.5,1315.3L851.5,1315.9L854.5,1315.9L855.5,1315.5L858.5,1315.5L859.5,1316.1L862.5,1316.1L863.5,1315.2L866.5,1315.2L867.5,1315L870.5,1315L871.5,1314.4L874.5,1314.4L875.5,1314.8L878.5,1314.8L879.5,1314.8L882.5,1314.8L883.5,1316L886.5,1316L887.5,1316L890.5,1316L891.5,1315.8L898.5,1315.8L899.5,1315L902.5,1315L903.5,1314.8L906.5,1314.8L907.5,1316.1L910.5,1316.1L911.5,1314.5L914.5,1314.5L915.5,1316.1L918.5,1316.1L919.5,1315.3L922.5,1315.3L923.5,1316.1L925.5,1316.1L926.5,1315.9L927.5,1314.3L928.5,1313.2L929.5,1313L930.5,1313L931.5,1313.2L932.5,1314.3L933.5,1314.8L934.5,1314.8L935.5,1314.4L938.5,1314.4L939.5,1315.9L942.5,1315.9L943.5,1314.6L946.5,1314.6L947.5,1314L948.5,1312.7L949.5,1312.5L950.5,1312.5L951.5,1312.7L952.5,1314L953.5,1315.8L954.5,1316L955.5,1315.9L958.5,1315.9L959.5,1315.4L962.5,1315.4L963.5,1316.1L966.5,1316.1L967.5,1316L970.5,1316L971.5,1315.1L974.5,1315.1L975.5,1315.5L978.5,1315.5L979.5,1314.9L982.5,1314.9L983.5,1316.1L990.5,1316.1L991.5,1315.9L994.5,1315.9L995.5,1315.8L998.5,1315.8L999.5,1314.6L1000.5,1314.6L1001.5,1300.9L1002.5,1292.7L1003.5,1292.5L1004.5,1292.7L1005.5,1300.9L1006.5,1316L1010.5,1316L1011.5,1314.7L1014.5,1314.7L1015.5,1315.3L1016.5,1304.2L1017.5,1302L1018.5,1302L1019.5,1302.5L1020.5,1311.1L1021.5,1315.9L1022.5,1315.9L1023.5,1316.1L1026.5,1316.1L1027.5,1315L1030.5,1315L1031.5,1315.4L1034.5,1315.4L1035.5,1314.8L1036.5,1314.8L1037.5,1300.1L1038.5,1281.7L1039.5,1280.4L1040.5,1280.4L1041.5,1281.7L1042.5,1300.1L1043.5,1316.1L1046.5,1316.1L1047.5,1315.9L1054.5,1316L1055.5,1316.1L1058.5,1316.1L1059.5,1315.2L1062.5,1315.2L1063.5,1314.5L1064.5,1313.5L1065.5,1313.1L1066.5,1313L1067.5,1313L1068.5,1313.1L1069.5,1313.5L1070.5,1314.5L1071.5,1314.3L1074.5,1314.3L1075.5,1315.2L1078.5,1315.2L1079.5,1315.9L1082.5,1315.9L1083.5,1316L1086.5,1316L1087.5,1315.9L1090.5,1315.9L1091.5,1315.9L1094.5,1315.9L1095,1316.4Z" fill="#7626dc" stroke="#5e1cb0" stroke-width="0.9" stroke-linejoin="round"/>
<line x1="167.5" y1="1316.4" x2="1095" y2="1316.4" stroke="#7626dc" stroke-width="2.6" />
<path d="M167.5,1365.6L167.5,1365.4L170.5,1365.4L171.5,1365.5L179.5,1365.6L210.5,1365.6L211.5,1365.4L214.5,1365.4L215.5,1365.6L218.5,1365.6L219.5,1365.4L222.5,1365.4L223.5,1365.4L226.5,1365.4L227.5,1365.3L230.5,1365.3L231.5,1365.4L234.5,1365.4L235.5,1365.6L238.5,1365.6L239.5,1365.4L242.5,1365.4L243.5,1365.5L246.5,1365.5L247.5,1365.5L254.5,1365.4L255.5,1365.5L258.5,1365.5L259.5,1365.6L262.5,1365.6L263.5,1365.5L266.5,1365.5L267.5,1365.3L274.5,1365.3L275.5,1365.6L290.5,1365.6L291.5,1365.4L294.5,1365.4L295.5,1365.6L302.5,1365.6L303.5,1365.4L306.5,1365.4L307.5,1365.6L310.5,1365.6L311.5,1365.5L314.5,1365.5L315.5,1365.6L326.5,1365.6L327.5,1365.5L330.5,1365.5L331.5,1365.5L342.5,1365.4L343.5,1365.6L346.5,1365.6L347.5,1365.4L350.5,1365.4L351.5,1365.3L354.5,1365.3L355.5,1365.5L358.5,1365.5L359.5,1365.6L366.5,1365.6L367.5,1365.4L370.5,1365.4L371.5,1365.6L374.5,1365.6L375.5,1365.4L378.5,1365.4L379.5,1365.6L386.5,1365.6L387.5,1365.4L394.5,1365.4L395.5,1365.6L402.5,1365.5L403.5,1365.6L410.5,1365.6L411.5,1365.3L418.5,1365.3L419.5,1365.5L430.5,1365.5L431.5,1365.2L434.5,1365.2L435.5,1365.4L438.5,1365.4L439.5,1365.5L466.5,1365.6L467.5,1365.5L479.5,1365.4L482.5,1365.4L483.5,1365.6L486.5,1365.6L487.5,1365.3L490.5,1365.3L491.5,1365.6L494.5,1365.6L495.5,1365.5L498.5,1365.5L499.5,1365.6L502.5,1365.6L503.5,1365.5L506.5,1365.5L507.5,1365.6L510.5,1365.6L511.5,1365.4L514.5,1365.4L515.5,1365.6L526.5,1365.6L527.5,1365.4L530.5,1365.4L531.5,1365.6L538.5,1365.6L539.5,1365.5L546.5,1365.5L547.5,1365.6L554.5,1365.6L555.5,1365.4L558.5,1365.4L559.5,1365.6L566.5,1365.6L567.5,1365.5L570.5,1365.5L571.5,1365.4L574.5,1365.4L575.5,1365.6L578.5,1365.6L579.5,1365.2L582.5,1365.2L583.5,1365.3L586.5,1365.3L587.5,1365.6L590.5,1365.6L591.5,1365.4L594.5,1365.4L595.5,1365.2L598.5,1365.2L599.5,1365.6L602.5,1365.6L603.5,1365.5L606.5,1365.5L607.5,1365.5L610.5,1365.5L611.5,1365.3L614.5,1365.3L615.5,1365.6L626.5,1365.6L627.5,1365.4L630.5,1365.4L631.5,1365.5L634.5,1365.5L635.5,1365.6L638.5,1365.6L639.5,1365.4L642.5,1365.4L643.5,1365.2L646.5,1365.2L647.5,1365.6L658.5,1365.6L659.5,1365.5L662.5,1365.5L663.5,1365.5L666.5,1365.5L667.5,1365.2L670.5,1365.2L671.5,1365.6L682.5,1365.6L683.5,1365.5L686.5,1365.5L687.5,1365.2L690.5,1365.2L691.5,1365.6L710.5,1365.6L711.5,1365.5L718.5,1365.5L719.5,1365.2L722.5,1365.2L723.5,1365.6L726.5,1365.6L727.5,1365.5L734.5,1365.5L735.5,1365.6L738.5,1365.6L739.5,1365.4L742.5,1365.4L743.5,1365.3L746.5,1365.3L747.5,1365.6L750.5,1365.6L751.5,1365.3L754.5,1365.3L755.5,1365.5L758.5,1365.5L759.5,1365.6L762.5,1365.6L763.5,1365.4L766.5,1365.4L767.5,1365.6L770.5,1365.6L771.5,1365.4L774.5,1365.4L775.5,1365.4L778.5,1365.4L779.5,1365.6L786.5,1365.6L787.5,1365.3L790.5,1365.3L791.5,1365.3L794.5,1365.3L795.5,1365.4L798.5,1365.4L799.5,1365.6L815.5,1365.5L826.5,1365.5L827.5,1365.4L830.5,1365.4L831.5,1365.5L834.5,1365.5L835.5,1365.3L838.5,1365.3L839.5,1365.6L842.5,1365.6L843.5,1365.5L846.5,1365.5L847.5,1365.2L854.5,1365.2L855.5,1365.4L858.5,1365.4L859.5,1365.6L866.5,1365.6L867.5,1365.4L870.5,1365.4L871.5,1365.6L874.5,1365.6L875.5,1365.5L886.5,1365.5L887.5,1365.4L898.5,1365.4L899.5,1365.6L902.5,1365.6L903.5,1365.2L906.5,1365.2L907.5,1365.6L914.5,1365.6L915.5,1365.5L918.5,1365.5L919.5,1365.3L926.5,1365.3L927.5,1365.5L934.5,1365.5L935.5,1365.5L938.5,1365.5L939.5,1365.6L942.5,1365.6L943.5,1365.3L954.5,1365.3L955.5,1365.6L958.5,1365.6L959.5,1365.4L962.5,1365.4L963.5,1365.6L966.5,1365.6L967.5,1365.4L970.5,1365.4L971.5,1365.4L974.5,1365.4L975.5,1365.5L978.5,1365.5L979.5,1365.6L982.5,1365.6L983.5,1365.2L986.5,1365.2L987.5,1365.6L994.5,1365.6L995.5,1365.2L998.5,1365.2L999.5,1365.4L1002.5,1365.4L1003.5,1365.6L1010.5,1365.6L1011.5,1365.5L1014.5,1365.5L1015.5,1365.1L1016.5,1364.5L1017.5,1364.3L1018.5,1364.3L1019.5,1364.5L1020.5,1365.1L1021.5,1365.5L1026.5,1365.5L1027.5,1365.4L1034.5,1365.4L1035.5,1365.5L1037.5,1365.5L1038.5,1360.3L1039.5,1357.5L1040.5,1357.4L1041.5,1357.5L1042.5,1360.3L1043.5,1365.3L1046.5,1365.3L1047.5,1365.6L1050.5,1365.6L1051.5,1365.4L1054.5,1365.4L1055.5,1365.3L1062.5,1365.3L1063.5,1365.4L1066.5,1365.4L1067.5,1365.5L1070.5,1365.5L1071.5,1365.2L1074.5,1365.2L1075.5,1365.4L1078.5,1365.4L1079.5,1365.6L1082.5,1365.6L1083.5,1365.4L1091.5,1365.3L1094.5,1365.3L1095,1365.6Z" fill="#960606" stroke="#7a0808" stroke-width="0.9" stroke-linejoin="round"/>
<line x1="167.5" y1="1365.6" x2="1095" y2="1365.6" stroke="#960606" stroke-width="2.4" />
<path d="M167.5,1414.8L167.5,1414.5L170.5,1414.5L171.5,1414.6L174.5,1414.6L175.5,1414.8L178.5,1414.8L179.5,1414.5L182.5,1414.5L183.5,1414.7L186.5,1414.7L187.5,1414.7L190.5,1414.7L191.5,1414.8L194.5,1414.8L195.5,1414.4L198.5,1414.4L199.5,1414.8L202.5,1414.8L203.5,1414.5L206.5,1414.5L207.5,1414.7L210.5,1414.7L211.5,1414.6L214.5,1414.6L215.5,1414.8L238.5,1414.8L239.5,1414.5L242.5,1414.5L243.5,1414.8L246.5,1414.8L247.5,1414.6L250.5,1414.6L251.5,1414.8L254.5,1414.8L255.5,1414.7L258.5,1414.7L259.5,1414.8L262.5,1414.8L263.5,1414.7L266.5,1414.7L267.5,1414.8L270.5,1414.8L271.5,1414.5L274.5,1414.5L275.5,1414.4L278.5,1414.4L279.5,1414.8L282.5,1414.8L283.5,1414.7L286.5,1414.7L287.5,1414.7L290.5,1414.7L291.5,1414.5L298.5,1414.5L299.5,1414.6L306.5,1414.6L307.5,1414.7L310.5,1414.7L311.5,1414.8L322.5,1414.8L323.5,1414.6L326.5,1414.6L327.5,1414.8L330.5,1414.8L331.5,1414.6L334.5,1414.6L335.5,1414.8L346.5,1414.8L347.5,1414.6L350.5,1414.6L351.5,1414.8L370.5,1414.8L371.5,1414.5L374.5,1414.5L375.5,1414.7L378.5,1414.7L379.5,1414.8L386.5,1414.7L387.5,1414.5L390.5,1414.5L391.5,1414.8L394.5,1414.8L395.5,1414.6L398.5,1414.6L399.5,1414.8L415.5,1414.7L418.5,1414.7L419.5,1414.5L422.5,1414.5L423.5,1414.7L425.5,1414.7L426.5,1414.6L427.5,1414.2L428.5,1413.9L429.5,1413.8L430.5,1413.8L431.5,1413.9L432.5,1414.2L433.5,1414.6L434.5,1414.6L435.5,1414.8L446.5,1414.8L447.5,1414.7L454.5,1414.7L455.5,1414.8L462.5,1414.8L463.5,1414.5L470.5,1414.5L471.5,1414.8L474.5,1414.8L475.5,1414.5L482.5,1414.5L483.5,1414.6L486.5,1414.6L487.5,1414.4L490.5,1414.4L491.5,1414.8L498.5,1414.8L499.5,1414.5L502.5,1414.5L503.5,1414.8L530.5,1414.8L531.5,1414.6L538.5,1414.7L539.5,1414.8L550.5,1414.8L551.5,1414.6L554.5,1414.6L555.5,1414.7L558.5,1414.7L559.5,1414.5L562.5,1414.5L563.5,1414.7L575.5,1414.6L578.5,1414.6L579.5,1414.6L582.5,1414.6L583.5,1414.8L594.5,1414.7L595.5,1414.5L606.5,1414.5L607.5,1414.8L610.5,1414.8L611.5,1414.4L614.5,1414.4L615.5,1414.8L630.5,1414.8L631.5,1414.6L638.5,1414.6L639.5,1414.8L642.5,1414.8L643.5,1414.7L646.5,1414.7L647.5,1414.4L650.5,1414.4L651.5,1414.6L654.5,1414.6L655.5,1414.7L658.5,1414.7L659.5,1414.8L670.5,1414.8L671.5,1414.6L674.5,1414.6L675.5,1414.8L678.5,1414.8L679.5,1414.5L682.5,1414.5L683.5,1414.6L686.5,1414.6L687.5,1414.8L690.5,1414.8L691.5,1414.7L698.5,1414.8L699.5,1414.5L702.5,1414.5L703.5,1414.7L706.5,1414.7L707.5,1414.8L714.5,1414.8L715.5,1414.5L718.5,1414.5L719.5,1414.8L722.5,1414.8L723.5,1414.7L726.5,1414.7L727.5,1414.8L730.5,1414.8L731.5,1414.5L734.5,1414.5L735.5,1414.8L738.5,1414.8L739.5,1414.5L742.5,1414.5L743.5,1414.7L746.5,1414.7L747.5,1414.8L750.5,1414.8L751.5,1414.5L754.5,1414.5L755.5,1414.8L758.5,1414.8L759.5,1414.7L762.5,1414.7L763.5,1414.8L766.5,1414.8L767.5,1414.4L770.5,1414.4L771.5,1414.7L778.5,1414.7L779.5,1414.8L782.5,1414.8L783.5,1414.7L790.5,1414.7L791.5,1414.5L794.5,1414.5L795.5,1414.8L796.5,1414.6L797.5,1414.1L798.5,1413.7L799.5,1413.6L800.5,1413.6L801.5,1413.7L802.5,1414.1L803.5,1414.5L806.5,1414.5L807.5,1414.8L814.5,1414.8L815.5,1414.6L818.5,1414.6L819.5,1414.8L822.5,1414.8L823.5,1414.7L826.5,1414.7L827.5,1414.8L830.5,1414.8L831.5,1414.7L834.5,1414.7L835.5,1414.7L838.5,1414.7L839.5,1414.8L846.5,1414.7L847.5,1414.6L850.5,1414.6L851.5,1414.8L874.5,1414.8L875.5,1414.5L878.5,1414.5L879.5,1414.7L882.5,1414.7L883.5,1414.8L886.5,1414.8L887.5,1414.6L890.5,1414.6L891.5,1414.8L894.5,1414.8L895.5,1414.5L898.5,1414.5L899.5,1414.8L902.5,1414.8L903.5,1414.7L906.5,1414.7L907.5,1414.8L914.5,1414.8L915.5,1414.4L918.5,1414.4L919.5,1414.6L922.5,1414.6L923.5,1414.4L926.5,1414.4L927.5,1414.7L930.5,1414.7L931.5,1414.6L932.5,1414.1L933.5,1413.7L934.5,1413.6L935.5,1413.6L936.5,1413.7L937.5,1414.1L938.5,1414.6L939.5,1414.4L942.5,1414.4L943.5,1414.8L950.5,1414.8L951.5,1414.7L962.5,1414.7L963.5,1414.8L970.5,1414.8L971.5,1414.7L974.5,1414.7L975.5,1414.5L978.5,1414.5L979.5,1414.5L982.5,1414.5L983.5,1414.7L986.5,1414.7L987.5,1414.8L994.5,1414.8L995.5,1414.4L998.5,1414.4L999.5,1414.7L1002.5,1414.7L1003.5,1414.6L1006.5,1414.6L1007.5,1414.8L1014.5,1414.7L1015.5,1413.9L1016.5,1412.7L1017.5,1412.4L1018.5,1412.4L1019.5,1412.7L1020.5,1413.9L1021.5,1414.7L1022.5,1414.8L1023.5,1414.5L1030.5,1414.5L1031.5,1414.8L1036.5,1414.8L1037.5,1408.8L1038.5,1381.1L1039.5,1375.2L1040.5,1375.1L1041.5,1375.2L1042.5,1381.1L1043.5,1408.8L1044.5,1414.5L1046.5,1414.5L1047.5,1414.7L1050.5,1414.7L1051.5,1414.8L1054.5,1414.8L1055.5,1414.5L1058.5,1414.5L1059.5,1414.6L1062.5,1414.6L1063.5,1414.8L1066.5,1414.8L1067.5,1414.7L1074.5,1414.7L1075.5,1414.4L1078.5,1414.4L1079.5,1414.8L1082.5,1414.8L1083.5,1414.5L1086.5,1414.5L1087.5,1414.5L1090.5,1414.5L1091.5,1414.7L1094.5,1414.7L1095,1414.8Z" fill="#960606" stroke="#7a0808" stroke-width="0.9" stroke-linejoin="round"/>
<line x1="167.5" y1="1414.8" x2="1095" y2="1414.8" stroke="#960606" stroke-width="2.4" />
<rect x="704.4" y="1421.6" width="4.6" height="14.2" fill="#0d5a0d" rx="1.2"/>
<rect x="784.8" y="1421.6" width="4.6" height="14.2" fill="#0d5a0d" rx="1.2"/>
<rect x="784.8" y="1443.8" width="4.6" height="14" fill="#0d5a0d" rx="1.2"/>
<rect x="1038" y="1421.6" width="4.6" height="14.2" fill="#0d5a0d" rx="1.2"/>
<rect x="1038" y="1443.8" width="4.6" height="14" fill="#0d5a0d" rx="1.2"/>
<path d="M1241,970.2L1241,969.8L1244,969.8L1245,969.7L1246,969.2L1249,969.2L1250,969.3L1251,969.7L1254,969.7L1255,969.6L1256,968.8L1259,968.8L1260,968.9L1261,969.4L1264,969.4L1265,969.5L1266,969.8L1269,969.8L1270,969.7L1271,969.3L1274,969.3L1275,969.2L1276,968.8L1279,968.8L1280,969L1281,969.7L1284,969.7L1285,969.4L1286,968.2L1289,968.2L1290,968.3L1291,968.6L1294,968.6L1295,968.8L1296,969.8L1299,969.8L1300,969.7L1301,969.5L1304,969.5L1305,969.2L1306,968.4L1309,968.4L1310,968.6L1311,969.8L1319,969.8L1320,969.7L1321,969.5L1325,969.5L1326,969.6L1330,969.7L1331,969.8L1334,969.8L1335,969.5L1336,968.6L1340,968.7L1341,968.9L1344,968.9L1345,968.8L1346,968.3L1349,968.3L1350,968.4L1351,968.9L1354,968.9L1355,969L1356,969.3L1359,969.3L1360,969.4L1361,969.8L1364,969.8L1365,969.6L1366,968.7L1369,968.7L1370,968.7L1371,968.5L1374,968.5L1375,968.7L1376,969.6L1381,969.5L1384,969.5L1385,969.3L1386,968.2L1389,968.2L1390,968.5L1391,969.8L1394,969.8L1395,969.6L1396,969L1399,969L1400,969.1L1401,969.5L1405,969.4L1406,969.4L1409,969.4L1410,969.4L1411,969.7L1414,969.7L1415,969.7L1416,969.4L1419,969.4L1420,969.4L1421,969.8L1425,969.7L1426,969.6L1440,969.7L1441,969.8L1444,969.8L1445,969.6L1446,968.9L1448,968.8L1449,967.2L1450,966.5L1452,966.5L1453,967.2L1454,968.8L1455,969L1456,968.5L1459,968.5L1460,968.7L1461,969.6L1464,969.6L1465,969.3L1466,968.3L1469,968.3L1470,968.4L1471,968.6L1474,968.6L1475,968.8L1476,969.6L1479,969.6L1480,969.4L1481,968.6L1484,968.6L1485,968.8L1486,969.8L1489,969.8L1490,969.6L1491,968.9L1495,968.9L1496,968.7L1499,968.7L1500,968.9L1501,969.7L1505,969.7L1506,969.6L1510,969.6L1511,969.8L1514,969.8L1515,969.5L1516,968.5L1519,968.5L1520,968.6L1521,969L1524,969L1525,969.1L1526,969.7L1529,969.7L1530,969.7L1531,969.4L1534,969.4L1535,969.5L1536,969.8L1539,969.8L1540,969.6L1541,968.7L1545,968.7L1546,968.6L1549,968.6L1550,968.8L1551,969.6L1554,969.6L1555,969.4L1556,968.7L1559,968.7L1560,968.8L1561,969.4L1564,969.4L1565,969.3L1566,968.9L1570,968.9L1571,969.1L1574,969.1L1575,969.2L1576,969.8L1579,969.8L1580,969.7L1581,969.2L1585,969.2L1586,969.3L1589,969.3L1590,969.4L1591,969.6L1594,969.6L1595,969.4L1596,968.5L1599,968.5L1600,968.8L1601,969.8L1614,969.8L1615,969.7L1616,969.1L1617,967.8L1618,967.3L1620,967.3L1621,967.8L1622,969.1L1623,969.4L1625,969.4L1626,969.5L1629,969.5L1630,969.5L1631,969.8L1635,969.7L1636,969.6L1640,969.6L1641,969.4L1644,969.4L1645,969.3L1646,969L1650,969L1651,968.9L1654,968.9L1655,969.1L1656,969.8L1671,969.7L1680,969.7L1681,969.6L1684,969.6L1685,969.4L1686,968.5L1689,968.5L1690,968.7L1691,969.4L1694,969.4L1695,969.2L1696,968.4L1699,968.4L1700,968.6L1701,969.3L1704,969.3L1705,969.2L1706,969L1709,969L1710,969.1L1711,969.7L1714,969.7L1715,969.6L1716,969.4L1719,969.4L1720,969.5L1721,969.8L1724,969.8L1725,969.5L1726,968.3L1729,968.3L1730,968.6L1731,969.7L1735,969.7L1736,969.8L1744,969.8L1745,969.6L1746,968.9L1749,968.9L1750,969L1751,969.2L1760,969.2L1761,969.4L1763,969.4L1764,967.4L1765,964.2L1766,963.7L1767,963.8L1768,965.7L1769,969.5L1770,969.6L1771,969.8L1774,969.8L1775,968.9L1776,966.9L1777,966.6L1778,966.7L1779,967.9L1780,969.5L1781,968.8L1784,968.8L1785,968.9L1786,969.5L1790,969.5L1791,969.6L1794,969.6L1795,969.5L1796,969.2L1799,969.2L1800,969.3L1801,969.8L1804,969.8L1805,969.7L1806,969.5L1809,969.5L1810,969.3L1811,968.6L1814,968.6L1815,968.7L1816,969.2L1820,969.2L1821,969.1L1825,969.1L1826,969.1L1829,969.1L1830,969.2L1831,969.7L1835,969.7L1836,969.6L1839,969.6L1840,969.4L1841,968.8L1844,968.8L1845,968.6L1846,968.2L1849,968.2L1850,968.5L1851,969.7L1855,969.7L1856,969.6L1860,969.6L1861,969.4L1864,969.4L1865,969.4L1866,969.7L1869,969.7L1870,969.5L1871,969L1874,969L1875,969.1L1876,969.8L1879,969.8L1880,969.6L1881,969.1L1884,969.1L1885,969.2L1886,969.7L1889,969.7L1890,969.5L1891,969.1L1894,969.1L1895,969L1896,968.4L1899,968.4L1900,968.6L1901,969.7L1906,969.8L1916,969.7L1919,969.7L1920,969.4L1921,968.4L1924,968.4L1925,968.6L1926,969.5L1930,969.6L1931,969.7L1935,969.7L1936,969.6L1940,969.6L1941,969.8L1949,969.8L1950,969.5L1951,968.4L1954,968.4L1955,968.7L1956,969.8L1964,969.8L1965,969.7L1966,969.1L1969,969.1L1970,969.2L1971,969.8L1979,969.8L1980,969.7L1981,969.5L1985,969.5L1986,969.6L1987,969.2L1988,968.7L1989,968.2L1990,967.9L1991,967.7L1992,967.6L1994,967.5L1998,967.6L1999,967.7L2000,967.9L2001,968.2L2002,968.7L2003,969.2L2004,969.7L2005,969.7L2006,969.4L2008,969.4L2009,967.7L2010,965.3L2011,963.9L2012,963.5L2014,963.5L2015,963.9L2016,965.3L2017,967.7L2018,952L2019,936.6L2020,935L2021,935L2022,935.1L2023,940.1L2024,962.1L2025,960.9L2026,954.5L2027,953.8L2028,953.8L2029,954.5L2030,960.9L2031,969L2034,969L2035,949.4L2036,931.8L2037,930L2038,930L2039,930.2L2040,935.8L2041,961L2042,968.8L2044,968.8L2045,968.9L2046,969.2L2049,969.2L2050,969.2L2051,968.8L2054,968.8L2055,969L2056,968.8L2057,965.3L2058,964.4L2059,964.4L2060,965.8L2061,969.4L2062,969.7L2064,969.7L2065,969.5L2066,968.6L2069,968.6L2070,968.8L2071,969.8L2074,969.8L2075,969.7L2076,969.1L2079,969.1L2080,969.2L2081,969.7L2085,969.7L2086,969.8L2089,969.8L2090,969.7L2091,969.1L2094,969.1L2095,969.2L2096,969.8L2099,969.8L2100,969.5L2101,968.4L2104,968.4L2105,968.7L2106,969.6L2109,969.6L2110,969.5L2111,969L2114,969L2115,969.2L2116,969.8L2125,969.7L2126,969.6L2129,969.6L2130,969.6L2131,969.2L2135,969.2L2136,969L2139,969L2140,969.2L2141,969.8L2144,969.8L2145,969.6L2146,968.8L2149,968.8L2150,968.9L2151,969.1L2155,969.1L2156,968.9L2159,968.9L2160,969L2161,969.4L2164,969.4L2165,969.2L2166,968.3L2167,968.3L2167,970.2Z" fill="#555555" stroke="#474747" stroke-width="0.9" stroke-linejoin="round"/>
<line x1="1241" y1="970.2" x2="2167" y2="970.2" stroke="#555555" stroke-width="2.2" />
<path d="M1241,1020.8L1241,1020L1244,1020L1245,1020.1L1246,1020.6L1254,1020.6L1255,1020.5L1256,1020.3L1259,1020.3L1260,1020.3L1261,1020.1L1265,1020L1266,1020L1269,1020L1270,1020L1271,1020.4L1275,1020.4L1276,1020.3L1285,1020.2L1286,1020.1L1289,1020.1L1290,1020.2L1291,1020.5L1294,1020.5L1295,1020.5L1296,1020.1L1300,1020.1L1301,1020L1309,1020L1310,1020L1311,1020.3L1314,1020.3L1315,1020.3L1316,1020.6L1324,1020.5L1325,1020.4L1326,1020L1329,1020L1330,1020.1L1331,1020.6L1334,1020.6L1335,1020.5L1336,1020.3L1339,1020.3L1340,1020.4L1341,1020.6L1350,1020.6L1351,1020.4L1356,1020.5L1359,1020.5L1360,1020.4L1361,1020L1364,1020L1365,1020.1L1366,1020.5L1375,1020.5L1376,1020.4L1380,1020.4L1381,1020.3L1384,1020.3L1385,1020.4L1386,1020.6L1390,1020.6L1391,1020.5L1399,1020.5L1400,1020.4L1401,1020L1404,1020L1405,1020.1L1406,1020.5L1409,1020.5L1410,1020.4L1411,1020.1L1414,1020.1L1415,1020.1L1416,1020.4L1420,1020.4L1421,1020.5L1430,1020.5L1431,1020.4L1435,1020.4L1436,1020.3L1445,1020.3L1446,1020.5L1449,1020.5L1450,1020.4L1451,1020L1455,1020L1456,1020.1L1459,1020.1L1460,1020.2L1461,1020.4L1464,1020.4L1465,1020.3L1466,1019.9L1469,1019.9L1470,1020L1471,1020.5L1475,1020.4L1476,1020.3L1480,1020.3L1481,1020.2L1485,1020.2L1486,1020.4L1490,1020.4L1491,1020.6L1494,1020.6L1495,1020.5L1496,1020.3L1500,1020.4L1501,1020.6L1505,1020.6L1506,1020.5L1510,1020.5L1511,1020.6L1515,1020.6L1516,1020.5L1524,1020.6L1525,1020.5L1526,1020.1L1529,1020.1L1530,1020.2L1531,1020.6L1535,1020.5L1536,1020.5L1540,1020.5L1541,1020.5L1544,1020.5L1545,1020.4L1546,1020L1549,1020L1550,1020.1L1551,1020.6L1554,1020.6L1555,1020.5L1556,1020.1L1559,1020.1L1560,1020.2L1561,1020.6L1565,1020.6L1566,1020.5L1569,1020.5L1570,1020.5L1571,1020.3L1574,1020.3L1575,1020.3L1576,1020.6L1585,1020.5L1586,1020.3L1589,1020.3L1590,1020.3L1591,1020.1L1594,1020.1L1595,1020.2L1596,1020.6L1600,1020.6L1601,1020.4L1605,1020.4L1606,1020.5L1610,1020.4L1611,1020.2L1615,1020.2L1616,1020.3L1620,1020.3L1621,1020.1L1624,1020.1L1625,1020.2L1626,1020.4L1630,1020.4L1631,1020.5L1634,1020.5L1635,1020.5L1636,1020.2L1639,1020.2L1640,1020.2L1641,1020.5L1645,1020.5L1646,1020.6L1649,1020.6L1650,1020.5L1651,1020.1L1654,1020.1L1655,1020.1L1656,1020.5L1660,1020.5L1661,1020.4L1665,1020.5L1666,1020.6L1669,1020.6L1670,1020.5L1671,1020.1L1675,1020.2L1676,1020.3L1679,1020.3L1680,1020.2L1681,1019.9L1684,1019.9L1685,1020.1L1686,1020.5L1689,1020.5L1690,1020.4L1691,1020.2L1695,1020.2L1696,1020.3L1699,1020.3L1700,1020.4L1701,1020.6L1705,1020.6L1706,1020.5L1710,1020.5L1711,1020.4L1715,1020.5L1716,1020.6L1719,1020.6L1720,1020.5L1721,1020.1L1724,1020.1L1725,1020.2L1726,1020.4L1730,1020.5L1731,1020.6L1734,1020.6L1735,1020.5L1736,1020.3L1740,1020.3L1741,1020.1L1744,1020.1L1745,1020.2L1746,1020.6L1750,1020.6L1751,1020.4L1754,1020.4L1755,1020.4L1756,1020L1759,1020L1760,1020.1L1761,1020.4L1763,1020.4L1764,1019.6L1765,1019L1767,1019L1768,1019.6L1769,1020.5L1770,1020.4L1771,1020L1776,1020L1779,1020L1780,1020.1L1781,1020.3L1785,1020.4L1786,1020.6L1806,1020.5L1810,1020.5L1811,1020.6L1815,1020.6L1816,1020.5L1819,1020.5L1820,1020.4L1821,1020.2L1824,1020.2L1825,1020.2L1826,1020.4L1829,1020.4L1830,1020.3L1831,1020L1834,1020L1835,1020.1L1836,1020.6L1840,1020.6L1841,1020.4L1845,1020.5L1846,1020.6L1859,1020.6L1860,1020.5L1861,1020.1L1864,1020.1L1865,1020.2L1866,1020.5L1875,1020.5L1876,1020.5L1879,1020.5L1880,1020.4L1881,1020L1884,1020L1885,1020.1L1886,1020.5L1890,1020.5L1891,1020.6L1894,1020.6L1895,1020.5L1896,1020.2L1899,1020.2L1900,1020.2L1901,1020.5L1905,1020.5L1906,1020.6L1914,1020.6L1915,1020.5L1916,1020.2L1919,1020.2L1920,1020.3L1921,1020.5L1925,1020.4L1926,1020.3L1929,1020.3L1930,1020.3L1931,1020L1934,1020L1935,1020.1L1936,1020.5L1939,1020.5L1940,1020.5L1941,1020.3L1945,1020.3L1946,1020.5L1950,1020.5L1951,1020.4L1955,1020.4L1956,1020.5L1960,1020.5L1961,1020.4L1965,1020.4L1966,1020.6L1969,1020.6L1970,1020.5L1971,1020.2L1975,1020.2L1976,1020.4L1985,1020.4L1986,1020.6L2000,1020.5L2001,1020.4L2005,1020.4L2006,1020.5L2009,1020.5L2010,1020.4L2011,1020.2L2015,1020.3L2016,1020.4L2017,1020L2018,1019L2019,1018.6L2021,1018.6L2022,1019L2023,1020L2024,1020.2L2025,1020.2L2026,1020.3L2029,1020.3L2030,1020.4L2031,1020.6L2033,1020.6L2034,1020L2035,1019L2036,1018.6L2038,1018.6L2039,1019L2040,1020L2041,1020.6L2045,1020.5L2046,1020.5L2050,1020.5L2051,1020.6L2055,1020.6L2056,1020.4L2060,1020.5L2061,1020.6L2065,1020.6L2066,1020.5L2070,1020.5L2071,1020.6L2080,1020.5L2081,1020.5L2085,1020.5L2086,1020.4L2090,1020.4L2091,1020.6L2105,1020.6L2106,1020.4L2110,1020.4L2111,1020.3L2115,1020.4L2116,1020.5L2120,1020.5L2121,1020.6L2125,1020.6L2126,1020.5L2136,1020.6L2139,1020.6L2140,1020.5L2141,1020L2149,1020L2150,1020.1L2151,1020.4L2154,1020.4L2155,1020.3L2156,1020L2159,1020L2160,1020.1L2161,1020.5L2165,1020.5L2166,1020.6L2167,1020.6L2167,1020.8Z" fill="#555555" stroke="#474747" stroke-width="0.9" stroke-linejoin="round"/>
<line x1="1241" y1="1020.8" x2="2167" y2="1020.8" stroke="#555555" stroke-width="2.2" />
<path d="M1241,1069.6L1241,1063.1L1244,1063.1L1245,1063.2L1246,1063.3L1249,1063.3L1250,1064.1L1251,1065L1254,1065L1255,1065.2L1256,1065.3L1259,1065.3L1260,1066.4L1261,1066.6L1264,1066.6L1265,1066.5L1268,1066.5L1269,1066.7L1270,1067L1273,1067L1274,1065.7L1275,1064.4L1278,1064.4L1279,1065L1280,1065.4L1283,1065.4L1284,1065.9L1285,1066.1L1287,1066.1L1288,1065.7L1289,1064L1292,1064L1293,1064.2L1294,1064.7L1297,1064.7L1298,1063.7L1299,1062.8L1302,1062.8L1303,1063.7L1304,1064.1L1307,1064.1L1308,1064.9L1309,1065.1L1311,1065.1L1312,1065.3L1313,1066.2L1316,1066.2L1317,1066L1318,1065.6L1319,1065.3L1320,1061.3L1321,1060.7L1322,1060.8L1323,1062.4L1324,1065L1326,1065L1327,1064.8L1328,1064.7L1331,1064.7L1332,1066.3L1333,1066.7L1335,1066.7L1336,1066.2L1337,1063.8L1340,1063.8L1341,1064.8L1342,1066.8L1345,1066.8L1346,1066.9L1347,1067L1350,1067L1351,1065.7L1352,1065.1L1355,1065.1L1356,1066L1357,1066.2L1360,1066.2L1361,1066.3L1364,1066.3L1365,1065.5L1366,1064L1369,1064L1370,1065.2L1371,1066.4L1374,1066.4L1375,1064.8L1376,1063.9L1377,1063.9L1378,1063.7L1379,1059.4L1380,1058.8L1381,1058.9L1382,1061.3L1383,1063.7L1384,1063.9L1385,1065.2L1388,1065.2L1389,1065.1L1390,1065L1393,1065L1394,1065.8L1395,1066.7L1398,1066.7L1399,1066.9L1400,1066.9L1407,1067L1408,1066.6L1409,1064.5L1412,1064.5L1413,1064.3L1414,1063.8L1417,1063.8L1418,1064.5L1419,1065.3L1422,1065.3L1423,1064.5L1424,1064.1L1427,1064.1L1428,1063L1429,1062.8L1431,1062.8L1432,1063.4L1433,1066.6L1436,1066.6L1437,1066.3L1438,1065.6L1439,1059.1L1440,1057.2L1441,1057.2L1442,1057.6L1443,1063L1446,1063L1447,1065.4L1448,1066.6L1451,1066.6L1452,1065.5L1453,1065.3L1456,1065.3L1457,1065.2L1460,1065.2L1461,1065.6L1462,1066.4L1465,1066.4L1466,1064.8L1467,1063.2L1470,1063.2L1471,1065.2L1472,1066.1L1475,1066.1L1476,1064.2L1477,1063.8L1479,1063.8L1480,1063.9L1481,1064.5L1489,1064.5L1490,1064.6L1491,1064.7L1494,1064.7L1495,1065.8L1496,1066.3L1499,1066.3L1500,1064.4L1501,1064L1503,1064L1504,1064.2L1505,1065.2L1508,1065.2L1509,1065.8L1510,1066.8L1513,1066.8L1514,1066.5L1515,1066.2L1518,1066.2L1519,1064.5L1520,1063.6L1523,1063.6L1524,1063L1525,1062.9L1527,1062.9L1528,1063.3L1529,1065.1L1532,1065.1L1533,1065.6L1534,1066.5L1537,1066.5L1538,1066L1539,1065.6L1542,1065.6L1543,1064.7L1544,1064.3L1547,1064.3L1548,1065.7L1549,1066L1551,1066L1552,1066.1L1553,1066.8L1556,1066.8L1557,1066.7L1558,1066.6L1563,1066.7L1566,1066.7L1567,1066.1L1568,1065.8L1571,1065.8L1572,1064.7L1573,1064.4L1574,1062.2L1575,1062L1576,1062.2L1577,1064.5L1580,1064.5L1581,1064.7L1582,1065.2L1585,1065.2L1586,1065.7L1587,1066.3L1590,1066.3L1591,1066.7L1592,1066.9L1595,1066.9L1596,1064L1597,1063.5L1599,1063.5L1600,1063.6L1601,1064L1604,1064L1605,1064.3L1606,1064.9L1609,1064.9L1610,1065.6L1611,1066.2L1616,1066.3L1617,1062.3L1618,1060.8L1619,1060.7L1620,1060.8L1621,1062.3L1622,1066.1L1623,1066.1L1624,1066.1L1625,1065.8L1628,1065.8L1629,1065.7L1630,1065.5L1633,1065.5L1634,1066L1635,1066.4L1638,1066.4L1639,1066.7L1640,1066.9L1643,1066.9L1644,1066.5L1645,1066.4L1647,1066.4L1648,1066.2L1649,1065.4L1652,1065.4L1653,1065.5L1654,1065.6L1657,1065.6L1658,1065.4L1659,1065.1L1662,1065.1L1663,1064L1664,1063.5L1671,1063.5L1672,1063.4L1673,1062.7L1676,1062.7L1677,1064.1L1678,1067L1681,1067L1682,1066.7L1683,1066.4L1686,1066.4L1687,1066.6L1688,1066.8L1691,1066.8L1692,1066.9L1695,1066.9L1696,1066.7L1697,1065.9L1700,1065.9L1701,1066L1702,1066.3L1705,1066.3L1706,1064.7L1707,1063.1L1710,1063.1L1711,1065.5L1712,1066.7L1715,1066.7L1716,1063.8L1717,1063.2L1719,1063.2L1720,1063.8L1721,1067L1724,1067L1725,1066.9L1726,1066.8L1729,1066.8L1730,1066.2L1731,1065.6L1734,1065.6L1735,1065.3L1736,1065.1L1739,1065.1L1740,1064L1741,1063.7L1743,1063.7L1744,1063.9L1745,1065L1748,1065L1749,1065.6L1750,1066.8L1753,1066.8L1754,1065.1L1755,1063.5L1758,1063.5L1759,1065L1760,1065.8L1763,1065.8L1764,1065L1765,1064.9L1767,1064.9L1768,1064.6L1769,1063.5L1772,1063.5L1773,1064.3L1774,1066L1777,1066L1778,1065.1L1779,1064.2L1782,1064.2L1783,1065.5L1784,1066.2L1787,1066.2L1788,1063.3L1789,1062.7L1791,1062.7L1792,1063.4L1793,1066.8L1796,1066.8L1797,1065.9L1798,1064L1801,1064L1802,1065.5L1803,1067L1806,1067L1807,1065.2L1808,1064.3L1811,1064.3L1812,1065.1L1813,1065.3L1815,1065.3L1816,1065.4L1817,1065.9L1820,1065.9L1821,1066L1822,1066.2L1825,1066.2L1826,1065L1827,1063.7L1830,1063.7L1831,1065.1L1832,1065.8L1835,1065.8L1836,1066.2L1837,1066.2L1839,1066.2L1840,1066.1L1841,1065.7L1844,1065.7L1845,1065L1846,1063.7L1849,1063.7L1850,1063.3L1851,1062.8L1854,1062.8L1855,1064.2L1856,1064.8L1859,1064.8L1860,1064.9L1863,1064.9L1864,1064.5L1865,1062.7L1868,1062.7L1869,1063.7L1870,1065.8L1873,1065.8L1874,1064.7L1875,1063.6L1878,1063.6L1879,1065.2L1880,1066L1883,1066L1884,1066.8L1885,1067L1887,1067L1888,1066.3L1889,1062.8L1892,1062.8L1893,1063.3L1894,1064.4L1897,1064.4L1898,1064.9L1899,1062.7L1900,1062.5L1901,1062.7L1902,1064.9L1903,1065.4L1904,1064.9L1907,1064.9L1908,1065L1912,1065.1L1913,1065.2L1916,1065.2L1917,1065.8L1918,1066.9L1921,1066.9L1922,1066.8L1923,1066.8L1926,1066.8L1927,1066.4L1928,1066.2L1931,1066.2L1932,1064.5L1933,1064.1L1935,1064.1L1936,1064.3L1937,1065.3L1940,1065.3L1941,1065.6L1942,1066.1L1945,1066.1L1946,1066.2L1947,1066.4L1950,1066.4L1951,1065.8L1952,1065.5L1955,1065.5L1956,1064.2L1957,1063.9L1959,1063.9L1960,1063.7L1961,1062.8L1964,1062.8L1965,1063.2L1966,1063.9L1969,1063.9L1970,1063.6L1971,1063.2L1974,1063.2L1975,1064.1L1976,1064.5L1979,1064.5L1980,1064.6L1983,1064.6L1984,1063.2L1985,1063L1986,1063.1L1988,1063.1L1989,1064.4L1990,1066.8L1995,1066.9L1998,1066.9L1999,1064.9L2000,1063.9L2001,1063.9L2002,1060.5L2003,1058.6L2004,1058.5L2005,1058.6L2006,1060.5L2007,1060.2L2008,1058.3L2009,1056L2010,1055.8L2011,1056L2012,1058.3L2013,1059.3L2014,1059.3L2015,1057.4L2016,1057.2L2017,1057.4L2018,1059.3L2019,1059.3L2020,1058.8L2021,1056.7L2022,1056.5L2023,1056.7L2024,1058.8L2025,1062.2L2026,1060.7L2027,1059.5L2028,1059.5L2029,1060.7L2030,1064.2L2031,1064.2L2032,1064.2L2033,1063.7L2034,1059.3L2035,1034.9L2036,1032.8L2037,1032.8L2038,1034.9L2039,1059.3L2040,1066.6L2041,1066.6L2042,1065.6L2043,1064.6L2046,1064.6L2047,1063.4L2048,1062.8L2051,1062.8L2052,1063.6L2053,1063.8L2055,1063.8L2056,1064L2057,1065.1L2060,1065.1L2061,1064.7L2062,1063.9L2065,1063.9L2066,1065.3L2067,1066.8L2070,1066.8L2071,1066.3L2072,1066.1L2075,1066.1L2076,1065.5L2077,1065.4L2079,1065.4L2080,1065.5L2081,1065.8L2084,1065.8L2085,1066.2L2086,1066.9L2089,1066.9L2090,1065.7L2091,1064.6L2094,1064.6L2095,1064L2096,1063.7L2099,1063.7L2100,1063.8L2103,1063.8L2104,1064.3L2105,1066.8L2108,1066.8L2109,1066.2L2110,1065L2113,1065L2114,1065L2115,1064.9L2118,1064.9L2119,1065.2L2120,1065.4L2123,1065.4L2124,1065.4L2127,1065.3L2128,1065.3L2129,1065L2132,1065L2133,1064.6L2134,1063.8L2137,1063.8L2138,1065.1L2139,1066.4L2142,1066.4L2143,1064.6L2144,1063.7L2147,1063.7L2148,1063L2149,1062.9L2151,1062.9L2152,1063.6L2153,1066.8L2156,1066.8L2157,1066.6L2158,1066.1L2161,1066.1L2162,1065.7L2163,1065.4L2166,1065.4L2167,1064.5L2167,1069.6Z" fill="#960606" stroke="#7a0808" stroke-width="0.9" stroke-linejoin="round"/>
<line x1="1241" y1="1069.6" x2="2167" y2="1069.6" stroke="#960606" stroke-width="3" />
<path d="M1241,1119.6L1241,1114.8L1244,1114.8L1245,1115.5L1246,1116.9L1254,1116.9L1255,1117L1256,1117.1L1259,1117.1L1260,1117L1263,1117L1264,1116.6L1265,1114.7L1268,1114.7L1269,1115.2L1270,1116L1273,1116L1274,1114.6L1275,1113.3L1278,1113.3L1279,1114.9L1280,1115.7L1283,1115.7L1284,1114.8L1285,1114.7L1287,1114.7L1288,1115L1289,1116.5L1292,1116.5L1293,1116.7L1294,1117.1L1297,1117.1L1298,1115.6L1299,1114.1L1302,1114.1L1303,1115.7L1304,1116.5L1307,1116.5L1308,1115.7L1309,1115.6L1311,1115.6L1312,1115.3L1313,1113.8L1316,1113.8L1317,1114.7L1318,1116.5L1321,1116.5L1322,1116.8L1323,1117.1L1326,1117.1L1327,1115.7L1328,1115L1331,1115L1332,1114.4L1333,1114.2L1336,1114.2L1337,1114L1340,1114L1341,1114.2L1342,1114.6L1345,1114.6L1346,1115.9L1347,1117.1L1350,1117.1L1351,1117L1355,1117L1356,1116.1L1357,1115.9L1359,1115.9L1360,1115.5L1361,1113.4L1364,1113.4L1365,1114.2L1366,1115.8L1369,1115.8L1370,1115.1L1371,1114.5L1374,1114.5L1375,1116L1376,1116.7L1381,1116.7L1383,1116.7L1384,1116.4L1385,1115.1L1388,1115.1L1389,1114.9L1390,1114.4L1393,1114.4L1394,1115.1L1395,1115.9L1398,1115.9L1399,1116.4L1400,1116.7L1403,1116.7L1404,1115.7L1405,1115.5L1407,1115.5L1408,1115.2L1409,1113.9L1412,1113.9L1413,1114.7L1414,1116.3L1417,1116.3L1418,1116.1L1419,1116L1427,1116L1428,1117L1429,1117.2L1431,1117.2L1432,1116.8L1433,1114.8L1436,1114.8L1437,1115.1L1438,1115.6L1439,1111L1440,1109.1L1441,1109L1442,1109.7L1443,1114.4L1444,1116.2L1446,1116.2L1447,1116.6L1448,1116.8L1451,1116.8L1452,1116.6L1455,1116.6L1456,1116.1L1457,1113.7L1460,1113.7L1461,1114.2L1462,1115.1L1465,1115.1L1466,1115.9L1467,1116.7L1470,1116.7L1471,1115.5L1472,1114.9L1475,1114.9L1476,1115.1L1479,1115.2L1480,1115.4L1481,1116.6L1484,1116.6L1485,1115.9L1486,1114.5L1489,1114.5L1490,1114.6L1491,1114.7L1494,1114.7L1495,1116.4L1496,1117.2L1499,1117.2L1500,1117.1L1503,1117.1L1504,1116.6L1505,1114.1L1508,1114.1L1509,1114L1510,1113.8L1513,1113.8L1514,1114.9L1515,1116L1518,1116L1519,1116.8L1520,1117.2L1527,1117.2L1528,1116.9L1529,1115.5L1532,1115.5L1533,1116.1L1534,1117.2L1537,1117.2L1538,1115.8L1539,1114.4L1542,1114.4L1543,1116L1544,1116.9L1547,1116.9L1548,1116L1549,1115.8L1551,1115.8L1552,1115.5L1553,1114.3L1556,1114.3L1557,1114.5L1558,1114.8L1561,1114.8L1562,1115L1563,1115.1L1571,1115.1L1572,1113.6L1573,1113.3L1575,1113.3L1576,1113.4L1577,1114.2L1580,1114.2L1581,1115.1L1582,1116.9L1585,1116.9L1586,1116.9L1587,1117L1590,1117L1591,1116.7L1592,1116.6L1595,1116.6L1596,1116.7L1604,1116.7L1605,1116L1606,1114.6L1609,1114.6L1610,1114.1L1611,1113.5L1614,1113.5L1615,1115.6L1616,1116.6L1617,1113L1618,1111.6L1619,1111.5L1620,1111.6L1621,1113L1622,1116.6L1623,1116.8L1624,1116.6L1625,1115.5L1628,1115.5L1629,1115.8L1630,1116.4L1633,1116.4L1634,1115.7L1635,1114.9L1638,1114.9L1639,1116.4L1640,1117.2L1643,1117.2L1644,1114.7L1645,1114.2L1647,1114.2L1648,1114.7L1649,1116.8L1652,1116.8L1653,1114.2L1654,1111.7L1655,1111.5L1656,1111.7L1657,1114.2L1658,1115.6L1659,1114.6L1662,1114.6L1663,1115.8L1664,1116.4L1667,1116.4L1668,1114L1669,1113.5L1676,1113.6L1677,1114.1L1678,1115.2L1681,1115.2L1682,1114.4L1683,1113.6L1686,1113.6L1687,1115.7L1688,1116.8L1691,1116.8L1692,1114L1693,1113.5L1695,1113.5L1696,1114L1697,1116.4L1700,1116.4L1701,1116.3L1702,1116L1705,1116L1706,1116.2L1707,1116.3L1710,1116.3L1711,1115.8L1712,1115.5L1715,1115.5L1716,1116.8L1717,1117.1L1719,1117.1L1720,1116.4L1721,1113.4L1724,1113.4L1725,1114.4L1726,1116.5L1729,1116.5L1730,1115.4L1731,1114.2L1734,1114.2L1735,1115.6L1736,1116.3L1739,1116.3L1740,1115.1L1741,1114.8L1743,1114.8L1744,1115.2L1745,1116.8L1748,1116.8L1749,1116.9L1750,1117L1753,1117L1754,1115.5L1755,1113.9L1758,1113.9L1759,1114.8L1760,1115.3L1763,1115.3L1764,1116.7L1765,1117L1767,1117L1768,1116.8L1769,1116L1772,1116L1773,1116.3L1774,1116.9L1779,1117L1782,1117L1783,1114.9L1784,1113.8L1787,1113.8L1788,1115.5L1789,1115.9L1792,1115.8L1793,1114.2L1794,1111.7L1795,1111.5L1796,1111.7L1797,1114.2L1798,1113.4L1801,1113.4L1802,1113.6L1803,1113.7L1806,1113.7L1807,1114L1808,1114.1L1811,1114.1L1812,1116.6L1813,1117.1L1820,1117L1821,1117L1822,1116.9L1825,1116.9L1826,1115.7L1827,1114.5L1830,1114.5L1831,1116.1L1832,1116.8L1835,1116.8L1836,1116.2L1837,1116.1L1839,1116.1L1840,1116.2L1841,1116.7L1844,1116.7L1845,1116.5L1846,1116.3L1849,1116.3L1850,1115.9L1851,1115.6L1854,1115.6L1855,1115.8L1856,1115.9L1859,1115.9L1860,1115.2L1861,1115L1864,1115L1865,1115.1L1868,1115.1L1869,1114.9L1870,1114.5L1873,1114.5L1874,1115.6L1875,1116.6L1878,1116.6L1879,1115.9L1880,1115.5L1883,1115.5L1884,1115.6L1887,1115.7L1888,1115.5L1889,1114.7L1892,1114.7L1893,1114.6L1894,1114.5L1897,1114.5L1898,1115L1899,1115.5L1902,1115.5L1903,1116L1904,1116.3L1907,1116.3L1908,1114.8L1909,1114.5L1911,1114.5L1912,1114.9L1913,1117L1916,1117L1917,1116.4L1918,1115.1L1921,1115.1L1922,1116L1923,1116.9L1926,1116.9L1927,1116.8L1931,1116.8L1932,1115.5L1933,1115.2L1935,1115.2L1936,1115.1L1937,1114.5L1940,1114.5L1941,1115.2L1942,1116.8L1945,1116.8L1946,1116.4L1947,1116.1L1950,1116.1L1951,1115.1L1952,1114.6L1955,1114.6L1956,1114.7L1959,1114.8L1960,1115.1L1961,1116.6L1964,1116.6L1965,1116.8L1966,1117L1969,1117L1970,1115.7L1971,1114.4L1974,1114.4L1975,1116.3L1976,1117.2L1977,1117.2L1978,1113.6L1979,1110.7L1980,1110.5L1981,1110.7L1982,1113.6L1983,1116.9L1984,1116.8L1985,1116.6L1989,1116.6L1990,1116.7L1993,1116.7L1994,1115.4L1995,1114.1L1998,1114.1L1999,1114.3L2000,1114.4L2003,1114.4L2004,1112.1L2005,1110.6L2006,1110.5L2007,1110.6L2008,1112.1L2009,1112.7L2010,1112.6L2011,1111.2L2012,1109.5L2013,1109.4L2014,1109.5L2015,1111.2L2016,1112.5L2017,1112.5L2018,1112.4L2019,1110.9L2020,1110.8L2021,1110.9L2022,1112.4L2023,1113.5L2024,1114.2L2025,1111.7L2026,1111.5L2027,1111.7L2028,1114.2L2029,1115.3L2031,1115.3L2032,1114.9L2033,1113.3L2034,1111.4L2035,1098.2L2036,1097.2L2037,1097.2L2038,1098.2L2039,1111.4L2040,1115.7L2041,1115.7L2042,1116.1L2043,1116.6L2046,1116.6L2047,1115.8L2048,1115.3L2051,1115.3L2052,1116.1L2053,1116.2L2055,1116.2L2056,1116.4L2057,1117L2060,1117L2061,1115.7L2062,1113.3L2065,1113.3L2066,1115.2L2067,1117.2L2070,1117.2L2071,1117.1L2072,1117L2075,1117L2076,1114.2L2077,1113.7L2080,1113.7L2081,1113.9L2084,1113.9L2085,1114.3L2086,1115.2L2089,1115.2L2090,1115.9L2091,1116.7L2094,1116.7L2095,1115.8L2096,1115.4L2099,1115.4L2100,1116.7L2101,1116.9L2103,1116.9L2104,1116.7L2105,1115.4L2108,1115.4L2109,1116L2110,1117L2113,1117L2114,1116.4L2115,1115.7L2118,1115.7L2119,1115.2L2120,1115L2123,1115L2124,1114.8L2127,1114.8L2128,1115.1L2129,1116.4L2132,1116.4L2133,1116L2134,1115L2137,1115L2138,1114.2L2139,1113.4L2142,1113.4L2143,1114.3L2144,1114.8L2147,1114.8L2148,1116L2149,1116.2L2151,1116.2L2152,1116.1L2153,1115.4L2156,1115.4L2157,1115.7L2158,1116.2L2161,1116.2L2162,1115L2163,1113.9L2166,1113.9L2167,1115.5L2167,1119.6Z" fill="#960606" stroke="#7a0808" stroke-width="0.9" stroke-linejoin="round"/>
<line x1="1241" y1="1119.6" x2="2167" y2="1119.6" stroke="#960606" stroke-width="3" />
<path d="M1241,1170.1L1241,1169.6L1244,1169.6L1245,1169.5L1246,1168.9L1250,1168.9L1251,1168.8L1254,1168.8L1255,1169L1256,1169.8L1260,1169.8L1261,1169.7L1265,1169.7L1266,1169.6L1270,1169.6L1271,1169.8L1274,1169.8L1275,1169.6L1276,1168.9L1280,1168.9L1281,1169L1285,1169L1286,1168.9L1289,1168.9L1290,1169.1L1291,1169.7L1295,1169.7L1296,1169.8L1299,1169.8L1300,1169.7L1301,1169.3L1305,1169.3L1306,1169.4L1309,1169.4L1310,1169.5L1311,1169.8L1315,1169.7L1316,1169.6L1320,1169.5L1321,1169.4L1324,1169.4L1325,1169.5L1326,1169.8L1334,1169.8L1335,1169.6L1336,1169L1339,1169L1340,1169.1L1341,1169.6L1350,1169.6L1351,1169.5L1354,1169.5L1355,1169.6L1356,1169.8L1360,1169.8L1361,1169.7L1365,1169.7L1366,1169.6L1369,1169.6L1370,1169.6L1371,1169.3L1375,1169.4L1376,1169.5L1380,1169.5L1381,1169.3L1384,1169.3L1385,1169.4L1386,1169.8L1394,1169.8L1395,1169.6L1396,1168.8L1399,1168.8L1400,1169L1401,1169.8L1404,1169.8L1405,1169.5L1406,1168.6L1409,1168.6L1410,1168.9L1411,1169.8L1414,1169.8L1415,1169.7L1416,1169.3L1420,1169.4L1421,1169.6L1429,1169.5L1430,1169.5L1431,1169.2L1434,1169.2L1435,1169.3L1436,1169.7L1440,1169.7L1441,1169.8L1443,1169.8L1444,1169.6L1445,1168.6L1446,1167.4L1447,1166.5L1448,1166.1L1449,1166L1451,1166L1452,1166.1L1453,1166.5L1454,1167.4L1455,1168.6L1456,1169.4L1459,1169.4L1460,1169.4L1461,1169.8L1464,1169.8L1465,1168.8L1466,1167.5L1467,1166.7L1468,1166.5L1470,1166.5L1471,1166.7L1472,1167.5L1473,1168.8L1474,1169L1475,1169.1L1476,1169.8L1482,1169.8L1483,1168.4L1484,1166.4L1485,1165.7L1486,1165.6L1487,1165.7L1488,1166.4L1489,1168.4L1490,1169.7L1491,1169.4L1494,1169.4L1495,1169.4L1496,1169.6L1499,1169.6L1500,1169.5L1501,1169.2L1504,1169.2L1505,1169.3L1506,1169.7L1510,1169.7L1511,1169.8L1514,1169.8L1515,1169.7L1516,1169.2L1520,1169.3L1521,1169.4L1524,1169.4L1525,1169.3L1526,1168.8L1529,1168.8L1530,1169L1531,1169.8L1535,1169.8L1536,1169.7L1539,1169.7L1540,1169.6L1541,1169L1545,1169L1546,1169.2L1549,1169.2L1550,1169.3L1551,1169.7L1564,1169.7L1565,1169.5L1566,1168.9L1569,1168.9L1570,1169L1571,1169.6L1575,1169.6L1576,1169.8L1579,1169.8L1580,1169.7L1581,1169.1L1584,1169.1L1585,1169.2L1586,1169.7L1590,1169.7L1591,1169.8L1595,1169.8L1596,1169.7L1604,1169.7L1605,1169.5L1606,1168.7L1609,1168.7L1610,1168.9L1611,1169.7L1612,1169.6L1613,1169L1614,1168L1615,1166.7L1616,1165.1L1617,1163.5L1618,1162.6L1619,1162.5L1620,1163.3L1621,1164.7L1622,1166.4L1623,1167.8L1624,1168.9L1625,1169.5L1629,1169.5L1630,1169.4L1631,1168.8L1634,1168.8L1635,1168.9L1636,1169.2L1639,1169.2L1640,1169.3L1641,1169.7L1644,1169.7L1645,1169.5L1646,1168.6L1649,1168.6L1650,1168.8L1651,1168.6L1652,1167.7L1653,1167.5L1654,1167.5L1655,1167.6L1656,1168.4L1657,1168.5L1659,1168.5L1660,1168.6L1661,1168.9L1664,1168.9L1665,1169L1666,1169.8L1669,1169.8L1670,1169.7L1671,1169.1L1674,1169.1L1675,1169.2L1676,1169.8L1684,1169.8L1685,1169.6L1686,1168.6L1689,1168.6L1690,1168.9L1691,1169.8L1694,1169.8L1695,1169.7L1696,1169.3L1699,1169.3L1700,1169.2L1701,1168.7L1704,1168.7L1705,1168.9L1706,1169.6L1710,1169.7L1711,1169.8L1715,1169.8L1716,1169.7L1720,1169.7L1721,1169.5L1724,1169.5L1725,1169.5L1726,1169.8L1734,1169.8L1735,1169.7L1736,1169.4L1739,1169.4L1740,1169.4L1741,1169.8L1744,1169.8L1745,1169.6L1746,1169L1749,1169L1750,1169.2L1751,1169.8L1755,1169.7L1756,1169.6L1760,1169.6L1761,1169.7L1762,1168.4L1763,1166.7L1764,1165.8L1765,1165.5L1767,1165.5L1768,1165.8L1769,1166.7L1770,1168.4L1771,1169.7L1775,1169.7L1784,1169.8L1785,1169.7L1786,1169.2L1789,1169.2L1790,1169.3L1791,1169.7L1794,1169.7L1795,1169.5L1796,1168.9L1799,1168.9L1800,1169.1L1801,1169.6L1804,1169.6L1805,1169.4L1806,1168.7L1809,1168.7L1810,1168.8L1811,1169.5L1814,1169.5L1815,1169.6L1816,1169.8L1819,1169.8L1820,1169.7L1821,1169.5L1824,1169.5L1825,1169.4L1826,1169L1829,1169L1830,1169.1L1831,1169.3L1834,1169.3L1835,1169.4L1836,1169.7L1840,1169.7L1841,1169.7L1845,1169.7L1846,1169.8L1849,1169.8L1850,1169.7L1851,1169.5L1855,1169.5L1856,1169.4L1859,1169.4L1860,1169.3L1861,1168.8L1864,1168.8L1865,1169L1866,1169.8L1879,1169.8L1880,1169.7L1881,1169.4L1885,1169.4L1886,1169.3L1889,1169.3L1890,1169.2L1891,1168.7L1895,1168.7L1896,1168.6L1899,1168.6L1900,1168.8L1901,1169.5L1904,1169.5L1905,1169.6L1906,1169.8L1909,1169.8L1910,1169.5L1911,1168.5L1914,1168.5L1915,1168.6L1916,1168.9L1919,1168.9L1920,1169L1921,1169.6L1924,1169.6L1925,1169.4L1926,1168.6L1929,1168.6L1930,1168.7L1931,1169.1L1939,1169.1L1940,1169L1941,1168.5L1944,1168.5L1945,1168.8L1946,1169.7L1950,1169.7L1951,1169.6L1954,1169.6L1955,1169.4L1956,1168.8L1964,1168.8L1965,1169L1966,1169.8L1969,1169.8L1970,1169.6L1971,1168.8L1974,1168.8L1975,1169L1976,1169.8L1979,1169.8L1980,1169.6L1981,1168.9L1982,1168.6L1983,1167.8L1984,1167.1L1985,1166.6L1986,1166.2L1987,1166.1L1988,1166L1992,1166L1993,1166.1L1994,1166.2L1995,1164.6L1996,1163.2L1997,1162.8L1999,1162.8L2000,1163.3L2001,1165L2002,1166.4L2003,1161.6L2004,1154.2L2005,1149.8L2006,1149L2007,1149.5L2008,1153L2009,1160.1L2010,1157.8L2011,1148.2L2012,1142.9L2013,1142.1L2014,1142.9L2015,1148.2L2016,1157.8L2017,1158.6L2018,1151.4L2019,1148L2020,1147.7L2021,1148.9L2022,1153.9L2023,1159.7L2024,1159L2025,1159L2026,1159.7L2027,1160.6L2028,1158.1L2029,1156.3L2030,1156.2L2031,1157.1L2032,1160.5L2033,1163.2L2034,1156.8L2035,1153.5L2036,1153L2037,1153.8L2038,1158L2039,1164.4L2040,1166L2041,1165.7L2042,1165.8L2043,1167.6L2044,1169.2L2045,1169.3L2046,1169.7L2049,1169.7L2050,1169.4L2051,1168.6L2054,1168.6L2055,1168.7L2056,1169.3L2059,1169.3L2060,1169.2L2061,1168.9L2064,1168.9L2065,1169L2066,1169.2L2069,1169.2L2070,1169.1L2071,1168.9L2074,1168.9L2075,1169L2076,1169.4L2079,1169.4L2080,1169.3L2081,1168.7L2085,1168.7L2086,1168.8L2089,1168.8L2090,1168.9L2091,1169.4L2094,1169.4L2095,1169.3L2096,1168.7L2099,1168.7L2100,1168.9L2101,1169.5L2105,1169.5L2106,1169.6L2110,1169.6L2111,1169.8L2120,1169.7L2121,1169.6L2125,1169.6L2126,1169.6L2130,1169.5L2131,1169.4L2135,1169.4L2136,1169.6L2140,1169.6L2141,1169.7L2150,1169.7L2151,1169.8L2154,1169.8L2155,1169.6L2156,1169L2160,1169L2161,1168.9L2164,1168.9L2165,1169L2166,1169.4L2167,1169.4L2167,1170.1Z" fill="#0c660c" stroke="#075007" stroke-width="0.9" stroke-linejoin="round"/>
<line x1="1241" y1="1170.1" x2="2167" y2="1170.1" stroke="#0c660c" stroke-width="2.5" />
<path d="M1241,1219.3L1241,1218.3L1244,1218.3L1245,1218.4L1246,1219L1254,1219L1255,1218.9L1256,1218.3L1260,1218.3L1261,1218.4L1265,1218.5L1266,1218.5L1269,1218.5L1270,1218.4L1271,1217.7L1274,1217.7L1275,1217.8L1276,1218.1L1279,1218.1L1280,1218L1281,1217.8L1285,1217.8L1286,1217.9L1289,1217.9L1290,1218.1L1291,1219L1294,1219L1295,1218.8L1296,1218.1L1299,1218.1L1300,1218.3L1301,1218.9L1305,1218.9L1306,1219L1310,1219L1311,1218.9L1315,1218.9L1316,1219L1324,1219L1325,1218.9L1326,1218.6L1329,1218.6L1330,1218.5L1331,1218.1L1340,1218.1L1341,1218L1345,1218L1346,1217.9L1349,1217.9L1350,1218.1L1351,1218.8L1355,1218.8L1356,1219L1359,1219L1360,1218.9L1361,1218.7L1364,1218.7L1365,1218.7L1366,1219L1370,1219L1371,1218.9L1374,1218.9L1375,1218.3L1376,1217.4L1377,1216.8L1378,1216.6L1379,1216.5L1381,1216.5L1382,1216.6L1383,1216.8L1384,1217.4L1385,1218.3L1390,1218.3L1391,1218.4L1394,1218.4L1395,1218.5L1396,1219L1401,1218.9L1410,1219L1411,1218.9L1414,1218.9L1415,1218.8L1416,1218.3L1419,1218.3L1420,1218.2L1421,1217.9L1424,1217.9L1425,1218.1L1426,1218.9L1435,1218.9L1436,1219L1439,1219L1440,1218.9L1441,1218.7L1444,1218.7L1445,1217.6L1446,1216.3L1447,1215.3L1448,1214.9L1449,1214.8L1451,1214.8L1452,1214.9L1453,1215.3L1454,1216.3L1455,1217.6L1456,1218.2L1459,1218.2L1460,1218.3L1461,1219L1464,1219L1465,1218.8L1466,1217.9L1467,1216.8L1468,1216L1469,1215.6L1470,1215.5L1472,1215.5L1473,1215.6L1474,1216L1475,1216.8L1476,1217.9L1477,1218.8L1478,1219L1482,1219L1483,1217.6L1484,1215.6L1485,1214.9L1486,1214.8L1487,1214.9L1488,1215.6L1489,1217.6L1490,1218.6L1491,1219L1494,1219L1495,1218.9L1496,1218.7L1500,1218.7L1501,1218.5L1504,1218.5L1505,1218.6L1506,1218.8L1509,1218.8L1510,1218.6L1511,1217.8L1514,1217.8L1515,1218L1516,1218.9L1519,1218.9L1520,1218.8L1521,1218.6L1522,1218.6L1523,1218.5L1524,1217.5L1525,1216.6L1526,1216.2L1527,1216L1530,1216L1531,1216.2L1532,1216.8L1533,1217.7L1534,1218.4L1535,1218.4L1536,1218.5L1539,1218.5L1540,1218.4L1541,1217.9L1544,1217.9L1545,1218.1L1546,1219L1555,1219L1556,1218.8L1560,1218.8L1561,1218.7L1564,1218.7L1565,1218.6L1566,1217.9L1569,1217.9L1570,1218.1L1571,1219L1574,1219L1575,1218.9L1576,1218.3L1585,1218.4L1586,1218.5L1590,1218.6L1591,1218.7L1594,1218.7L1595,1218.5L1596,1217.9L1599,1217.9L1600,1218.1L1601,1219L1611,1219L1612,1218.7L1613,1218L1614,1216.8L1615,1215.2L1616,1213.2L1617,1211.4L1618,1210.2L1619,1210.1L1620,1211.1L1621,1212.8L1622,1214.8L1623,1216.5L1624,1217.8L1625,1218.6L1626,1218.7L1628,1218.7L1629,1218.5L1630,1217.6L1631,1216.7L1632,1216.2L1633,1216L1636,1216L1637,1216.2L1638,1216.7L1639,1217.6L1640,1218.5L1641,1218.9L1644,1218.9L1645,1218.7L1646,1217.8L1649,1217.8L1650,1218L1651,1218.7L1655,1218.8L1656,1218.9L1660,1218.9L1661,1219L1664,1219L1665,1218.9L1666,1218.6L1674,1218.6L1675,1218.7L1676,1219L1679,1219L1680,1218.8L1681,1218.4L1684,1218.4L1685,1218.5L1686,1219L1689,1219L1690,1218.9L1691,1218.3L1694,1218.3L1695,1218.4L1696,1219L1699,1219L1700,1218.7L1701,1217.8L1704,1217.8L1705,1218L1706,1219L1709,1219L1710,1218.8L1711,1217.9L1714,1217.9L1715,1218L1716,1218.3L1720,1218.3L1721,1218.2L1724,1218.2L1725,1218.3L1726,1218.8L1729,1218.8L1730,1218.8L1731,1218.4L1739,1218.4L1740,1218.5L1741,1218.8L1744,1218.8L1745,1218.8L1746,1218.5L1749,1218.5L1750,1218.6L1751,1218.8L1755,1218.8L1756,1218.9L1759,1218.9L1760,1218.8L1761,1218.2L1764,1218.2L1765,1217.7L1766,1216.4L1767,1215.5L1768,1215.1L1769,1215L1771,1215L1772,1215.1L1773,1215.5L1774,1216.4L1775,1217.7L1776,1218.8L1777,1218.9L1779,1218.9L1780,1218.7L1781,1217.9L1784,1217.9L1785,1218.1L1786,1218.9L1790,1218.8L1791,1218.7L1794,1218.7L1795,1218.6L1796,1218.3L1799,1218.3L1800,1218.4L1801,1218.8L1804,1218.8L1805,1218.7L1806,1218.4L1809,1218.4L1810,1218.5L1811,1218.8L1815,1218.8L1816,1219L1824,1218.9L1825,1218.9L1826,1218.5L1829,1218.5L1830,1218.6L1831,1219L1834,1219L1835,1218.9L1836,1218.4L1839,1218.4L1840,1218.5L1841,1218.8L1844,1218.8L1845,1218.7L1846,1218.2L1849,1218.2L1850,1218.3L1851,1218.8L1855,1218.8L1856,1218.7L1859,1218.7L1860,1218.7L1861,1218.4L1865,1218.5L1866,1218.5L1870,1218.6L1871,1218.6L1875,1218.6L1876,1218.5L1879,1218.5L1880,1218.4L1881,1217.7L1884,1217.7L1885,1218L1886,1219L1889,1219L1890,1218.9L1891,1218.5L1894,1218.5L1895,1218.4L1896,1217.9L1900,1217.9L1901,1218L1904,1218L1905,1218.1L1906,1218.6L1910,1218.6L1911,1218.4L1914,1218.4L1915,1218.5L1916,1219L1919,1219L1920,1218.9L1921,1218.3L1924,1218.3L1925,1218.5L1926,1219L1930,1219L1931,1218.9L1939,1218.9L1940,1218.8L1941,1218.6L1944,1218.6L1945,1218.5L1946,1217.9L1949,1217.9L1950,1218.1L1951,1218.9L1954,1218.9L1955,1218.8L1956,1218.3L1959,1218.3L1960,1218.4L1961,1219L1964,1219L1965,1218.8L1966,1218L1969,1218L1970,1218.2L1971,1219L1974,1219L1975,1218.8L1976,1218.2L1977,1217.4L1978,1216.4L1979,1215.4L1980,1214.8L1981,1214.3L1982,1214.1L1983,1214L1987,1214L1988,1214.1L1989,1214.3L1990,1214.8L1991,1215.4L1992,1216.4L1993,1217.4L1994,1215.2L1995,1211.7L1996,1209.8L1997,1209.3L1998,1209.3L1999,1209.4L2000,1210L2001,1212.3L2002,1214.8L2003,1209.5L2004,1200.9L2005,1195.9L2006,1194.9L2007,1195.4L2008,1199.5L2009,1207.7L2010,1204.2L2011,1192.3L2012,1185.8L2013,1184.8L2014,1185.8L2015,1192.3L2016,1204.2L2017,1205.8L2018,1197.3L2019,1193.4L2020,1193L2021,1194.4L2022,1200.3L2023,1206.8L2024,1206L2025,1206L2026,1206.8L2027,1207.7L2028,1205.4L2029,1203.3L2030,1203.1L2031,1204.2L2032,1208.1L2033,1212.1L2034,1205.5L2035,1202L2036,1201.5L2037,1202.4L2038,1206.7L2039,1213.4L2040,1213L2041,1212.6L2042,1212.8L2043,1215.5L2044,1218.1L2045,1218.2L2046,1218.3L2049,1218.3L2050,1218.4L2051,1218.9L2054,1218.9L2055,1218.8L2056,1218.2L2059,1218.2L2060,1218.1L2061,1217.9L2064,1217.9L2065,1218.1L2066,1218.8L2070,1218.8L2071,1218.9L2075,1218.9L2076,1219L2079,1219L2080,1218.7L2081,1217.7L2084,1217.7L2085,1217.9L2086,1218.5L2089,1218.5L2090,1218.6L2091,1218.9L2094,1218.9L2095,1218.8L2096,1218.4L2100,1218.5L2101,1218.6L2104,1218.6L2105,1218.4L2106,1218L2109,1218L2110,1218.1L2111,1218.7L2114,1218.7L2115,1218.6L2116,1217.8L2119,1217.8L2120,1218L2121,1218.9L2125,1218.9L2126,1218.7L2129,1218.7L2130,1218.8L2131,1219L2134,1219L2135,1218.9L2136,1218.5L2139,1218.5L2140,1218.6L2141,1219L2144,1219L2145,1218.9L2146,1218.7L2150,1218.7L2151,1218.9L2160,1218.9L2161,1219L2164,1219L2165,1218.9L2166,1218.5L2167,1218.5L2167,1219.3Z" fill="#0c660c" stroke="#075007" stroke-width="0.9" stroke-linejoin="round"/>
<line x1="1241" y1="1219.3" x2="2167" y2="1219.3" stroke="#0c660c" stroke-width="2.5" />
<path d="M1241,1269.3L1241,1268.4L1244,1268.4L1245,1268.3L1246,1267.6L1249,1267.6L1250,1267.9L1251,1269L1255,1269L1256,1268.9L1259,1268.9L1260,1268.7L1261,1268L1264,1268L1265,1268L1266,1267.8L1269,1267.8L1270,1268L1271,1269L1274,1269L1275,1268.9L1276,1268.6L1279,1268.6L1280,1268.4L1281,1268L1285,1268L1286,1268.2L1289,1268.2L1290,1268.1L1291,1267.5L1296,1267.6L1299,1267.6L1300,1267.9L1301,1268.9L1305,1268.9L1306,1268.9L1309,1268.9L1310,1268.8L1311,1268.3L1314,1268.3L1315,1268.4L1316,1269L1320,1269L1321,1268.9L1324,1268.9L1325,1268.7L1326,1267.7L1329,1267.7L1330,1267.9L1331,1268.6L1334,1268.6L1335,1268.6L1336,1268.3L1339,1268.3L1340,1268.1L1341,1267.5L1345,1267.5L1346,1267.6L1349,1267.6L1350,1267.7L1351,1268.1L1354,1268.1L1355,1268.2L1356,1268.6L1359,1268.6L1360,1268.6L1361,1268.9L1364,1268.9L1365,1268.7L1366,1268L1369,1268L1370,1268.2L1371,1268.8L1375,1268.9L1376,1269L1379,1269L1380,1268.9L1381,1268.6L1384,1268.6L1385,1268.7L1386,1269L1389,1269L1390,1268.9L1391,1268.7L1395,1268.7L1396,1268.9L1405,1268.9L1406,1268.9L1409,1268.9L1410,1268.8L1411,1268.3L1414,1268.3L1415,1268.4L1416,1268.7L1420,1268.7L1421,1268.5L1424,1268.5L1425,1268.6L1426,1268.9L1429,1268.9L1430,1268.9L1431,1268.6L1435,1268.5L1436,1268.3L1439,1268.3L1440,1268.5L1441,1269L1445,1269L1446,1268.9L1448,1268.9L1449,1267.8L1450,1266L1451,1265.3L1453,1265.3L1454,1266L1455,1267.8L1456,1268.8L1460,1268.8L1461,1269L1464,1269L1465,1268.8L1466,1268L1468,1268L1469,1266.4L1470,1264.3L1471,1264L1472,1264.1L1473,1265.2L1474,1268.2L1475,1268.6L1476,1269L1480,1268.9L1481,1268.9L1484,1268.9L1485,1268.7L1486,1267.9L1489,1267.9L1490,1267.8L1491,1267.5L1494,1267.5L1495,1267.6L1496,1267.6L1497,1266.3L1498,1266L1499,1266L1500,1266.1L1501,1267L1502,1268.5L1503,1269L1504,1269L1505,1268.8L1506,1268L1509,1268L1510,1268.1L1511,1268.5L1514,1268.5L1515,1268.6L1516,1269L1520,1269L1521,1268.9L1522,1268.9L1523,1268.4L1524,1266.5L1525,1265.4L1526,1265.3L1527,1265.3L1528,1265.7L1529,1267.2L1530,1268.2L1531,1268.9L1534,1268.9L1535,1268.7L1536,1268L1540,1268.1L1541,1268.3L1546,1268.3L1549,1268.3L1550,1268.5L1551,1269L1554,1269L1555,1268.9L1556,1268.5L1559,1268.5L1560,1268.6L1561,1268.8L1565,1268.8L1566,1269L1579,1269L1580,1268.8L1581,1268.3L1584,1268.3L1585,1268.2L1586,1267.7L1589,1267.7L1590,1267.9L1591,1268.5L1594,1268.5L1595,1268.4L1596,1267.9L1599,1267.9L1600,1268.1L1601,1268.9L1609,1269L1610,1268.9L1611,1268.6L1613,1268.6L1614,1266.8L1615,1263.4L1616,1262.6L1617,1262.6L1618,1263.4L1619,1266.8L1620,1268.9L1621,1269L1628,1269L1629,1267.1L1630,1265L1631,1264.7L1632,1264.7L1633,1265.6L1634,1268.1L1635,1268.5L1636,1267.8L1639,1267.8L1640,1268L1641,1268.7L1645,1268.7L1646,1268.5L1649,1268.5L1650,1268.5L1651,1268.2L1655,1268.2L1656,1268.1L1660,1268.1L1661,1268L1664,1268L1665,1268.1L1666,1268.6L1670,1268.6L1671,1268.4L1679,1268.4L1680,1268.3L1681,1267.7L1684,1267.7L1685,1267.8L1686,1268.3L1689,1268.3L1690,1268.4L1691,1268.8L1694,1268.8L1695,1268.6L1696,1267.5L1699,1267.5L1700,1267.8L1701,1268.9L1704,1268.9L1705,1268.6L1706,1267.7L1709,1267.7L1710,1267.9L1711,1269L1719,1268.9L1720,1268.9L1721,1268.5L1724,1268.5L1725,1268.6L1726,1268.9L1731,1268.9L1732,1267.7L1733,1265.8L1734,1265.1L1735,1265L1736,1265.1L1737,1265.8L1738,1267.7L1739,1269L1741,1268.9L1744,1268.9L1745,1268.7L1746,1268L1749,1268L1750,1268.1L1751,1268.7L1754,1268.7L1755,1268.8L1756,1269L1759,1269L1760,1268.8L1761,1268.1L1763,1268.1L1764,1257.3L1765,1252.2L1766,1252L1767,1252L1768,1253.8L1769,1265.7L1770,1269L1771,1268.9L1774,1268.9L1775,1268.8L1776,1268.6L1777,1267.5L1778,1265.4L1779,1264.6L1780,1264.5L1781,1264.6L1782,1265.4L1783,1267.5L1784,1268.5L1785,1268.5L1786,1268.6L1790,1268.6L1791,1268.4L1794,1268.4L1795,1268.3L1796,1267.6L1799,1267.6L1800,1267.7L1801,1268.1L1804,1268.1L1805,1268.2L1806,1268.6L1810,1268.6L1811,1268.4L1814,1268.4L1815,1268.4L1816,1268.2L1819,1268.2L1820,1268.3L1821,1269L1824,1269L1825,1268.9L1826,1268.7L1830,1268.7L1831,1268.8L1835,1268.8L1836,1269L1844,1269L1845,1268.9L1846,1268.5L1849,1268.5L1850,1268.6L1851,1269L1854,1269L1855,1268.9L1856,1268.7L1859,1268.7L1860,1268.5L1861,1267.6L1864,1267.6L1865,1267.8L1866,1268.5L1869,1268.5L1870,1268.6L1871,1269L1874,1269L1875,1268.7L1876,1267.6L1879,1267.6L1880,1267.9L1881,1269L1890,1268.9L1891,1268.7L1901,1268.8L1904,1268.8L1905,1268.6L1906,1267.6L1909,1267.6L1910,1267.8L1911,1268.9L1915,1268.9L1916,1269L1924,1269L1925,1268.8L1926,1268.1L1929,1268.1L1930,1268.3L1931,1269L1934,1269L1935,1268.7L1936,1267.8L1939,1267.8L1940,1268L1941,1268.8L1945,1268.8L1946,1268.9L1949,1268.9L1950,1268.7L1951,1267.8L1954,1267.8L1955,1268L1956,1268.7L1959,1268.7L1960,1268.5L1961,1267.8L1965,1267.7L1966,1267.6L1969,1267.6L1970,1267.8L1971,1268.4L1975,1268.4L1976,1268.3L1979,1268.3L1980,1267.6L1981,1264.7L1982,1263.9L1983,1263.9L1984,1264.4L1985,1267L1986,1268L1989,1268L1990,1268.2L1991,1269L1994,1269L1995,1268.9L1996,1268.3L2000,1268.4L2001,1268.6L2003,1268.5L2004,1267.5L2005,1266.3L2006,1265.4L2007,1264.8L2008,1264.6L2009,1264.5L2011,1264.5L2012,1264.6L2013,1264.8L2014,1265.4L2015,1266.3L2016,1267.5L2017,1268.5L2018,1260L2019,1240.5L2020,1237.5L2021,1237.5L2022,1237.6L2023,1242.7L2024,1264.3L2025,1262.7L2026,1258.2L2027,1257.8L2028,1257.8L2029,1258.6L2030,1264.3L2031,1269L2033,1269L2034,1268.6L2035,1260.7L2036,1254.8L2037,1254.1L2038,1254.1L2039,1254.8L2040,1260.7L2041,1267.9L2044,1267.9L2045,1268.1L2046,1268.6L2049,1268.6L2050,1268.5L2051,1268L2054,1268L2055,1268.1L2056,1268.7L2059,1268.7L2060,1268.7L2061,1269L2064,1269L2065,1268.7L2066,1267.6L2069,1267.6L2070,1267.8L2071,1268.7L2074,1268.7L2075,1268.5L2076,1267.8L2079,1267.8L2080,1267.9L2081,1268.2L2084,1268.2L2085,1268.3L2086,1268.9L2089,1268.9L2090,1268.7L2091,1267.7L2094,1267.7L2095,1267.9L2096,1268.8L2104,1268.8L2105,1268.5L2106,1267.5L2109,1267.5L2110,1267.8L2111,1268.9L2114,1268.9L2115,1268.8L2116,1268.5L2119,1268.5L2120,1268.3L2121,1267.8L2124,1267.8L2125,1268L2126,1268.8L2129,1268.8L2130,1268.8L2131,1268.6L2134,1268.6L2135,1268.7L2136,1268.9L2141,1268.9L2144,1268.9L2145,1268.8L2146,1268.4L2150,1268.5L2151,1268.7L2154,1268.7L2155,1268.5L2156,1267.9L2159,1267.9L2160,1268.1L2161,1268.7L2164,1268.7L2165,1268.6L2166,1268.2L2167,1268.2L2167,1269.3Z" fill="#7626dc" stroke="#5e1cb0" stroke-width="0.9" stroke-linejoin="round"/>
<line x1="1241" y1="1269.3" x2="2167" y2="1269.3" stroke="#7626dc" stroke-width="2.6" />
<path d="M1241,1318.8L1241,1318.5L1244,1318.5L1245,1318.4L1246,1318L1249,1318L1250,1318.1L1251,1318.5L1255,1318.4L1256,1318.3L1265,1318.3L1266,1318.5L1280,1318.5L1281,1318.4L1285,1318.4L1286,1318.5L1289,1318.5L1290,1318.4L1291,1318.2L1294,1318.2L1295,1318.1L1296,1317.9L1299,1317.9L1300,1318L1301,1318.4L1309,1318.5L1310,1318.3L1311,1317.7L1314,1317.7L1315,1317.8L1316,1318.4L1317,1317.8L1318,1316.3L1319,1316L1320,1316L1321,1316.3L1322,1317.3L1324,1317.3L1325,1317.5L1326,1318.5L1339,1318.5L1340,1318.3L1341,1317.6L1344,1317.6L1345,1317.7L1346,1318.3L1349,1318.3L1350,1318.1L1351,1317.1L1354,1317.1L1355,1317.3L1356,1317.9L1359,1317.9L1360,1318L1361,1318.5L1370,1318.4L1371,1318.3L1375,1318.3L1376,1318.5L1380,1318.4L1381,1318.4L1384,1318.4L1385,1318.2L1386,1317.7L1389,1317.7L1390,1317.8L1391,1318.2L1394,1318.2L1395,1318.1L1396,1317.8L1399,1317.8L1400,1317.8L1401,1318.1L1405,1318.1L1406,1318.3L1410,1318.3L1411,1318.4L1419,1318.4L1420,1318.1L1421,1317.1L1424,1317.1L1425,1317.4L1426,1318.3L1434,1318.3L1435,1318.2L1436,1317.9L1439,1317.9L1440,1318L1441,1318.5L1445,1318.5L1446,1318.3L1448,1318.3L1449,1318.1L1450,1315.3L1451,1313.6L1452,1313.5L1453,1313.6L1454,1315.3L1455,1318.1L1456,1318.5L1459,1318.5L1460,1318.4L1461,1317.9L1464,1317.9L1465,1317.9L1466,1318.2L1468,1318.2L1469,1315.5L1470,1313.1L1471,1312.8L1472,1312.9L1473,1314.2L1474,1317.6L1475,1318.5L1479,1318.5L1480,1318.2L1481,1317.3L1484,1317.3L1485,1317.6L1486,1318.4L1489,1318.4L1490,1318.2L1491,1317.3L1494,1317.3L1495,1317.4L1496,1316.1L1497,1315.5L1498,1315.5L1499,1315.7L1500,1317.2L1501,1318.3L1505,1318.3L1506,1318.4L1515,1318.3L1516,1318.1L1519,1318.1L1520,1318L1521,1317.5L1525,1317.5L1526,1317.6L1529,1317.6L1530,1317.8L1531,1318.3L1535,1318.3L1536,1318.2L1539,1318.2L1540,1318.1L1541,1317.7L1544,1317.7L1545,1317.9L1546,1318.4L1554,1318.4L1555,1318.3L1556,1318L1559,1318L1560,1317.9L1561,1317.7L1564,1317.7L1565,1317.8L1566,1318.2L1569,1318.2L1570,1318.3L1571,1318.5L1574,1318.5L1575,1318.3L1576,1317.4L1579,1317.4L1580,1317.6L1581,1318.5L1584,1318.5L1585,1318.4L1586,1318.2L1590,1318.2L1591,1318.3L1595,1318.3L1596,1318.5L1599,1318.5L1600,1318.3L1601,1317.4L1604,1317.4L1605,1317.5L1606,1318.1L1609,1318.1L1610,1318.1L1611,1318.5L1613,1318.5L1614,1317.2L1615,1315L1616,1314.5L1617,1314.5L1618,1315L1619,1317.2L1620,1318.5L1628,1318.5L1629,1315.5L1630,1312.5L1631,1312L1632,1312L1633,1313.3L1634,1317.1L1635,1318.2L1639,1318.2L1640,1318L1641,1317.2L1644,1317.2L1645,1317.4L1646,1318.3L1650,1318.4L1651,1318.5L1654,1318.5L1655,1318.3L1656,1317.5L1659,1317.5L1660,1317.7L1661,1318.3L1665,1318.3L1666,1318.4L1670,1318.4L1671,1318.5L1675,1318.5L1676,1318.4L1679,1318.4L1680,1318.2L1681,1317.4L1684,1317.4L1685,1317.5L1686,1317.9L1689,1317.9L1690,1317.8L1691,1317.4L1694,1317.4L1695,1317.4L1696,1317.2L1700,1317.2L1701,1317.4L1704,1317.4L1705,1317.5L1706,1317.8L1709,1317.8L1710,1317.9L1711,1318.5L1721,1318.4L1724,1318.4L1725,1318.2L1726,1317.5L1729,1317.5L1730,1317.6L1731,1318.3L1735,1318.3L1736,1318.5L1737,1317.4L1738,1315.7L1739,1315L1741,1315L1742,1315.7L1743,1317.4L1744,1318.5L1745,1318.5L1746,1318.4L1749,1318.4L1750,1318.3L1751,1317.7L1754,1317.7L1755,1317.8L1756,1318.2L1763,1318.2L1764,1308.5L1765,1304.1L1766,1304L1767,1304L1768,1305.5L1769,1315.7L1770,1318.2L1771,1317L1774,1317L1775,1317.1L1776,1317.6L1779,1317.6L1780,1317.8L1781,1318.4L1785,1318.4L1786,1318.3L1789,1318.3L1790,1318.2L1791,1318L1794,1318L1795,1318.1L1796,1318.4L1804,1318.4L1805,1318.3L1806,1317.9L1810,1318L1811,1318.2L1814,1318.2L1815,1318L1816,1317.2L1821,1317.1L1825,1317.2L1826,1317.3L1829,1317.3L1830,1317.5L1831,1317.9L1834,1317.9L1835,1318L1836,1318.5L1840,1318.5L1841,1318.4L1845,1318.4L1846,1318.5L1854,1318.5L1855,1318.3L1856,1317.5L1860,1317.6L1861,1317.8L1865,1317.8L1866,1318L1869,1318L1870,1318.1L1871,1318.4L1874,1318.4L1875,1318.2L1876,1317.2L1879,1317.2L1880,1317.3L1881,1317.6L1884,1317.6L1885,1317.5L1886,1317.1L1889,1317.1L1890,1317.4L1891,1318.4L1901,1318.5L1910,1318.5L1911,1318.4L1914,1318.4L1915,1318.2L1916,1317.6L1920,1317.7L1921,1317.8L1925,1317.9L1926,1318L1929,1318L1930,1318.1L1931,1318.3L1934,1318.3L1935,1318.2L1936,1317.5L1939,1317.5L1940,1317.6L1941,1317.8L1944,1317.8L1945,1317.9L1946,1318.4L1950,1318.4L1951,1318.5L1954,1318.5L1955,1318.2L1956,1317.1L1959,1317.1L1960,1317.3L1961,1318.1L1964,1318.1L1965,1318.2L1966,1318.5L1974,1318.5L1975,1318.3L1976,1317.3L1979,1317.3L1980,1317.2L1981,1314.3L1982,1313.5L1983,1313.5L1984,1314L1985,1316.5L1986,1318.4L1989,1318.4L1990,1318.3L1991,1318L1994,1318L1995,1317.9L1996,1317.4L1999,1317.4L2000,1317.5L2001,1317.8L2003,1317.8L2004,1317.1L2005,1316L2006,1315L2007,1314.5L2008,1314.3L2009,1314.2L2011,1314.2L2012,1314.3L2013,1314.5L2014,1315L2015,1316L2016,1317.1L2017,1317.2L2018,1309L2019,1288.3L2020,1285.2L2021,1285.2L2022,1285.3L2023,1290.7L2024,1313.5L2025,1311.8L2026,1307L2027,1306.6L2028,1306.6L2029,1307.5L2030,1313.5L2031,1317.3L2034,1317.3L2035,1310.1L2036,1304.2L2037,1303.5L2038,1303.5L2039,1304.2L2040,1310.1L2041,1318.1L2042,1318.3L2045,1318.2L2046,1318.1L2055,1318.2L2056,1318.3L2059,1318.3L2060,1318.2L2061,1317.8L2064,1317.8L2065,1317.9L2066,1318.3L2069,1318.3L2070,1318.1L2071,1317.3L2074,1317.3L2075,1317.4L2076,1317.8L2079,1317.8L2080,1317.9L2081,1318.5L2089,1318.5L2090,1318.3L2091,1317.4L2094,1317.4L2095,1317.6L2096,1318.2L2099,1318.2L2100,1318.2L2101,1318.4L2104,1318.4L2105,1318.3L2106,1317.8L2115,1317.8L2116,1317.7L2119,1317.7L2120,1317.8L2121,1318.4L2124,1318.4L2125,1318.1L2126,1317L2129,1317L2130,1317.3L2131,1318.5L2136,1318.4L2145,1318.4L2146,1318.5L2154,1318.5L2155,1318.4L2156,1317.9L2160,1317.9L2161,1318L2164,1318L2165,1318.1L2166,1318.5L2167,1318.5L2167,1318.8Z" fill="#7626dc" stroke="#5e1cb0" stroke-width="0.9" stroke-linejoin="round"/>
<line x1="1241" y1="1318.8" x2="2167" y2="1318.8" stroke="#7626dc" stroke-width="2.6" />
<path d="M1241,1363.6L1241,1361.9L1245,1361.9L1246,1361.3L1247,1360.9L1250,1360.9L1251,1361.2L1252,1362L1256,1362L1257,1362.2L1258,1362.3L1261,1362.3L1262,1362.4L1263,1362.8L1267,1362.8L1268,1362.7L1272,1362.6L1273,1362L1274,1360.2L1278,1360.2L1279,1361.2L1280,1361.7L1283,1361.7L1284,1361.6L1285,1361.3L1289,1361.3L1290,1362.2L1291,1362.7L1294,1362.7L1295,1362.6L1296,1362.3L1300,1362.3L1301,1362L1302,1361.9L1305,1361.9L1306,1361.8L1307,1361.5L1311,1361.5L1312,1361.8L1313,1362L1316,1362L1317,1362.1L1318,1362.3L1322,1362.3L1323,1362.1L1324,1362L1327,1362L1328,1361.8L1329,1361.2L1333,1361.2L1334,1361.5L1335,1361.6L1339,1361.6L1340,1361.7L1344,1361.7L1345,1362.4L1346,1362.8L1349,1362.8L1350,1362.7L1351,1362.4L1355,1362.4L1356,1362.6L1357,1362.7L1362,1362.8L1366,1362.8L1367,1362.5L1368,1362.3L1372,1362.2L1373,1362.1L1377,1362.1L1378,1361.8L1379,1361.6L1382,1361.6L1383,1361.3L1384,1360.8L1388,1360.8L1389,1360.5L1390,1360.4L1399,1360.4L1400,1361.7L1401,1362.5L1404,1362.5L1405,1362.6L1406,1362.8L1410,1362.8L1411,1361.4L1412,1360.6L1415,1360.6L1416,1361.2L1417,1362.7L1421,1362.7L1422,1361.2L1423,1360.4L1426,1360.4L1427,1360.6L1428,1361.3L1432,1361.3L1433,1362.1L1434,1362.5L1437,1362.5L1438,1362.3L1439,1361.7L1443,1361.7L1444,1360.9L1445,1360.4L1448,1360.4L1449,1359.1L1450,1359L1451,1359.1L1452,1360.5L1453,1362.8L1454,1362.8L1455,1362.4L1456,1362.2L1459,1362.2L1460,1362.4L1461,1362.8L1465,1362.8L1466,1362.3L1467,1362.1L1470,1362.1L1471,1362.2L1472,1362.7L1481,1362.8L1482,1362.2L1483,1360.8L1487,1360.8L1488,1361.3L1489,1361.7L1492,1361.7L1493,1361.9L1494,1362.6L1498,1362.6L1499,1361.4L1500,1360.7L1503,1360.7L1504,1361L1505,1361.7L1509,1361.7L1510,1361.8L1511,1361.8L1514,1361.8L1515,1361.7L1516,1361.5L1520,1361.5L1521,1362.3L1522,1362.8L1525,1362.8L1526,1362.7L1527,1362.5L1536,1362.5L1537,1362.4L1538,1362.2L1542,1362.2L1543,1362.1L1544,1362.1L1547,1362.1L1548,1361.9L1549,1361.6L1553,1361.6L1554,1362.3L1555,1362.7L1558,1362.7L1559,1362.6L1560,1362.1L1564,1362.1L1565,1360.9L1566,1360.2L1569,1360.2L1570,1360.3L1571,1360.5L1575,1360.5L1576,1361.6L1577,1362.2L1580,1362.2L1581,1362.3L1582,1362.6L1586,1362.6L1587,1362.7L1591,1362.7L1592,1362.4L1593,1361.6L1597,1361.6L1598,1362.4L1599,1362.8L1608,1362.8L1609,1361.2L1610,1360.3L1613,1360.3L1614,1360.9L1615,1362.5L1624,1362.5L1625,1362.6L1626,1362.7L1630,1362.7L1631,1362.1L1632,1361.8L1635,1361.8L1636,1362L1637,1362.8L1641,1362.8L1642,1361.3L1643,1360.5L1646,1360.5L1647,1361L1648,1362.4L1652,1362.4L1653,1362.5L1654,1362.6L1657,1362.6L1658,1362.4L1659,1361.6L1663,1361.6L1664,1362.1L1665,1362.4L1669,1362.5L1670,1362.5L1674,1362.5L1675,1361.7L1676,1361.3L1679,1361.3L1680,1361L1681,1360.3L1685,1360.3L1686,1361.7L1687,1362.6L1690,1362.6L1691,1362.2L1692,1361.1L1696,1361.1L1697,1362.1L1698,1362.6L1702,1362.6L1703,1362.5L1707,1362.5L1708,1361.7L1709,1361.2L1712,1361.2L1713,1361.3L1714,1361.6L1718,1361.6L1719,1362.2L1720,1362.5L1723,1362.5L1724,1362.1L1725,1361L1734,1361L1735,1361.4L1736,1362.4L1745,1362.4L1746,1362.5L1747,1362.7L1751,1362.7L1752,1362.5L1753,1362.4L1756,1362.4L1757,1362L1758,1361L1762,1361L1763,1362.2L1764,1362.8L1767,1362.8L1768,1362.1L1769,1360.4L1773,1360.4L1774,1361L1775,1361.4L1778,1361.4L1779,1361.7L1780,1362.6L1784,1362.6L1785,1362.2L1786,1362L1789,1362L1790,1362.2L1791,1362.8L1795,1362.8L1796,1362.7L1797,1362.6L1801,1362.6L1802,1362.5L1806,1362.5L1807,1361.4L1808,1360.8L1811,1360.8L1812,1361.1L1813,1362L1817,1362L1818,1361.3L1819,1360.9L1822,1360.9L1823,1361.4L1824,1362.6L1828,1362.6L1829,1362.3L1830,1362.1L1833,1362.1L1834,1361.9L1835,1361.2L1839,1361.2L1840,1360.9L1841,1360.7L1844,1360.7L1845,1361.2L1846,1362.7L1850,1362.7L1851,1361.8L1852,1361.3L1855,1361.3L1856,1361.4L1857,1361.6L1861,1361.6L1862,1361.8L1863,1361.8L1866,1361.8L1867,1362.1L1868,1362.8L1877,1362.8L1878,1362.7L1879,1362.5L1883,1362.5L1884,1361.6L1885,1361.1L1888,1361.1L1889,1361.5L1890,1362.5L1894,1362.5L1895,1362.3L1896,1362.2L1899,1362.2L1900,1361.7L1901,1360.4L1905,1360.4L1906,1361.4L1907,1362L1910,1362L1911,1362.2L1912,1362.8L1916,1362.8L1917,1362L1918,1361.5L1921,1361.5L1922,1361.4L1923,1361.2L1927,1361.2L1928,1361.5L1929,1361.7L1932,1361.7L1933,1361.9L1934,1362.5L1938,1362.5L1939,1361.8L1940,1361.3L1949,1361.3L1950,1362.2L1951,1362.8L1965,1362.8L1966,1362.6L1967,1362L1971,1362L1972,1361.7L1973,1361.6L1976,1361.6L1977,1361.5L1978,1361.3L1982,1361.3L1983,1362L1984,1362.4L1987,1362.4L1988,1362.1L1989,1361.1L1993,1361.1L1994,1362L1995,1362.5L1999,1362.5L2000,1362.6L2004,1362.6L2005,1362.4L2006,1362.3L2007,1362.1L2008,1360.2L2009,1359.6L2010,1359.5L2011,1359.6L2012,1360.2L2013,1362.1L2014,1362.6L2015,1362.6L2016,1362.1L2017,1361.8L2020,1361.8L2021,1362L2022,1362.6L2026,1362.6L2027,1362.1L2028,1361.8L2031,1361.8L2032,1361.4L2033,1360.4L2034,1360.4L2035,1354.4L2036,1353.2L2037,1353.2L2038,1353.5L2039,1358.8L2040,1360.5L2042,1360.5L2043,1361L2044,1362.6L2048,1362.6L2049,1362.3L2050,1362L2053,1362L2054,1362.2L2055,1362.5L2059,1362.5L2060,1362.1L2061,1361.9L2064,1361.9L2065,1362.2L2066,1362.8L2070,1362.8L2071,1362.7L2072,1362.6L2076,1362.7L2077,1362.7L2081,1362.7L2082,1362.5L2083,1362.4L2086,1362.4L2087,1362L2088,1361L2092,1361L2093,1360.7L2094,1360.5L2097,1360.5L2098,1360.7L2099,1361.3L2103,1361.3L2104,1361.7L2105,1362L2108,1362L2109,1361.8L2110,1361.2L2114,1361.2L2115,1362.1L2116,1362.6L2119,1362.6L2120,1362.6L2121,1362.8L2125,1362.8L2126,1362.2L2127,1361.8L2130,1361.8L2131,1361.5L2132,1360.6L2136,1360.6L2137,1361.8L2138,1362.4L2141,1362.4L2142,1362.3L2143,1362.1L2147,1362.1L2148,1362.4L2149,1362.7L2152,1362.7L2153,1362.1L2154,1360.5L2158,1360.5L2159,1361.1L2160,1361.5L2163,1361.5L2164,1361.6L2165,1362.1L2167,1362.1L2167,1363.6Z" fill="#960606" stroke="#7a0808" stroke-width="0.9" stroke-linejoin="round"/>
<line x1="1241" y1="1363.6" x2="2167" y2="1363.6" stroke="#960606" stroke-width="2.6" />
<path d="M1241,1413.2L1241,1411.2L1245,1411.2L1246,1411.8L1247,1412.2L1251,1412.1L1252,1412L1256,1412L1257,1411.8L1258,1411.6L1261,1411.6L1262,1411L1263,1409.3L1272,1409.2L1273,1410L1274,1412L1278,1412L1279,1412L1283,1412.1L1284,1411.8L1285,1411L1289,1411L1290,1410L1291,1409.3L1294,1409.3L1295,1409.9L1296,1411.2L1300,1411.2L1301,1411.8L1302,1412.2L1305,1412.2L1306,1411.8L1307,1410.7L1311,1410.7L1312,1411L1313,1411.1L1316,1411.1L1317,1411.1L1318,1410.9L1322,1410.9L1323,1411.7L1324,1412.1L1327,1412.1L1328,1412.1L1329,1411.8L1333,1411.8L1334,1410.6L1335,1409.8L1338,1409.8L1339,1410.5L1340,1412.2L1344,1412.2L1345,1412L1346,1411.8L1349,1411.8L1350,1411.8L1351,1411.6L1355,1411.6L1356,1411.8L1357,1411.9L1360,1411.9L1361,1411.9L1362,1412.1L1366,1412.1L1367,1411.6L1368,1411.3L1371,1411.3L1372,1410.8L1373,1409.5L1377,1409.5L1378,1411.2L1379,1412.2L1382,1412.2L1383,1411.4L1384,1409.5L1388,1409.5L1389,1410.7L1390,1411.4L1393,1411.4L1394,1411.5L1395,1411.9L1399,1411.9L1400,1411.1L1401,1410.6L1410,1410.7L1411,1411.1L1412,1411.3L1415,1411.3L1416,1411.5L1417,1412L1421,1412L1422,1411.8L1423,1411.7L1426,1411.7L1427,1411.4L1428,1410.5L1432,1410.5L1433,1411L1434,1411.3L1437,1411.3L1438,1411.2L1439,1410.9L1443,1410.9L1444,1410.5L1445,1410.2L1446,1410.1L1447,1406.9L1448,1405.9L1449,1405.8L1450,1405.9L1451,1407.4L1452,1410.6L1454,1410.6L1455,1411L1456,1411.3L1459,1411.3L1460,1410.8L1461,1409.4L1465,1409.4L1466,1410.9L1467,1411.8L1470,1411.8L1471,1411.9L1472,1412.1L1478,1412.2L1481,1412.2L1482,1412.1L1483,1411.9L1487,1411.9L1488,1410.9L1489,1410.2L1492,1410.2L1493,1410.8L1494,1412.2L1503,1412.2L1504,1412L1505,1411.3L1509,1411.3L1510,1411.7L1511,1411.9L1514,1411.9L1515,1412L1516,1412.1L1520,1412.1L1521,1411.8L1522,1411.6L1525,1411.6L1526,1411.1L1527,1409.6L1531,1409.6L1532,1411.2L1533,1412L1536,1412L1537,1411.9L1538,1411.4L1542,1411.4L1543,1411.5L1544,1411.6L1548,1411.6L1549,1411.7L1553,1411.7L1554,1410.8L1555,1410.4L1557,1410.4L1558,1409.7L1559,1408.1L1560,1408L1561,1408.1L1562,1409.7L1563,1411L1564,1411L1565,1411.5L1566,1411.8L1569,1411.8L1570,1411.7L1571,1411.5L1575,1411.5L1576,1411.4L1580,1411.4L1581,1411.3L1582,1411.1L1586,1411.1L1587,1411.6L1588,1412L1592,1412L1593,1412.1L1597,1412.1L1598,1411.1L1599,1410.5L1602,1410.5L1603,1410.9L1604,1412.1L1608,1412.1L1609,1411.6L1610,1411.3L1613,1411.3L1614,1411.1L1615,1410.7L1619,1410.7L1620,1410.5L1621,1410.4L1625,1410.4L1626,1410.5L1630,1410.5L1631,1411.4L1632,1411.8L1635,1411.8L1636,1411.9L1637,1412.1L1641,1412.1L1642,1411.2L1643,1410.6L1646,1410.6L1647,1411L1648,1412.1L1652,1412.1L1653,1411.4L1654,1411L1657,1411L1658,1411L1659,1410.8L1663,1410.8L1664,1411.6L1665,1412.1L1668,1412.1L1669,1412L1670,1411.9L1674,1411.9L1675,1411.7L1676,1411.6L1679,1411.6L1680,1411.2L1681,1410.1L1685,1410.1L1686,1410.2L1687,1410.3L1690,1410.3L1691,1410.8L1692,1411.9L1696,1411.9L1697,1411L1698,1410.4L1701,1410.4L1702,1410.9L1703,1412.2L1712,1412.2L1713,1411.5L1714,1409.7L1718,1409.7L1719,1409.9L1720,1409.9L1723,1409.9L1724,1410.5L1725,1412.1L1729,1412.1L1730,1411L1731,1410.4L1735,1410.3L1736,1410.3L1740,1410.3L1741,1410.9L1742,1411.3L1745,1411.3L1746,1411L1747,1410.2L1751,1410.2L1752,1411L1753,1411.5L1756,1411.5L1757,1411.2L1758,1410.5L1762,1410.5L1763,1410.8L1764,1411L1767,1411L1768,1411.3L1769,1412.1L1773,1412.1L1774,1412L1775,1411.9L1778,1411.9L1779,1411.6L1780,1410.7L1784,1410.7L1785,1411L1786,1411.2L1789,1411.2L1790,1411.5L1791,1412.2L1792,1412.2L1793,1410.4L1794,1409.1L1795,1409L1796,1409.1L1797,1410.4L1798,1411.2L1800,1411.2L1801,1411.1L1802,1410.9L1806,1410.9L1807,1411.7L1808,1412.1L1811,1412.1L1812,1412L1813,1411.5L1817,1411.5L1818,1411.9L1819,1412.1L1828,1412.2L1829,1411.8L1830,1411.6L1833,1411.6L1834,1411.4L1835,1411.1L1839,1411.1L1840,1410.1L1841,1409.6L1844,1409.6L1845,1409.9L1846,1410.9L1850,1410.9L1851,1411.2L1852,1411.4L1861,1411.4L1862,1411.6L1863,1411.6L1866,1411.6L1867,1411.4L1868,1410.6L1872,1410.6L1873,1409.8L1874,1409.4L1877,1409.4L1878,1410.1L1879,1412L1883,1412L1884,1412.1L1885,1412.2L1889,1412.2L1890,1412.1L1894,1412.1L1895,1410.7L1896,1409.9L1899,1409.9L1900,1410.2L1901,1410.9L1907,1411L1916,1411L1917,1411.7L1918,1412.2L1927,1412.1L1928,1410.7L1929,1409.8L1932,1409.8L1933,1410L1934,1410.4L1938,1410.4L1939,1411.5L1940,1412.2L1949,1412.2L1950,1412L1951,1411.9L1954,1411.9L1955,1411.4L1956,1410.1L1960,1410.1L1961,1409.9L1962,1409.8L1965,1409.8L1966,1410.4L1967,1412.1L1971,1412.1L1972,1411.9L1973,1411.8L1976,1411.8L1977,1411.3L1978,1410.2L1982,1410.2L1983,1409.9L1984,1409.6L1987,1409.6L1988,1409.9L1989,1410.7L1993,1410.7L1994,1410.5L1995,1410.5L1998,1410.5L1999,1410.8L2000,1411.8L2004,1411.8L2005,1410.6L2006,1409.9L2009,1409.9L2010,1410.2L2011,1411.1L2014,1411.1L2015,1410.9L2016,1408.1L2017,1407.1L2018,1407L2019,1407.1L2020,1408.1L2021,1410.9L2022,1411.9L2026,1411.9L2027,1411.5L2028,1411.3L2031,1411.3L2032,1411.1L2033,1410.6L2034,1410.6L2035,1403.2L2036,1401.8L2037,1401.8L2038,1402.1L2039,1407.9L2040,1412.2L2042,1412.2L2043,1412L2044,1411.4L2048,1411.4L2049,1411.1L2050,1411L2054,1411L2055,1411.1L2059,1411.1L2060,1411L2061,1410.9L2064,1410.9L2065,1411.2L2066,1412.1L2070,1412.1L2071,1412.2L2075,1412.2L2076,1412L2077,1411.6L2081,1411.6L2082,1410.6L2083,1409.9L2086,1409.9L2087,1410.5L2088,1412.1L2092,1412.1L2093,1411.7L2094,1411.4L2097,1411.4L2098,1411.6L2099,1412.2L2103,1412.2L2104,1412L2105,1411.9L2108,1411.9L2109,1411.8L2110,1411.6L2114,1411.6L2115,1411.9L2116,1412.1L2119,1412.1L2120,1412L2121,1411.9L2125,1411.9L2126,1411.8L2131,1411.8L2132,1411.8L2136,1411.8L2137,1412L2138,1412.1L2141,1412.1L2142,1411.5L2143,1410L2147,1410L2148,1410.2L2149,1410.2L2152,1410.2L2153,1410.1L2154,1409.9L2158,1409.9L2159,1410.1L2160,1410.2L2163,1410.2L2164,1410.5L2165,1411.5L2167,1411.5L2167,1413.2Z" fill="#960606" stroke="#7a0808" stroke-width="0.9" stroke-linejoin="round"/>
<line x1="1241" y1="1413.2" x2="2167" y2="1413.2" stroke="#960606" stroke-width="2.6" />
<rect x="1458" y="1443.8" width="3.6" height="16.2" rx="1.8" fill="#0d5a0d"/>
<rect x="293.2" y="1475.2" width="19.3" height="10.2" fill="#000" />
<text transform="translate(234.2,1520.6) scale(1,1.04)" font-size="31" fill="#000" text-anchor="middle" >LINC02035</text>
<line x1="357" y1="1490.4" x2="692.8" y2="1490.4" stroke="#000" stroke-width="2.2" />
<rect x="357.1" y="1485.2" width="22.3" height="9.8" fill="#000" />
<rect x="392.6" y="1485.2" width="8.7" height="9.8" fill="#000" />
<rect x="404.7" y="1485.2" width="11.2" height="9.8" fill="#000" />
<rect x="440.9" y="1484.8" width="4.2" height="11" fill="#000" />
<rect x="452.3" y="1484.8" width="4.2" height="11" fill="#000" />
<rect x="466.8" y="1484.8" width="4.2" height="11" fill="#000" />
<rect x="502.2" y="1484.8" width="4.2" height="11" fill="#000" />
<polygon points="539.6,1490.4 546.2,1486.3 546.2,1494.5" fill="#000" />
<polygon points="574.1,1490.4 580.7,1486.3 580.7,1494.5" fill="#000" />
<polygon points="609.6,1490.4 616.2,1486.3 616.2,1494.5" fill="#000" />
<polygon points="645.1,1490.4 651.7,1486.3 651.7,1494.5" fill="#000" />
<polygon points="680.6,1490.4 687.2,1486.3 687.2,1494.5" fill="#000" />
<rect x="689.5" y="1486.8" width="3.5" height="7.2" fill="#000" />
<text transform="translate(536,1519) scale(1,1.04)" font-size="31" fill="#000" text-anchor="middle" >SEMA5B</text>
<line x1="800" y1="1480.7" x2="1069.2" y2="1480.7" stroke="#000" stroke-width="2.2" />
<rect x="798.5" y="1475.5" width="4.2" height="10.4" fill="#000" />
<rect x="861.9" y="1475.5" width="4.2" height="10.4" fill="#000" />
<rect x="870.6" y="1475.5" width="4.2" height="10.4" fill="#000" />
<rect x="899.2" y="1475.5" width="4.2" height="10.4" fill="#000" />
<rect x="911.2" y="1475.5" width="4.2" height="10.4" fill="#000" />
<rect x="922.9" y="1475.5" width="4.2" height="10.4" fill="#000" />
<rect x="937.9" y="1475.5" width="4.2" height="10.4" fill="#000" />
<rect x="960.2" y="1475.5" width="4.2" height="10.4" fill="#000" />
<rect x="1021" y="1475.5" width="4.2" height="10.4" fill="#000" />
<rect x="1033.2" y="1475.5" width="4.2" height="10.4" fill="#000" />
<rect x="1046.8" y="1475.5" width="4.2" height="10.4" fill="#000" />
<rect x="1065.2" y="1475.5" width="4.2" height="10.4" fill="#000" />
<polygon points="813.7,1480.7 805.9,1475.8 805.9,1485.6" fill="#000" />
<polygon points="849.5,1480.7 841.7,1475.8 841.7,1485.6" fill="#000" />
<polygon points="884.4,1480.7 876.6,1475.8 876.6,1485.6" fill="#000" />
<polygon points="954.1,1480.7 946.3,1475.8 946.3,1485.6" fill="#000" />
<polygon points="1060.6,1480.7 1052.8,1475.8 1052.8,1485.6" fill="#000" />
<polygon points="991.2,1480.7 981.3,1474.5 981.3,1486.9" fill="#000" />
<text transform="translate(943.4,1520.6) scale(1,1.04)" font-size="31" fill="#000" text-anchor="middle" >PDIA5</text>
<line x1="1313.4" y1="1485.2" x2="2014.2" y2="1485.2" stroke="#000" stroke-width="2.2" />
<rect x="1313.4" y="1482.2" width="32" height="6.2" fill="#000" />
<rect x="1345.9" y="1480" width="16.3" height="10.3" fill="#000" />
<rect x="1738.8" y="1480.2" width="4" height="9.9" fill="#000" />
<rect x="1918.8" y="1480.2" width="4" height="9.9" fill="#000" />
<rect x="2012" y="1480.2" width="4.4" height="9.9" fill="#000" />
<polygon points="1390.8,1485.2 1397,1481.3 1397,1489.1" fill="#000" />
<polygon points="1425.4,1485.2 1431.6,1481.3 1431.6,1489.1" fill="#000" />
<polygon points="1460.1,1485.2 1466.3,1481.3 1466.3,1489.1" fill="#000" />
<polygon points="1495.9,1485.2 1502.1,1481.3 1502.1,1489.1" fill="#000" />
<polygon points="1530.5,1485.2 1536.7,1481.3 1536.7,1489.1" fill="#000" />
<polygon points="1565.2,1485.2 1571.4,1481.3 1571.4,1489.1" fill="#000" />
<polygon points="1600.5,1485.2 1606.7,1481.3 1606.7,1489.1" fill="#000" />
<polygon points="1635.6,1485.2 1641.8,1481.3 1641.8,1489.1" fill="#000" />
<polygon points="1670.3,1485.2 1676.5,1481.3 1676.5,1489.1" fill="#000" />
<polygon points="1706,1485.2 1712.2,1481.3 1712.2,1489.1" fill="#000" />
<polygon points="1775.5,1485.2 1781.7,1481.3 1781.7,1489.1" fill="#000" />
<polygon points="1810.9,1485.2 1817.1,1481.3 1817.1,1489.1" fill="#000" />
<polygon points="1846.2,1485.2 1852.4,1481.3 1852.4,1489.1" fill="#000" />
<polygon points="1881.5,1485.2 1887.7,1481.3 1887.7,1489.1" fill="#000" />
<polygon points="1951.1,1485.2 1957.3,1481.3 1957.3,1489.1" fill="#000" />
<polygon points="1986.4,1485.2 1992.6,1481.3 1992.6,1489.1" fill="#000" />
<text transform="translate(1677.1,1523) scale(1,1.04)" font-size="30.8" fill="#000" text-anchor="middle" >BCL11B</text>
</svg>
</body></html>
